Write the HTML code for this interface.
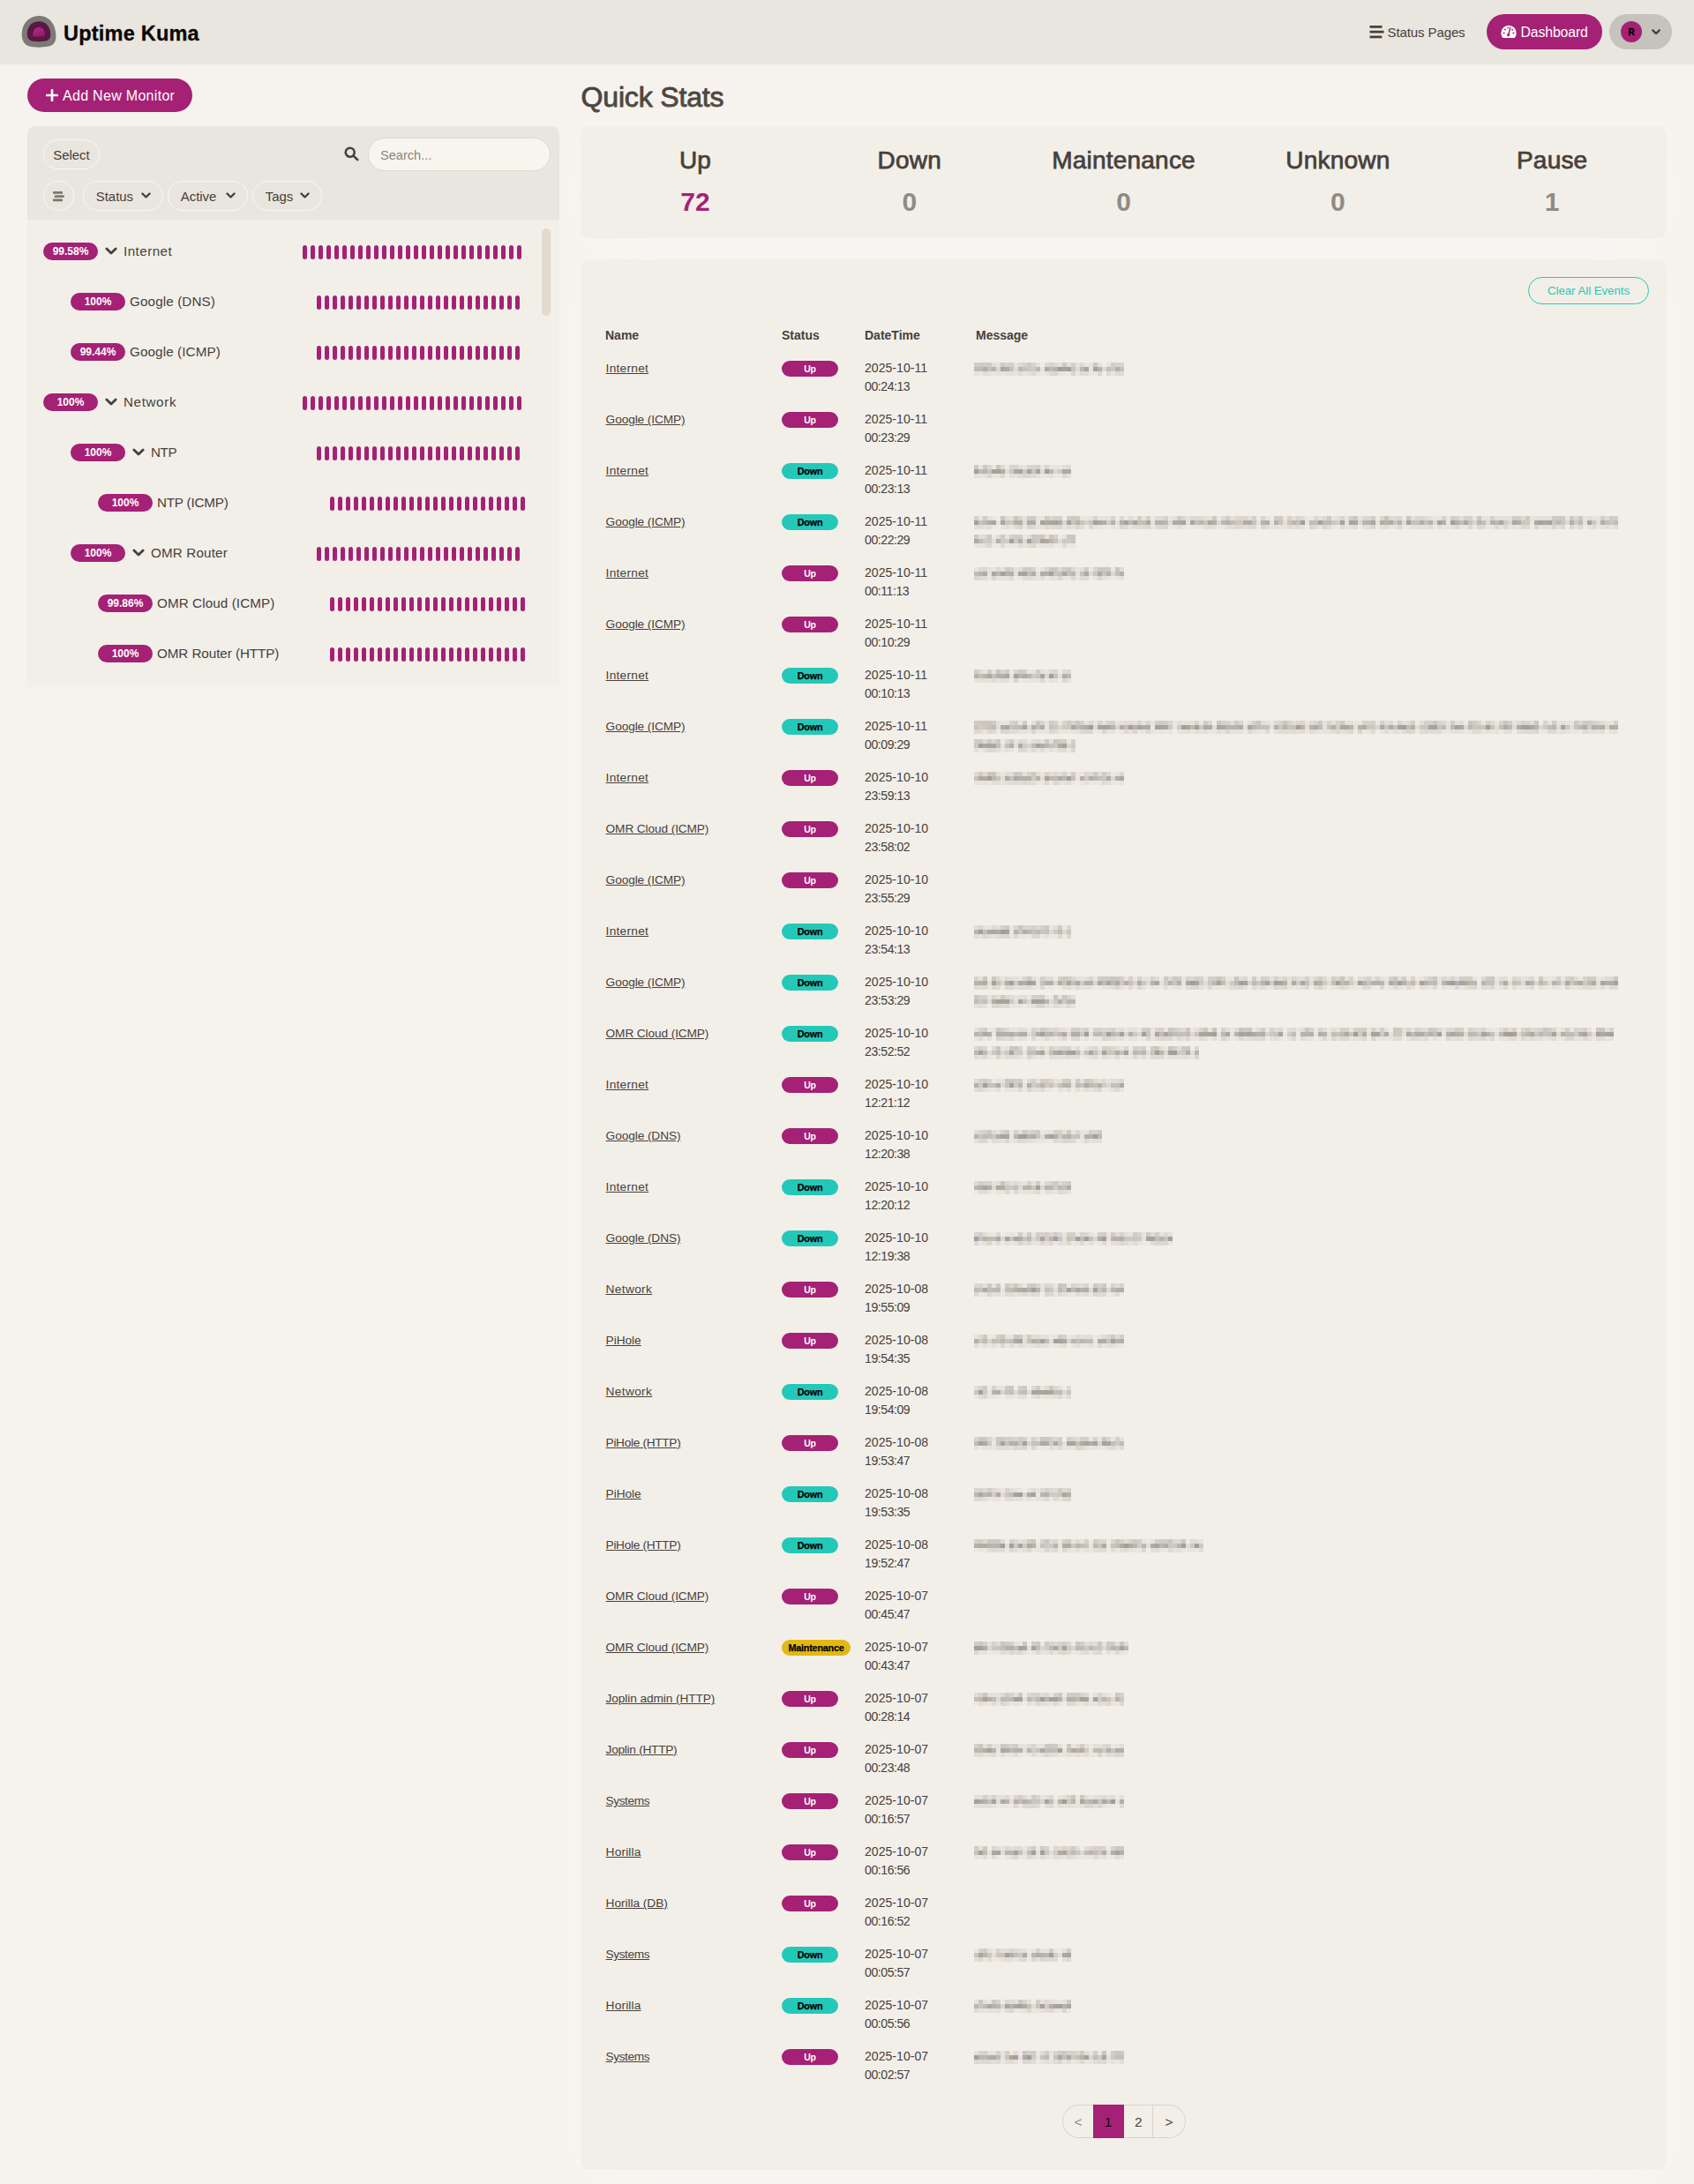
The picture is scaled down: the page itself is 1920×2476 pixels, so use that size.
<!DOCTYPE html><html><head><meta charset="utf-8"><title>Uptime Kuma</title><style>
*{box-sizing:border-box}
html,body{margin:0;padding:0}
body{width:1920px;height:2476px;background:#f6f3ee;font-family:"Liberation Sans",sans-serif;color:#47413a;position:relative;overflow:hidden;font-size:16px}
.abs{position:absolute}
#hdr{left:0;top:0;width:1920px;height:73px;background:#e9e5df}
#title{left:72px;top:21px;font-size:23.5px;font-weight:700;color:#0a0604;line-height:34px;white-space:nowrap;letter-spacing:0.22px;-webkit-text-stroke:0.3px #0a0604}
.pill{border-radius:50rem}
#addbtn{left:31px;top:89px;width:187px;height:38px;background:#a52175;color:#fff;}
#addbtn span{position:absolute;left:40px;top:1.3px;line-height:38px;font-size:16px;white-space:nowrap;letter-spacing:0.3px}
#lpanel{left:31px;top:143px;width:603px;height:636px;background:#f2efe9;border-radius:10px 10px 0 0;overflow:hidden}
#lhead{left:0;top:0;width:603px;height:106px;background:#e9e5df}
.obtn{position:absolute;border:1px solid #faf8f4;border-radius:50rem;height:34px;line-height:35px;font-size:14.9px;color:#47413a;white-space:nowrap}
.item{position:absolute;left:0;width:603px;height:57px}
.ubadge{position:absolute;top:19px;width:62px;height:20px;border-radius:50rem;background:#a52175;color:#fff;font-size:12px;font-weight:700;text-align:center;line-height:21px;letter-spacing:0}
.iname{position:absolute;top:16.8px;line-height:24px;font-size:15.2px;white-space:nowrap}
.beats{position:absolute;top:22px;height:16px;display:flex}
.beats i{display:block;width:5px;height:16px;border-radius:3px;background:#a52175;margin-right:4px}
#qs{left:658.5px;top:89.8px;font-size:32px;line-height:40px;font-weight:400;-webkit-text-stroke:0.85px #47413a;white-space:nowrap;letter-spacing:-0.15px}
.box{background:#f2efe9;border-radius:10px;box-shadow:0 15px 70px rgba(255,252,250,.45)}
#lcover{left:0;top:73px;width:634px;height:2403px;background:#f6f3ee}
#stats{left:658px;top:143px;width:1231px;height:127px}
.stat{position:absolute;top:0;width:243px;text-align:center}
.stat h3{margin:0;position:absolute;left:0;width:243px;top:21.7px;font-size:28px;line-height:34px;font-weight:400;-webkit-text-stroke:0.75px #47413a;letter-spacing:0.2px}
.stat .num{position:absolute;left:0;width:243px;top:68px;font-size:30px;line-height:36px;font-weight:700;color:#8f8a85}
#events{left:658px;top:294px;width:1231px;height:2166px}
#clear{left:1074px;top:20px;width:137px;height:31px;border:1px solid #24c8b8;color:#24c8b8;font-size:13.2px;line-height:29.6px;text-align:center}
table{position:absolute;left:20px;top:68px;width:1190px;border-collapse:collapse;table-layout:fixed;font-size:13.8px;line-height:21px}
th{text-align:left;font-weight:700;padding:8px;height:37px;font-size:14px;letter-spacing:0}
td{padding:8px;vertical-align:top;height:58px}
td.n{width:200px}
td.n{padding-left:8.6px;font-size:13.7px}
td.n span{text-decoration:underline;text-underline-offset:0.6px}
td.s{width:94px}
td.d{width:126px}
td.d div{width:80px;font-size:14.1px}
.b{display:inline-block;min-width:64px;height:18px;border-radius:50rem;font-size:10.5px;font-weight:700;line-height:18px;text-align:center;padding:0 8.5px;vertical-align:top;margin-top:2px;letter-spacing:-0.2px}
.b.up{background:#a52175;color:#fff}
.b.down{background:#24c8b8;color:#000;font-size:10.8px;-webkit-text-stroke:0.25px #000}
.b.mt{background:#e3b813;color:#000;font-size:10.8px;-webkit-text-stroke:0.25px #000;padding:0 7.4px;white-space:nowrap}
.blur{display:block;height:15px;margin:4px 0 0 -2px}
.blur+.blur{margin-top:6px}
#pag{left:546px;top:2092px;height:38.3px;width:142px;display:flex;font-size:15.5px;line-height:37.6px;text-align:center}
#pag div{width:35px;border:1px solid #ddd3c5;border-left:0;height:38.3px}
#pag div:first-child{border-left:1px solid #ddd3c5;border-right:0;border-radius:19.2px 0 0 19.2px;width:35px}
#pag div:last-child{border-radius:0 19.2px 19.2px 0;width:36.6px}
</style></head><body>
<div id="hdr" class="abs">
<svg class="abs" style="left:24px;top:17px" width="41" height="38" viewBox="0 0 41 38"><defs><linearGradient id="lg" x1="0.3" y1="0" x2="0.7" y2="1"><stop offset="0" stop-color="#b5278a"/><stop offset="1" stop-color="#8f1c68"/></linearGradient></defs><path d="M19.5 1 C30 0.5 37.5 8 39 19 C40.5 29 38 34.5 30 35.8 C24 36.8 15 37.2 9.5 35.5 C2 33.2 -0.5 26 1.2 17 C3 8 9.5 1.5 19.5 1 Z" fill="#7d7a75"/><path d="M19.8 7.2 C27.5 7 32.5 12.5 33.2 20 C33.8 26 32 28.8 27 29.6 C22.5 30.3 16.5 30.4 12.5 29.5 C7.5 28.4 6.2 24.5 7 18.8 C8 12 12.5 7.4 19.8 7.2 Z" fill="#581843"/><path d="M20 14 C24 14 26.8 17.2 27 21.2 C27.1 23.3 26.5 23.8 25 24.1 C22.3 24.6 17.8 24.7 15.2 24.3 C13.6 24 13 23.3 13.2 21.2 C13.6 17.2 16 14 20 14 Z" fill="url(#lg)"/></svg>
<div id="title" class="abs">Uptime Kuma</div>
<svg class="abs" style="left:1551.5px;top:29px" width="17" height="15" viewBox="0 0 17 15"><rect x="0.5" y="0.1" width="14" height="2.7" rx="0.3" fill="#47413a"/><rect x="0.5" y="5.8" width="16" height="2.7" rx="0.3" fill="#47413a"/><rect x="0.5" y="11.5" width="13.8" height="2.7" rx="0.3" fill="#47413a"/></svg>
<div class="abs" style="left:1572.5px;top:25px;line-height:24px;font-size:15px;white-space:nowrap;letter-spacing:-0.1px">Status Pages</div>
<div class="abs pill" style="left:1685px;top:16px;width:131px;height:40px;background:#a52175"></div>
<svg class="abs" style="left:1701px;top:28px" width="18" height="16" viewBox="0 0 18 16"><path d="M9 0.8 A8.6 8.6 0 0 0 0.4 9.4 C0.4 11.2 0.9 12.9 1.8 14.3 C2 14.7 2.4 14.9 2.8 14.9 H15.2 C15.6 14.9 16 14.7 16.2 14.3 C17.1 12.9 17.6 11.2 17.6 9.4 A8.6 8.6 0 0 0 9 0.8 Z" fill="#fff"/><circle cx="3.6" cy="9.6" r="1" fill="#a52175"/><circle cx="5" cy="5.6" r="1" fill="#a52175"/><circle cx="14.4" cy="9.6" r="1" fill="#a52175"/><circle cx="13.2" cy="5.8" r="1" fill="#a52175"/><circle cx="8.2" cy="3.6" r="0.9" fill="#a52175"/><path d="M10.9 3.4 L8.6 11.4" stroke="#a52175" stroke-width="1.5" stroke-linecap="round"/><circle cx="8.6" cy="11.6" r="1.7" fill="#a52175"/></svg>
<div class="abs" style="left:1723.5px;top:25px;line-height:24px;font-size:15.8px;letter-spacing:-0.12px;color:#fff;white-space:nowrap">Dashboard</div>
<div class="abs pill" style="left:1824px;top:16px;width:71px;height:40px;background:#c6c2bc"></div>
<div class="abs" style="left:1837px;top:24px;width:24px;height:24px;border-radius:50%;background:#a52175;color:#000;font-size:10px;font-weight:700;-webkit-text-stroke:0.3px #000;text-align:center;line-height:25px">R</div>
<div class="abs" style="left:1872px;top:32.8px;line-height:0"><svg width="10" height="6.4" viewBox="0 0 12 7.6" style=""><path d="M1.6 1.6 L6 6 L10.4 1.6" fill="none" stroke="#4a463f" stroke-width="2.9" stroke-linecap="round" stroke-linejoin="round"/></svg></div>
</div>
<div id="qs" class="abs">Quick Stats</div>
<div id="stats" class="abs box">
<div class="stat" style="left:8.5px"><h3>Up</h3><div class="num" style="color:#a52175">72</div></div>
<div class="stat" style="left:251.3px"><h3>Down</h3><div class="num">0</div></div>
<div class="stat" style="left:494.1px"><h3>Maintenance</h3><div class="num">0</div></div>
<div class="stat" style="left:736.9px"><h3>Unknown</h3><div class="num">0</div></div>
<div class="stat" style="left:979.7px"><h3>Pause</h3><div class="num">1</div></div>
</div>
<div id="events" class="abs box">
<div id="clear" class="abs pill">Clear All Events</div>
<table><thead><tr><th style="width:200px">Name</th><th style="width:94px">Status</th><th style="width:126px">DateTime</th><th>Message</th></tr></thead><tbody>
<tr><td class="n"><span style="letter-spacing:0.26px">Internet</span></td><td class="s"><span class="b up">Up</span></td><td class="d"><div>2025-10-11 <span style="letter-spacing:-0.45px">00:24:13</span></div></td><td class="m"><span class="blur" style="width:170px;background:linear-gradient(90deg,#d1ccc1 0px,#d1ccc1 5px,#ccc9c7 5px,#ccc9c7 10px,#d1cbc3 10px,#d1cbc3 15px,#cdcac7 15px,#cdcac7 20px,#e1e1d6 20px,#e1e1d6 25px,#e6e3d7 25px,#e6e3d7 30px,#cfc9c7 30px,#cfc9c7 35px,#d4d4ca 35px,#d4d4ca 40px,#d2cec6 40px,#d2cec6 45px,#e5e4d9 45px,#e5e4d9 50px,#dbd9d6 50px,#dbd9d6 55px,#d7d2cf 55px,#d7d2cf 60px,#cacabf 60px,#cacabf 65px,#dad3c7 65px,#dad3c7 70px,#e6e1d8 70px,#e6e1d8 75px,#f2ebe4 75px,#f2ebe4 80px,#dcd9d5 80px,#dcd9d5 85px,#d6d5ca 85px,#d6d5ca 90px,#e0d9d2 90px,#e0d9d2 95px,#e6e2d7 95px,#e6e2d7 100px,#cbcac0 100px,#cbcac0 105px,#e2e0d9 105px,#e2e0d9 110px,#d6cfc7 110px,#d6cfc7 115px,#e3e2d8 115px,#e3e2d8 120px,#dfdad3 120px,#dfdad3 125px,#ece5e2 125px,#ece5e2 130px,#e7e3da 130px,#e7e3da 135px,#cacac4 135px,#cacac4 140px,#e6e2da 140px,#e6e2da 145px,#f1ecea 145px,#f1ecea 150px,#e8e3df 150px,#e8e3df 155px,#d4cdcb 155px,#d4cdcb 160px,#d7d3cf 160px,#d7d3cf 165px,#dbd5cd 165px,#dbd5cd 170px) 0 0/100% 5px no-repeat,linear-gradient(90deg,#bebdb9 0px,#bebdb9 5px,#c0bab0 5px,#c0bab0 10px,#b1afa7 10px,#b1afa7 15px,#c5c1b9 15px,#c5c1b9 20px,#bab4af 20px,#bab4af 25px,#d9d8d4 25px,#d9d8d4 30px,#aaa79b 30px,#aaa79b 35px,#acaca3 35px,#acaca3 40px,#c5c3bd 40px,#c5c3bd 45px,#ddddd9 45px,#ddddd9 50px,#bdb8ad 50px,#bdb8ad 55px,#c7c2be 55px,#c7c2be 60px,#cacac1 60px,#cacac1 65px,#cfc9c1 65px,#cfc9c1 70px,#bdb7b4 70px,#bdb7b4 75px,#e9e3e1 75px,#e9e3e1 80px,#abaaa5 80px,#abaaa5 85px,#bcbab7 85px,#bcbab7 90px,#b3b3b0 90px,#b3b3b0 95px,#a09e94 95px,#a09e94 100px,#a9a499 100px,#a9a499 105px,#a09f9a 105px,#a09f9a 110px,#cbc5c1 110px,#cbc5c1 115px,#e1dcd1 115px,#e1dcd1 120px,#bcb5b2 120px,#bcb5b2 125px,#aca59c 125px,#aca59c 130px,#eae3dd 130px,#eae3dd 135px,#a5a3a0 135px,#a5a3a0 140px,#b7b3aa 140px,#b7b3aa 145px,#d9d9d4 145px,#d9d9d4 150px,#c4bfbb 150px,#c4bfbb 155px,#cacac0 155px,#cacac0 160px,#b2b1ab 160px,#b2b1ab 165px,#c4bfbb 165px,#c4bfbb 170px) 0 5px/100% 5px no-repeat,linear-gradient(90deg,#e4e1d7 0px,#e4e1d7 5px,#ece7db 5px,#ece7db 10px,#e0ddd8 10px,#e0ddd8 15px,#e5e2dd 15px,#e5e2dd 20px,#ede6df 20px,#ede6df 25px,#e4e4de 25px,#e4e4de 30px,#e9e5e0 30px,#e9e5e0 35px,#e8e1da 35px,#e8e1da 40px,#e2e1dc 40px,#e2e1dc 45px,#e8e5dc 45px,#e8e5dc 50px,#e1dcd7 50px,#e1dcd7 55px,#e5e5dc 55px,#e5e5dc 60px,#e2e1d5 60px,#e2e1d5 65px,#dfd9d4 65px,#dfd9d4 70px,#e7e5dd 70px,#e7e5dd 75px,#eae9e1 75px,#eae9e1 80px,#eae4e1 80px,#eae4e1 85px,#dddbd7 85px,#dddbd7 90px,#d8d6cb 90px,#d8d6cb 95px,#e6e4d9 95px,#e6e4d9 100px,#eae5e1 100px,#eae5e1 105px,#e9e7e5 105px,#e9e7e5 110px,#d7d6cc 110px,#d7d6cc 115px,#ece6e1 115px,#ece6e1 120px,#dcdcd6 120px,#dcdcd6 125px,#e0dcd2 125px,#e0dcd2 130px,#ece7e1 130px,#ece7e1 135px,#ede7e3 135px,#ede7e3 140px,#dcd7ce 140px,#dcd7ce 145px,#f2ece2 145px,#f2ece2 150px,#dcdad0 150px,#dcdad0 155px,#e6e6dd 155px,#e6e6dd 160px,#dbdbd7 160px,#dbdbd7 165px,#dddbd2 165px,#dddbd2 170px) 0 10px/100% 5px no-repeat"></span></td></tr>
<tr><td class="n"><span style="letter-spacing:-0.11px">Google (ICMP)</span></td><td class="s"><span class="b up">Up</span></td><td class="d"><div>2025-10-11 <span style="letter-spacing:-0.45px">00:23:29</span></div></td><td class="m"></td></tr>
<tr><td class="n"><span style="letter-spacing:0.26px">Internet</span></td><td class="s"><span class="b down">Down</span></td><td class="d"><div>2025-10-11 <span style="letter-spacing:-0.45px">00:23:13</span></div></td><td class="m"><span class="blur" style="width:110px;background:linear-gradient(90deg,#cec9bd 0px,#cec9bd 5px,#e5e4da 5px,#e5e4da 10px,#ccc9c4 10px,#ccc9c4 15px,#d7d7d4 15px,#d7d7d4 20px,#ede6dc 20px,#ede6dc 25px,#c8c7be 25px,#c8c7be 30px,#dddad4 30px,#dddad4 35px,#f0e9df 35px,#f0e9df 40px,#d9d5cb 40px,#d9d5cb 45px,#d9d2ce 45px,#d9d2ce 50px,#e1e0d8 50px,#e1e0d8 55px,#e7e2df 55px,#e7e2df 60px,#dbd5d2 60px,#dbd5d2 65px,#d7d3d0 65px,#d7d3d0 70px,#d4cfcb 70px,#d4cfcb 75px,#e8e6dd 75px,#e8e6dd 80px,#d5d4cc 80px,#d5d4cc 85px,#e7e5d9 85px,#e7e5d9 90px,#e7e5dd 90px,#e7e5dd 95px,#ece6df 95px,#ece6df 100px,#e3e0d9 100px,#e3e0d9 105px,#dbdad3 105px,#dbdad3 110px) 0 0/100% 5px no-repeat,linear-gradient(90deg,#a49f95 0px,#a49f95 5px,#c2bbb9 5px,#c2bbb9 10px,#bbb6ac 10px,#bbb6ac 15px,#c9c5bb 15px,#c9c5bb 20px,#a3a29d 20px,#a3a29d 25px,#a5a49e 25px,#a5a49e 30px,#afafab 30px,#afafab 35px,#dedcd4 35px,#dedcd4 40px,#cdc9c1 40px,#cdc9c1 45px,#aea7a0 45px,#aea7a0 50px,#a7a3a1 50px,#a7a3a1 55px,#cccac2 55px,#cccac2 60px,#a6a2a0 60px,#a6a2a0 65px,#c7c6c0 65px,#c7c6c0 70px,#a6a3a0 70px,#a6a3a0 75px,#dddcd3 75px,#dddcd3 80px,#a39e94 80px,#a39e94 85px,#bcb8ad 85px,#bcb8ad 90px,#d8d8ce 90px,#d8d8ce 95px,#cecbc8 95px,#cecbc8 100px,#aca8a6 100px,#aca8a6 105px,#aca9a3 105px,#aca9a3 110px) 0 5px/100% 5px no-repeat,linear-gradient(90deg,#e2dfd9 0px,#e2dfd9 5px,#e6e4de 5px,#e6e4de 10px,#e1e1db 10px,#e1e1db 15px,#d7d7d5 15px,#d7d7d5 20px,#e9e6dc 20px,#e9e6dc 25px,#e8e5dc 25px,#e8e5dc 30px,#dfd9cd 30px,#dfd9cd 35px,#f1ebe1 35px,#f1ebe1 40px,#e2dfda 40px,#e2dfda 45px,#e3e0d4 45px,#e3e0d4 50px,#e0dad3 50px,#e0dad3 55px,#d9d7d5 55px,#d9d7d5 60px,#dcd8d0 60px,#dcd8d0 65px,#dbdbd8 65px,#dbdbd8 70px,#e6e2d7 70px,#e6e2d7 75px,#ebe7e5 75px,#ebe7e5 80px,#e6e4e0 80px,#e6e4e0 85px,#e5dedc 85px,#e5dedc 90px,#ede8e1 90px,#ede8e1 95px,#ece7e2 95px,#ece7e2 100px,#dbd7d2 100px,#dbd7d2 105px,#e3e1df 105px,#e3e1df 110px) 0 10px/100% 5px no-repeat"></span></td></tr>
<tr><td class="n"><span style="letter-spacing:-0.11px">Google (ICMP)</span></td><td class="s"><span class="b down">Down</span></td><td class="d"><div>2025-10-11 <span style="letter-spacing:-0.45px">00:22:29</span></div></td><td class="m"><span class="blur" style="width:730px;background:linear-gradient(90deg,#d5cfc8 0px,#d5cfc8 5px,#e7e5df 5px,#e7e5df 10px,#cfcfc5 10px,#cfcfc5 15px,#e3e1d7 15px,#e3e1d7 20px,#e6e6da 20px,#e6e6da 25px,#eeebe8 25px,#eeebe8 30px,#c7c7c3 30px,#c7c7c3 35px,#deddd5 35px,#deddd5 40px,#e2e2d6 40px,#e2e2d6 45px,#cac7be 45px,#cac7be 50px,#d6d6cd 50px,#d6d6cd 55px,#e4e3d7 55px,#e4e3d7 60px,#d1cac4 60px,#d1cac4 65px,#cecac5 65px,#cecac5 70px,#e8e5d9 70px,#e8e5d9 75px,#eae3db 75px,#eae3db 80px,#d1cabe 80px,#d1cabe 85px,#d8d8cd 85px,#d8d8cd 90px,#d3d2c7 90px,#d3d2c7 95px,#d4cfc9 95px,#d4cfc9 100px,#f0ece1 100px,#f0ece1 105px,#cecec5 105px,#cecec5 110px,#d0c9c3 110px,#d0c9c3 115px,#cfccc0 115px,#cfccc0 120px,#e9e5db 120px,#e9e5db 125px,#ede6dd 125px,#ede6dd 130px,#e4e3d9 130px,#e4e3d9 135px,#d6d2cf 135px,#d6d2cf 140px,#e4e4de 140px,#e4e4de 145px,#e4e3d9 145px,#e4e3d9 150px,#e6e2da 150px,#e6e2da 155px,#d6d3d0 155px,#d6d3d0 160px,#ecebe7 160px,#ecebe7 165px,#dbd6d2 165px,#dbd6d2 170px,#eae6e3 170px,#eae6e3 175px,#e0ddd4 175px,#e0ddd4 180px,#ebe5e3 180px,#ebe5e3 185px,#d0d0c7 185px,#d0d0c7 190px,#e8e2dc 190px,#e8e2dc 195px,#d5cfc8 195px,#d5cfc8 200px,#ede8e5 200px,#ede8e5 205px,#dbdbd4 205px,#dbdbd4 210px,#e1dbd8 210px,#e1dbd8 215px,#d2d2cc 215px,#d2d2cc 220px,#ebe6e3 220px,#ebe6e3 225px,#e5dfd4 225px,#e5dfd4 230px,#cfcac2 230px,#cfcac2 235px,#d7d7d1 235px,#d7d7d1 240px,#e3e3d7 240px,#e3e3d7 245px,#dad8d3 245px,#dad8d3 250px,#ddd7cd 250px,#ddd7cd 255px,#dddad3 255px,#dddad3 260px,#e1e1d5 260px,#e1e1d5 265px,#e2dfdc 265px,#e2dfdc 270px,#cfc9c0 270px,#cfc9c0 275px,#edebdf 275px,#edebdf 280px,#dfd8d6 280px,#dfd8d6 285px,#d0cec5 285px,#d0cec5 290px,#e5e0da 290px,#e5e0da 295px,#ddd9cd 295px,#ddd9cd 300px,#dcd6ca 300px,#dcd6ca 305px,#d9d5cc 305px,#d9d5cc 310px,#e0dfdb 310px,#e0dfdb 315px,#d1d0cb 315px,#d1d0cb 320px,#f1eae0 320px,#f1eae0 325px,#dbd4cd 325px,#dbd4cd 330px,#e8e2de 330px,#e8e2de 335px,#edeae5 335px,#edeae5 340px,#cdcbc4 340px,#cdcbc4 345px,#d0cbc6 345px,#d0cbc6 350px,#ebe7dc 350px,#ebe7dc 355px,#d2d2ca 355px,#d2d2ca 360px,#e4ded4 360px,#e4ded4 365px,#d9d3cd 365px,#d9d3cd 370px,#dbdbd2 370px,#dbdbd2 375px,#ebe6e2 375px,#ebe6e2 380px,#e9e6e3 380px,#e9e6e3 385px,#dad7cf 385px,#dad7cf 390px,#e6dfd7 390px,#e6dfd7 395px,#d9d9d5 395px,#d9d9d5 400px,#cec8bf 400px,#cec8bf 405px,#e5e5e2 405px,#e5e5e2 410px,#e6dfd6 410px,#e6dfd6 415px,#d6d5d0 415px,#d6d5d0 420px,#e6e4da 420px,#e6e4da 425px,#d3ccc9 425px,#d3ccc9 430px,#c8c8c4 430px,#c8c8c4 435px,#e5e5d9 435px,#e5e5d9 440px,#dbd9cd 440px,#dbd9cd 445px,#dcd6d3 445px,#dcd6d3 450px,#cdccc6 450px,#cdccc6 455px,#edeae2 455px,#edeae2 460px,#d9d6cb 460px,#d9d6cb 465px,#c6c6bc 465px,#c6c6bc 470px,#e0d9d3 470px,#e0d9d3 475px,#dddad1 475px,#dddad1 480px,#d8d5d3 480px,#d8d5d3 485px,#ece8e6 485px,#ece8e6 490px,#cac7be 490px,#cac7be 495px,#e1e0da 495px,#e1e0da 500px,#dad4cd 500px,#dad4cd 505px,#dbd4d2 505px,#dbd4d2 510px,#e1dbd4 510px,#e1dbd4 515px,#e2dfdd 515px,#e2dfdd 520px,#e7e6e1 520px,#e7e6e1 525px,#e8e5df 525px,#e8e5df 530px,#d5d2c9 530px,#d5d2c9 535px,#e9e5df 535px,#e9e5df 540px,#d3ccc1 540px,#d3ccc1 545px,#d4d1c8 545px,#d4d1c8 550px,#e0e0d5 550px,#e0e0d5 555px,#d5cfcd 555px,#d5cfcd 560px,#d3d3c8 560px,#d3d3c8 565px,#eae4e2 565px,#eae4e2 570px,#cbc9c1 570px,#cbc9c1 575px,#e7e2df 575px,#e7e2df 580px,#e5e3dc 580px,#e5e3dc 585px,#d4d2c6 585px,#d4d2c6 590px,#e3e3dd 590px,#e3e3dd 595px,#e3ded7 595px,#e3ded7 600px,#e4e2df 600px,#e4e2df 605px,#e3e2dc 605px,#e3e2dc 610px,#d0cbc3 610px,#d0cbc3 615px,#d0cdc5 615px,#d0cdc5 620px,#e0dcd4 620px,#e0dcd4 625px,#cbcbc2 625px,#cbcbc2 630px,#eae5db 630px,#eae5db 635px,#e5e2db 635px,#e5e2db 640px,#e4dddb 640px,#e4dddb 645px,#e3e0d4 645px,#e3e0d4 650px,#dfdfd7 650px,#dfdfd7 655px,#cfc8c5 655px,#cfc8c5 660px,#cdc9c4 660px,#cdc9c4 665px,#cfcac3 665px,#cfcac3 670px,#ebe6db 670px,#ebe6db 675px,#ccc8c1 675px,#ccc8c1 680px,#dbd7d5 680px,#dbd7d5 685px,#cacac5 685px,#cacac5 690px,#eae3da 690px,#eae3da 695px,#e2ded6 695px,#e2ded6 700px,#e7e5dc 700px,#e7e5dc 705px,#e4e4de 705px,#e4e4de 710px,#d2cfc8 710px,#d2cfc8 715px,#e1dad3 715px,#e1dad3 720px,#cecbc3 720px,#cecbc3 725px,#d3d0c8 725px,#d3d0c8 730px) 0 0/100% 5px no-repeat,linear-gradient(90deg,#a2a299 0px,#a2a299 5px,#c6c1bd 5px,#c6c1bd 10px,#bab9b6 10px,#bab9b6 15px,#afaea9 15px,#afaea9 20px,#aaa49b 20px,#aaa49b 25px,#e4e2dd 25px,#e4e2dd 30px,#aca69d 30px,#aca69d 35px,#c8c5bb 35px,#c8c5bb 40px,#c9c8c2 40px,#c9c8c2 45px,#b4b0a5 45px,#b4b0a5 50px,#b4afa9 50px,#b4afa9 55px,#dfdcd3 55px,#dfdcd3 60px,#afada8 60px,#afada8 65px,#afada7 65px,#afada7 70px,#e9e6df 70px,#e9e6df 75px,#a8a29c 75px,#a8a29c 80px,#b0ada1 80px,#b0ada1 85px,#aba4a2 85px,#aba4a2 90px,#a4a49b 90px,#a4a49b 95px,#b3aca5 95px,#b3aca5 100px,#d9d5d0 100px,#d9d5d0 105px,#a5a5a0 105px,#a5a5a0 110px,#c7c4c1 110px,#c7c4c1 115px,#b7b5ac 115px,#b7b5ac 120px,#c8c4b8 120px,#c8c4b8 125px,#d5d4c8 125px,#d5d4c8 130px,#c9c4bf 130px,#c9c4bf 135px,#a5a099 135px,#a5a099 140px,#a7a7a2 140px,#a7a7a2 145px,#aeaea3 145px,#aeaea3 150px,#cfccca 150px,#cfccca 155px,#b8b2a6 155px,#b8b2a6 160px,#e1dfd4 160px,#e1dfd4 165px,#b2b1ac 165px,#b2b1ac 170px,#a7a096 170px,#a7a096 175px,#bdbcb4 175px,#bdbcb4 180px,#aaa498 180px,#aaa498 185px,#c3c1b5 185px,#c3c1b5 190px,#c1c0b4 190px,#c1c0b4 195px,#aea8a2 195px,#aea8a2 200px,#e5e1d5 200px,#e5e1d5 205px,#b7b1af 205px,#b7b1af 210px,#b6b1a9 210px,#b6b1a9 215px,#b8b8b1 215px,#b8b8b1 220px,#e0dad2 220px,#e0dad2 225px,#ababa3 225px,#ababa3 230px,#aea8a5 230px,#aea8a5 235px,#a9a398 235px,#a9a398 240px,#e6dfdb 240px,#e6dfdb 245px,#a6a6a4 245px,#a6a6a4 250px,#c3c1b5 250px,#c3c1b5 255px,#b8b7ac 255px,#b8b7ac 260px,#cac5bb 260px,#cac5bb 265px,#aaa8a1 265px,#aaa8a1 270px,#b2b0a6 270px,#b2b0a6 275px,#dad9d6 275px,#dad9d6 280px,#bdb6b1 280px,#bdb6b1 285px,#b3b1af 285px,#b3b1af 290px,#c1bcba 290px,#c1bcba 295px,#cac4c1 295px,#cac4c1 300px,#cdcbbf 300px,#cdcbbf 305px,#b2aca1 305px,#b2aca1 310px,#b1aaa6 310px,#b1aaa6 315px,#c5c2c0 315px,#c5c2c0 320px,#e2e0d8 320px,#e2e0d8 325px,#b5b4b0 325px,#b5b4b0 330px,#b0adab 330px,#b0adab 335px,#e5e5d9 335px,#e5e5d9 340px,#b3b2aa 340px,#b3b2aa 345px,#cbc4ba 345px,#cbc4ba 350px,#e3ddd7 350px,#e3ddd7 355px,#c6c3bb 355px,#c6c3bb 360px,#bbb6ad 360px,#bbb6ad 365px,#c5beba 365px,#c5beba 370px,#9f9f94 370px,#9f9f94 375px,#eae3de 375px,#eae3de 380px,#c1bab6 380px,#c1bab6 385px,#c2bcb9 385px,#c2bcb9 390px,#a4a29b 390px,#a4a29b 395px,#beb9b6 395px,#beb9b6 400px,#babab8 400px,#babab8 405px,#c8c6c3 405px,#c8c6c3 410px,#d1ccc2 410px,#d1ccc2 415px,#a3a399 415px,#a3a399 420px,#e2e0de 420px,#e2e0de 425px,#a3a29d 425px,#a3a29d 430px,#ada6a0 430px,#ada6a0 435px,#dcd9d6 435px,#dcd9d6 440px,#b8b4b0 440px,#b8b4b0 445px,#b6b2a9 445px,#b6b2a9 450px,#aba79d 450px,#aba79d 455px,#e6e3d8 455px,#e6e3d8 460px,#b1aea7 460px,#b1aea7 465px,#b5b5b0 465px,#b5b5b0 470px,#afa9a5 470px,#afa9a5 475px,#cac6ba 475px,#cac6ba 480px,#b8b2ae 480px,#b8b2ae 485px,#dddcd2 485px,#dddcd2 490px,#a6a198 490px,#a6a198 495px,#c2c1bb 495px,#c2c1bb 500px,#c6c0b9 500px,#c6c0b9 505px,#b4aea7 505px,#b4aea7 510px,#c4c2bb 510px,#c4c2bb 515px,#b4b3aa 515px,#b4b3aa 520px,#dddbd0 520px,#dddbd0 525px,#a5a197 525px,#a5a197 530px,#b2aea2 530px,#b2aea2 535px,#ebe6e4 535px,#ebe6e4 540px,#a3a09c 540px,#a3a09c 545px,#b6b0a8 545px,#b6b0a8 550px,#c3bebc 550px,#c3bebc 555px,#ada6a1 555px,#ada6a1 560px,#c5c5c3 560px,#c5c5c3 565px,#d5d5ca 565px,#d5d5ca 570px,#b8b4b1 570px,#b8b4b1 575px,#c4bfb5 575px,#c4bfb5 580px,#e1dbd0 580px,#e1dbd0 585px,#b3b1ac 585px,#b3b1ac 590px,#bcb5b1 590px,#bcb5b1 595px,#a6a6a1 595px,#a6a6a1 600px,#cdcbc2 600px,#cdcbc2 605px,#d8d7cb 605px,#d8d7cb 610px,#aba79f 610px,#aba79f 615px,#aeaeac 615px,#aeaeac 620px,#ccc7bc 620px,#ccc7bc 625px,#cec7bc 625px,#cec7bc 630px,#ebe4df 630px,#ebe4df 635px,#a8a8a6 635px,#a8a8a6 640px,#a1a199 640px,#a1a199 645px,#aca9a5 645px,#aca9a5 650px,#a2a19f 650px,#a2a19f 655px,#c8c5c1 655px,#c8c5c1 660px,#bbb8ae 660px,#bbb8ae 665px,#cac4b9 665px,#cac4b9 670px,#ddd9d6 670px,#ddd9d6 675px,#b1b1a8 675px,#b1b1a8 680px,#cbcbc3 680px,#cbcbc3 685px,#c0b9b6 685px,#c0b9b6 690px,#e4e2dd 690px,#e4e2dd 695px,#a8a49f 695px,#a8a49f 700px,#c7c7c4 700px,#c7c7c4 705px,#e2dedc 705px,#e2dedc 710px,#b5afa3 710px,#b5afa3 715px,#c3bfb9 715px,#c3bfb9 720px,#cac7c4 720px,#cac7c4 725px,#bebeba 725px,#bebeba 730px) 0 5px/100% 5px no-repeat,linear-gradient(90deg,#e1ded9 0px,#e1ded9 5px,#e0dbd6 5px,#e0dbd6 10px,#e7e2d7 10px,#e7e2d7 15px,#e3ddd1 15px,#e3ddd1 20px,#eee7de 20px,#eee7de 25px,#ececea 25px,#ececea 30px,#e6e3d8 30px,#e6e3d8 35px,#e2dfd7 35px,#e2dfd7 40px,#e9e8dd 40px,#e9e8dd 45px,#dddbd9 45px,#dddbd9 50px,#d7d6d3 50px,#d7d6d3 55px,#ebe6e2 55px,#ebe6e2 60px,#d6d6d4 60px,#d6d6d4 65px,#dadad7 65px,#dadad7 70px,#e5e4d9 70px,#e5e4d9 75px,#e4e1d7 75px,#e4e1d7 80px,#ded8d5 80px,#ded8d5 85px,#e0ddd8 85px,#e0ddd8 90px,#d9d9d7 90px,#d9d9d7 95px,#dcd8cf 95px,#dcd8cf 100px,#e7e5e2 100px,#e7e5e2 105px,#e0dcd5 105px,#e0dcd5 110px,#e6e0da 110px,#e6e0da 115px,#dbd6d0 115px,#dbd6d0 120px,#dfdfd8 120px,#dfdfd8 125px,#f0e9e3 125px,#f0e9e3 130px,#dcd6d4 130px,#dcd6d4 135px,#e4e3dc 135px,#e4e3dc 140px,#e5e5db 140px,#e5e5db 145px,#ebe8e5 145px,#ebe8e5 150px,#ece8e4 150px,#ece8e4 155px,#e3e3d9 155px,#e3e3d9 160px,#ebe7e5 160px,#ebe7e5 165px,#dbd6cd 165px,#dbd6cd 170px,#e0d9d5 170px,#e0d9d5 175px,#eae5db 175px,#eae5db 180px,#e0ded8 180px,#e0ded8 185px,#dfdcd3 185px,#dfdcd3 190px,#dcdbcf 190px,#dcdbcf 195px,#dfd8ce 195px,#dfd8ce 200px,#eae5de 200px,#eae5de 205px,#dfd9d1 205px,#dfd9d1 210px,#ded8cc 210px,#ded8cc 215px,#dbd6d1 215px,#dbd6d1 220px,#ece8e0 220px,#ece8e0 225px,#e9e7df 225px,#e9e7df 230px,#e4ddd9 230px,#e4ddd9 235px,#e7e7e0 235px,#e7e7e0 240px,#ebe9e0 240px,#ebe9e0 245px,#ece7e3 245px,#ece7e3 250px,#ebe4de 250px,#ebe4de 255px,#ebe8e4 255px,#ebe8e4 260px,#e7e0d4 260px,#e7e0d4 265px,#e0ddd7 265px,#e0ddd7 270px,#e1dfdb 270px,#e1dfdb 275px,#ece7dc 275px,#ece7dc 280px,#ebe6e2 280px,#ebe6e2 285px,#e2ddd8 285px,#e2ddd8 290px,#dfdeda 290px,#dfdeda 295px,#dcd9d1 295px,#dcd9d1 300px,#dcdad4 300px,#dcdad4 305px,#e5dfd9 305px,#e5dfd9 310px,#dddcd0 310px,#dddcd0 315px,#ddd9d4 315px,#ddd9d4 320px,#f1eae8 320px,#f1eae8 325px,#dcd6ce 325px,#dcd6ce 330px,#e1ddd4 330px,#e1ddd4 335px,#e6e4de 335px,#e6e4de 340px,#e2e2dd 340px,#e2e2dd 345px,#e9e3de 345px,#e9e3de 350px,#e9e7db 350px,#e9e7db 355px,#e0d9d1 355px,#e0d9d1 360px,#e4e0d4 360px,#e4e0d4 365px,#dfd9d4 365px,#dfd9d4 370px,#e4e2dc 370px,#e4e2dc 375px,#f1eae1 375px,#f1eae1 380px,#dcd6cc 380px,#dcd6cc 385px,#e0dbd9 385px,#e0dbd9 390px,#e9e2df 390px,#e9e2df 395px,#dbd7cd 395px,#dbd7cd 400px,#dedcd7 400px,#dedcd7 405px,#ebe6e3 405px,#ebe6e3 410px,#efe8de 410px,#efe8de 415px,#e3dcd2 415px,#e3dcd2 420px,#e9e4da 420px,#e9e4da 425px,#e6e0d7 425px,#e6e0d7 430px,#dedcd4 430px,#dedcd4 435px,#edece1 435px,#edece1 440px,#e1e1db 440px,#e1e1db 445px,#e4ded6 445px,#e4ded6 450px,#d7d7d4 450px,#d7d7d4 455px,#f0eade 455px,#f0eade 460px,#e5e1de 460px,#e5e1de 465px,#e1ddd5 465px,#e1ddd5 470px,#e9e6de 470px,#e9e6de 475px,#e7e4e0 475px,#e7e4e0 480px,#dbdace 480px,#dbdace 485px,#eee7db 485px,#eee7db 490px,#eae7e3 490px,#eae7e3 495px,#e7e1d8 495px,#e7e1d8 500px,#e1dfd6 500px,#e1dfd6 505px,#e4e1db 505px,#e4e1db 510px,#e6e2da 510px,#e6e2da 515px,#e2dbd9 515px,#e2dbd9 520px,#ede8e3 520px,#ede8e3 525px,#e4dfd6 525px,#e4dfd6 530px,#ebe5da 530px,#ebe5da 535px,#eae5e1 535px,#eae5e1 540px,#e5dfdd 540px,#e5dfdd 545px,#ddd8d4 545px,#ddd8d4 550px,#ebe6da 550px,#ebe6da 555px,#e8e8dc 555px,#e8e8dc 560px,#d9d6d3 560px,#d9d6d3 565px,#ece8dd 565px,#ece8dd 570px,#dbd9d4 570px,#dbd9d4 575px,#e2dbd4 575px,#e2dbd4 580px,#e9e6de 580px,#e9e6de 585px,#e9e7dc 585px,#e9e7dc 590px,#dcd8d3 590px,#dcd8d3 595px,#e8e5db 595px,#e8e5db 600px,#dfd8cc 600px,#dfd8cc 605px,#e6e5df 605px,#e6e5df 610px,#e6e3df 610px,#e6e3df 615px,#ece5db 615px,#ece5db 620px,#ded7ce 620px,#ded7ce 625px,#e1dad5 625px,#e1dad5 630px,#edebe1 630px,#edebe1 635px,#d8d6cf 635px,#d8d6cf 640px,#ebe4d8 640px,#ebe4d8 645px,#e6dfd8 645px,#e6dfd8 650px,#e9e3d7 650px,#e9e3d7 655px,#dad8cc 655px,#dad8cc 660px,#e1e1df 660px,#e1e1df 665px,#dcd7d4 665px,#dcd7d4 670px,#f3ece3 670px,#f3ece3 675px,#dadad5 675px,#dadad5 680px,#e5e3dc 680px,#e5e3dc 685px,#ded9d2 685px,#ded9d2 690px,#eeebe5 690px,#eeebe5 695px,#e8e3db 695px,#e8e3db 700px,#deded8 700px,#deded8 705px,#ede8df 705px,#ede8df 710px,#e7e2d8 710px,#e7e2d8 715px,#e3ded9 715px,#e3ded9 720px,#e6e5de 720px,#e6e5de 725px,#e1dcd6 725px,#e1dcd6 730px) 0 10px/100% 5px no-repeat"></span><span class="blur" style="width:115px;background:linear-gradient(90deg,#cec8be 0px,#cec8be 5px,#dfdfd7 5px,#dfdfd7 10px,#dad9d7 10px,#dad9d7 15px,#cbc8bf 15px,#cbc8bf 20px,#ebebe1 20px,#ebebe1 25px,#e0ded2 25px,#e0ded2 30px,#cecbc9 30px,#cecbc9 35px,#e5e3e0 35px,#e5e3e0 40px,#d1d1c9 40px,#d1d1c9 45px,#ccccc5 45px,#ccccc5 50px,#d2cec4 50px,#d2cec4 55px,#eae6e2 55px,#eae6e2 60px,#e0e0d9 60px,#e0e0d9 65px,#cdc7bc 65px,#cdc7bc 70px,#d0c9be 70px,#d0c9be 75px,#c9c8c0 75px,#c9c8c0 80px,#e6dfdc 80px,#e6dfdc 85px,#ccc6bb 85px,#ccc6bb 90px,#d6cfc7 90px,#d6cfc7 95px,#ebeae7 95px,#ebeae7 100px,#e7e4e0 100px,#e7e4e0 105px,#ccc6c4 105px,#ccc6c4 110px,#c7c6c3 110px,#c7c6c3 115px) 0 0/100% 5px no-repeat,linear-gradient(90deg,#acaba7 0px,#acaba7 5px,#bcbcb6 5px,#bcbcb6 10px,#cfccc3 10px,#cfccc3 15px,#ceccca 15px,#ceccca 20px,#e1dfdc 20px,#e1dfdc 25px,#b7b0a7 25px,#b7b0a7 30px,#ccc8c6 30px,#ccc8c6 35px,#cbcbc9 35px,#cbcbc9 40px,#a1a195 40px,#a1a195 45px,#cac9c1 45px,#cac9c1 50px,#b5b1a6 50px,#b5b1a6 55px,#e0d9ce 55px,#e0d9ce 60px,#a6a19a 60px,#a6a19a 65px,#c9c2b9 65px,#c9c2b9 70px,#cbc9c5 70px,#cbc9c5 75px,#aaa599 75px,#aaa599 80px,#aea89f 80px,#aea89f 85px,#bdb6b0 85px,#bdb6b0 90px,#c7c2bc 90px,#c7c2bc 95px,#dcdcd1 95px,#dcdcd1 100px,#ccc7bc 100px,#ccc7bc 105px,#ccccc8 105px,#ccccc8 110px,#c8c4b9 110px,#c8c4b9 115px) 0 5px/100% 5px no-repeat,linear-gradient(90deg,#e6e3db 0px,#e6e3db 5px,#e8e2d7 5px,#e8e2d7 10px,#e4ddd7 10px,#e4ddd7 15px,#dbd6d0 15px,#dbd6d0 20px,#eee8e4 20px,#eee8e4 25px,#e8e8e2 25px,#e8e8e2 30px,#dcdad4 30px,#dcdad4 35px,#eee7e0 35px,#eee7e0 40px,#e8e7dd 40px,#e8e7dd 45px,#eee7df 45px,#eee7df 50px,#dfdcd6 50px,#dfdcd6 55px,#eae4db 55px,#eae4db 60px,#e0dcd1 60px,#e0dcd1 65px,#dcd6cd 65px,#dcd6cd 70px,#e8e7dd 70px,#e8e7dd 75px,#e2e1dc 75px,#e2e1dc 80px,#e6e2d8 80px,#e6e2d8 85px,#e7e0d6 85px,#e7e0d6 90px,#ebe8e3 90px,#ebe8e3 95px,#eae7e4 95px,#eae7e4 100px,#dfdbd4 100px,#dfdbd4 105px,#ede8e0 105px,#ede8e0 110px,#e8e6e1 110px,#e8e6e1 115px) 0 10px/100% 5px no-repeat"></span></td></tr>
<tr><td class="n"><span style="letter-spacing:0.26px">Internet</span></td><td class="s"><span class="b up">Up</span></td><td class="d"><div>2025-10-11 <span style="letter-spacing:-0.45px">00:11:13</span></div></td><td class="m"><span class="blur" style="width:170px;background:linear-gradient(90deg,#e4e3df 0px,#e4e3df 5px,#dadad3 5px,#dadad3 10px,#d7d7d4 10px,#d7d7d4 15px,#e5e2d7 15px,#e5e2d7 20px,#e8e5df 20px,#e8e5df 25px,#ddd7d4 25px,#ddd7d4 30px,#e4e2dc 30px,#e4e2dc 35px,#cdc8c3 35px,#cdc8c3 40px,#d7d1ce 40px,#d7d1ce 45px,#e2e2e0 45px,#e2e2e0 50px,#e4ddd4 50px,#e4ddd4 55px,#d0cac7 55px,#d0cac7 60px,#cfcbc4 60px,#cfcbc4 65px,#d5d4c8 65px,#d5d4c8 70px,#f0eae6 70px,#f0eae6 75px,#e4e2db 75px,#e4e2db 80px,#d8d5d1 80px,#d8d5d1 85px,#ccc8c1 85px,#ccc8c1 90px,#c9c9c7 90px,#c9c9c7 95px,#ddd6d4 95px,#ddd6d4 100px,#ceccc5 100px,#ceccc5 105px,#c9c6ba 105px,#c9c6ba 110px,#e0d9cd 110px,#e0d9cd 115px,#eae3dc 115px,#eae3dc 120px,#e1ddd5 120px,#e1ddd5 125px,#d2cdc4 125px,#d2cdc4 130px,#eae8df 130px,#eae8df 135px,#d7d5c9 135px,#d7d5c9 140px,#cdc6c1 140px,#cdc6c1 145px,#cac8c3 145px,#cac8c3 150px,#cfcac6 150px,#cfcac6 155px,#eae9e1 155px,#eae9e1 160px,#c8c7be 160px,#c8c7be 165px,#e0dbd6 165px,#e0dbd6 170px) 0 0/100% 5px no-repeat,linear-gradient(90deg,#bdbcb0 0px,#bdbcb0 5px,#b7b5ae 5px,#b7b5ae 10px,#acaca8 10px,#acaca8 15px,#e4e2d9 15px,#e4e2d9 20px,#aba79f 20px,#aba79f 25px,#bbb8b4 25px,#bbb8b4 30px,#a39f94 30px,#a39f94 35px,#b5b0ac 35px,#b5b0ac 40px,#b5aeab 40px,#b5aeab 45px,#e5ded5 45px,#e5ded5 50px,#a7a59b 50px,#a7a59b 55px,#a4a197 55px,#a4a197 60px,#c0bcb9 60px,#c0bcb9 65px,#b1aea7 65px,#b1aea7 70px,#e5e1dc 70px,#e5e1dc 75px,#aeada5 75px,#aeada5 80px,#b6b0ac 80px,#b6b0ac 85px,#a5a19d 85px,#a5a19d 90px,#c6c6bd 90px,#c6c6bd 95px,#c3beb4 95px,#c3beb4 100px,#ada6a4 100px,#ada6a4 105px,#c3bfbb 105px,#c3bfbb 110px,#bbb5b3 110px,#bbb5b3 115px,#e4e1db 115px,#e4e1db 120px,#c4c2be 120px,#c4c2be 125px,#aca9a5 125px,#aca9a5 130px,#dbdad7 130px,#dbdad7 135px,#cbc4be 135px,#cbc4be 140px,#aca9a5 140px,#aca9a5 145px,#c8c5ba 145px,#c8c5ba 150px,#b4b1af 150px,#b4b1af 155px,#dcd6d4 155px,#dcd6d4 160px,#c4bfb8 160px,#c4bfb8 165px,#b7b0ad 165px,#b7b0ad 170px) 0 5px/100% 5px no-repeat,linear-gradient(90deg,#dcd6cd 0px,#dcd6cd 5px,#dedad5 5px,#dedad5 10px,#e0dbd9 10px,#e0dbd9 15px,#ebe6db 15px,#ebe6db 20px,#dbd6cc 20px,#dbd6cc 25px,#e5e4e1 25px,#e5e4e1 30px,#e4e1da 30px,#e4e1da 35px,#e2e2dc 35px,#e2e2dc 40px,#e0d9d0 40px,#e0d9d0 45px,#ecece2 45px,#ecece2 50px,#e9e7e5 50px,#e9e7e5 55px,#deddd8 55px,#deddd8 60px,#dddbd8 60px,#dddbd8 65px,#e3dfd5 65px,#e3dfd5 70px,#e4e4e1 70px,#e4e4e1 75px,#e0dcda 75px,#e0dcda 80px,#efe8de 80px,#efe8de 85px,#e4ddda 85px,#e4ddda 90px,#e2e1dd 90px,#e2e1dd 95px,#dbd7d4 95px,#dbd7d4 100px,#ebe4d9 100px,#ebe4d9 105px,#eae6e3 105px,#eae6e3 110px,#dad9d1 110px,#dad9d1 115px,#e9e6e1 115px,#e9e6e1 120px,#e1dad2 120px,#e1dad2 125px,#dbdbcf 125px,#dbdbcf 130px,#f0eadf 130px,#f0eadf 135px,#e6e6de 135px,#e6e6de 140px,#dcd7d0 140px,#dcd7d0 145px,#e5e2db 145px,#e5e2db 150px,#e8e3db 150px,#e8e3db 155px,#ecece5 155px,#ecece5 160px,#e8e6da 160px,#e8e6da 165px,#e4e1d9 165px,#e4e1d9 170px) 0 10px/100% 5px no-repeat"></span></td></tr>
<tr><td class="n"><span style="letter-spacing:-0.11px">Google (ICMP)</span></td><td class="s"><span class="b up">Up</span></td><td class="d"><div>2025-10-11 <span style="letter-spacing:-0.45px">00:10:29</span></div></td><td class="m"></td></tr>
<tr><td class="n"><span style="letter-spacing:0.26px">Internet</span></td><td class="s"><span class="b down">Down</span></td><td class="d"><div>2025-10-11 <span style="letter-spacing:-0.45px">00:10:13</span></div></td><td class="m"><span class="blur" style="width:110px;background:linear-gradient(90deg,#ceccc9 0px,#ceccc9 5px,#e0dad5 5px,#e0dad5 10px,#e6e6e1 10px,#e6e6e1 15px,#d4cec6 15px,#d4cec6 20px,#e3e3e1 20px,#e3e3e1 25px,#ccc8bc 25px,#ccc8bc 30px,#d7d7cc 30px,#d7d7cc 35px,#d0ccc9 35px,#d0ccc9 40px,#eaeae2 40px,#eaeae2 45px,#d5d5cf 45px,#d5d5cf 50px,#d1cdc6 50px,#d1cdc6 55px,#d1d0ce 55px,#d1d0ce 60px,#eae6e3 60px,#eae6e3 65px,#e5e3da 65px,#e5e3da 70px,#cfcdc7 70px,#cfcdc7 75px,#e4e0da 75px,#e4e0da 80px,#e6e5db 80px,#e6e5db 85px,#dfd8cd 85px,#dfd8cd 90px,#dad4cf 90px,#dad4cf 95px,#efeae1 95px,#efeae1 100px,#e0d9d0 100px,#e0d9d0 105px,#d9d9d4 105px,#d9d9d4 110px) 0 0/100% 5px no-repeat,linear-gradient(90deg,#b6b3ae 0px,#b6b3ae 5px,#c4beb3 5px,#c4beb3 10px,#b7b7b0 10px,#b7b7b0 15px,#aba8a1 15px,#aba8a1 20px,#c6c1b8 20px,#c6c1b8 25px,#b3afaa 25px,#b3afaa 30px,#b0b0ae 30px,#b0b0ae 35px,#a9a89d 35px,#a9a89d 40px,#e6dfd3 40px,#e6dfd3 45px,#a7a198 45px,#a7a198 50px,#b5b4aa 50px,#b5b4aa 55px,#aeaca4 55px,#aeaca4 60px,#b8b3af 60px,#b8b3af 65px,#ccc9be 65px,#ccc9be 70px,#c9c5bb 70px,#c9c5bb 75px,#aba49e 75px,#aba49e 80px,#ded8d5 80px,#ded8d5 85px,#a49e94 85px,#a49e94 90px,#c4c3ba 90px,#c4c3ba 95px,#e2e0d8 95px,#e2e0d8 100px,#b0afa7 100px,#b0afa7 105px,#c1bab4 105px,#c1bab4 110px) 0 5px/100% 5px no-repeat,linear-gradient(90deg,#e5e1da 0px,#e5e1da 5px,#e8e2d6 5px,#e8e2d6 10px,#e0e0d7 10px,#e0e0d7 15px,#e9e2dc 15px,#e9e2dc 20px,#dfdbd7 20px,#dfdbd7 25px,#e9e3d8 25px,#e9e3d8 30px,#deddd6 30px,#deddd6 35px,#e3e0d9 35px,#e3e0d9 40px,#ede7e5 40px,#ede7e5 45px,#d6d6d0 45px,#d6d6d0 50px,#efe8e2 50px,#efe8e2 55px,#ebe7dd 55px,#ebe7dd 60px,#e9e3db 60px,#e9e3db 65px,#e9e4e2 65px,#e9e4e2 70px,#e8e1df 70px,#e8e1df 75px,#dbd8d5 75px,#dbd8d5 80px,#efeae0 80px,#efeae0 85px,#e4e2dd 85px,#e4e2dd 90px,#eae3db 90px,#eae3db 95px,#f0ebe1 95px,#f0ebe1 100px,#dad8d1 100px,#dad8d1 105px,#e5e0dd 105px,#e5e0dd 110px) 0 10px/100% 5px no-repeat"></span></td></tr>
<tr><td class="n"><span style="letter-spacing:-0.11px">Google (ICMP)</span></td><td class="s"><span class="b down">Down</span></td><td class="d"><div>2025-10-11 <span style="letter-spacing:-0.45px">00:09:29</span></div></td><td class="m"><span class="blur" style="width:730px;background:linear-gradient(90deg,#d1ccc1 0px,#d1ccc1 5px,#cec8c6 5px,#cec8c6 10px,#cac6bc 10px,#cac6bc 15px,#cac6be 15px,#cac6be 20px,#ccccc0 20px,#ccccc0 25px,#e5e2de 25px,#e5e2de 30px,#e9e5d9 30px,#e9e5d9 35px,#e8e6db 35px,#e8e6db 40px,#d8d2c7 40px,#d8d2c7 45px,#cfcdc9 45px,#cfcdc9 50px,#e7e6e4 50px,#e7e6e4 55px,#cdccc8 55px,#cdccc8 60px,#f1eae1 60px,#f1eae1 65px,#e1e1d5 65px,#e1e1d5 70px,#cbc6c2 70px,#cbc6c2 75px,#dad5cf 75px,#dad5cf 80px,#e4e4de 80px,#e4e4de 85px,#cdccc5 85px,#cdccc5 90px,#d9d2c7 90px,#d9d2c7 95px,#e8e8e6 95px,#e8e8e6 100px,#dad4c9 100px,#dad4c9 105px,#cfc8c6 105px,#cfc8c6 110px,#d8d5d0 110px,#d8d5d0 115px,#cac8bd 115px,#cac8bd 120px,#d6d1cf 120px,#d6d1cf 125px,#e7e3db 125px,#e7e3db 130px,#ddd6d3 130px,#ddd6d3 135px,#ebe5d9 135px,#ebe5d9 140px,#dad4ce 140px,#dad4ce 145px,#e6dfdd 145px,#e6dfdd 150px,#d6d5d1 150px,#d6d5d1 155px,#d5d0c8 155px,#d5d0c8 160px,#e4e4de 160px,#e4e4de 165px,#e4dfdc 165px,#e4dfdc 170px,#e1dbd4 170px,#e1dbd4 175px,#e0dfdc 175px,#e0dfdc 180px,#e6e1d7 180px,#e6e1d7 185px,#dbd5d0 185px,#dbd5d0 190px,#e7e3dc 190px,#e7e3dc 195px,#dbd5d3 195px,#dbd5d3 200px,#e6e6df 200px,#e6e6df 205px,#d2cfcb 205px,#d2cfcb 210px,#cecbc5 210px,#cecbc5 215px,#d5cec5 215px,#d5cec5 220px,#d7d5ce 220px,#d7d5ce 225px,#eae7df 225px,#eae7df 230px,#e1ded8 230px,#e1ded8 235px,#e7e4df 235px,#e7e4df 240px,#e4e2dc 240px,#e4e2dc 245px,#e7e2d8 245px,#e7e2d8 250px,#dbd5ca 250px,#dbd5ca 255px,#e9e6e2 255px,#e9e6e2 260px,#cecdc3 260px,#cecdc3 265px,#ddd7d5 265px,#ddd7d5 270px,#eeece6 270px,#eeece6 275px,#ccc6c3 275px,#ccc6c3 280px,#d4d1ca 280px,#d4d1ca 285px,#d3d2cf 285px,#d3d2cf 290px,#e1ddd8 290px,#e1ddd8 295px,#cecac7 295px,#cecac7 300px,#d8d4d0 300px,#d8d4d0 305px,#ece8e1 305px,#ece8e1 310px,#e6dfd3 310px,#e6dfd3 315px,#d2ceca 315px,#d2ceca 320px,#ccc7bb 320px,#ccc7bb 325px,#e2dcda 325px,#e2dcda 330px,#e6e3db 330px,#e6e3db 335px,#e8e7e3 335px,#e8e7e3 340px,#d9d8d2 340px,#d9d8d2 345px,#d4d4cc 345px,#d4d4cc 350px,#cac8c0 350px,#cac8c0 355px,#d6d2ce 355px,#d6d2ce 360px,#deded4 360px,#deded4 365px,#dbd9ce 365px,#dbd9ce 370px,#dbd4ca 370px,#dbd4ca 375px,#ece6da 375px,#ece6da 380px,#dcdcd9 380px,#dcdcd9 385px,#d8d8cd 385px,#d8d8cd 390px,#ccc9bd 390px,#ccc9bd 395px,#e3e3dc 395px,#e3e3dc 400px,#d8d3d0 400px,#d8d3d0 405px,#e6e0d5 405px,#e6e0d5 410px,#d8d4ca 410px,#d8d4ca 415px,#d0cbc3 415px,#d0cbc3 420px,#e7e2d8 420px,#e7e2d8 425px,#e2e2d6 425px,#e2e2d6 430px,#ebe5d9 430px,#ebe5d9 435px,#e8e6dd 435px,#e8e6dd 440px,#d2d2c8 440px,#d2d2c8 445px,#d8d6cc 445px,#d8d6cc 450px,#d3d0c6 450px,#d3d0c6 455px,#e9e6e4 455px,#e9e6e4 460px,#d5d0c9 460px,#d5d0c9 465px,#e1e0db 465px,#e1e0db 470px,#dbd9d5 470px,#dbd9d5 475px,#ece5e0 475px,#ece5e0 480px,#d5d5cb 480px,#d5d5cb 485px,#e4e2d6 485px,#e4e2d6 490px,#e0dcd8 490px,#e0dcd8 495px,#d2cfc8 495px,#d2cfc8 500px,#edece2 500px,#edece2 505px,#e3e1d5 505px,#e3e1d5 510px,#d6cfc7 510px,#d6cfc7 515px,#d4d3cd 515px,#d4d3cd 520px,#cbc6bd 520px,#cbc6bd 525px,#d3d3d1 525px,#d3d3d1 530px,#dbd7d2 530px,#dbd7d2 535px,#e7e3da 535px,#e7e3da 540px,#cfcdc6 540px,#cfcdc6 545px,#e9e2d7 545px,#e9e2d7 550px,#e1ddd9 550px,#e1ddd9 555px,#ebeae8 555px,#ebeae8 560px,#cdc6bd 560px,#cdc6bd 565px,#d0cbc0 565px,#d0cbc0 570px,#d7d6ca 570px,#d7d6ca 575px,#ebe5dc 575px,#ebe5dc 580px,#d7d2d0 580px,#d7d2d0 585px,#dddcd0 585px,#dddcd0 590px,#eae6da 590px,#eae6da 595px,#d6d5d1 595px,#d6d5d1 600px,#c7c7bf 600px,#c7c7bf 605px,#d3cfc8 605px,#d3cfc8 610px,#e6e4e1 610px,#e6e4e1 615px,#ded9d1 615px,#ded9d1 620px,#d6d1ca 620px,#d6d1ca 625px,#d9d4d0 625px,#d9d4d0 630px,#e1ddd8 630px,#e1ddd8 635px,#c9c9c6 635px,#c9c9c6 640px,#f1ebe9 640px,#f1ebe9 645px,#dad3cb 645px,#dad3cb 650px,#e7e5df 650px,#e7e5df 655px,#cdcbc6 655px,#cdcbc6 660px,#e6e4db 660px,#e6e4db 665px,#e0dfdd 665px,#e0dfdd 670px,#e9e2dd 670px,#e9e2dd 675px,#eae5e3 675px,#eae5e3 680px,#cec8c4 680px,#cec8c4 685px,#d9d8cc 685px,#d9d8cc 690px,#cfc9c2 690px,#cfc9c2 695px,#d1cac8 695px,#d1cac8 700px,#d3d1c9 700px,#d3d1c9 705px,#d8d8cf 705px,#d8d8cf 710px,#dfdcd3 710px,#dfdcd3 715px,#e8e3d9 715px,#e8e3d9 720px,#e9e3d9 720px,#e9e3d9 725px,#d5cfc4 725px,#d5cfc4 730px) 0 0/100% 5px no-repeat,linear-gradient(90deg,#c6c5c3 0px,#c6c5c3 5px,#d1ccc1 5px,#d1ccc1 10px,#ccc8bd 10px,#ccc8bd 15px,#c8c2bb 15px,#c8c2bb 20px,#bebcb6 20px,#bebcb6 25px,#deded9 25px,#deded9 30px,#b3aca9 30px,#b3aca9 35px,#aca79d 35px,#aca79d 40px,#c9c3bc 40px,#c9c3bc 45px,#c2bfb4 45px,#c2bfb4 50px,#c0bab4 50px,#c0bab4 55px,#a8a5a1 55px,#a8a5a1 60px,#dbdad5 60px,#dbdad5 65px,#afaea9 65px,#afaea9 70px,#c3bfb6 70px,#c3bfb6 75px,#b3aca7 75px,#b3aca7 80px,#e6e5db 80px,#e6e5db 85px,#c4c3bb 85px,#c4c3bb 90px,#cac9c0 90px,#cac9c0 95px,#d9d8cc 95px,#d9d8cc 100px,#cdccc3 100px,#cdccc3 105px,#cfc9bf 105px,#cfc9bf 110px,#aba89d 110px,#aba89d 115px,#bdbcb8 115px,#bdbcb8 120px,#b5b5ad 120px,#b5b5ad 125px,#adada6 125px,#adada6 130px,#a0a095 130px,#a0a095 135px,#e1dad4 135px,#e1dad4 140px,#a7a59d 140px,#a7a59d 145px,#a6a398 145px,#a6a398 150px,#aaa5a1 150px,#aaa5a1 155px,#bab5a9 155px,#bab5a9 160px,#d8d4d1 160px,#d8d4d1 165px,#b2ada3 165px,#b2ada3 170px,#c4bfb6 170px,#c4bfb6 175px,#a5a09d 175px,#a5a09d 180px,#b9b4a9 180px,#b9b4a9 185px,#a5a599 185px,#a5a599 190px,#b1ada6 190px,#b1ada6 195px,#b1aaa8 195px,#b1aaa8 200px,#ede6e3 200px,#ede6e3 205px,#a69f9c 205px,#a69f9c 210px,#a6a29e 210px,#a6a29e 215px,#aba79b 215px,#aba79b 220px,#cec8c4 220px,#cec8c4 225px,#eae6dc 225px,#eae6dc 230px,#cecac1 230px,#cecac1 235px,#9e9e97 235px,#9e9e97 240px,#aea79d 240px,#aea79d 245px,#bcbcba 245px,#bcbcba 250px,#a4a297 250px,#a4a297 255px,#cdc7be 255px,#cdc7be 260px,#afa8a0 260px,#afa8a0 265px,#adaca5 265px,#adaca5 270px,#e1ded8 270px,#e1ded8 275px,#a6a6a1 275px,#a6a6a1 280px,#ada89f 280px,#ada89f 285px,#bab3ab 285px,#bab3ab 290px,#b9b4b2 290px,#b9b4b2 295px,#bab3ac 295px,#bab3ac 300px,#acaca7 300px,#acaca7 305px,#e2e2d6 305px,#e2e2d6 310px,#a9a7a1 310px,#a9a7a1 315px,#bab6b3 315px,#bab6b3 320px,#c2beb7 320px,#c2beb7 325px,#c4c2c0 325px,#c4c2c0 330px,#c2c1bc 330px,#c2c1bc 335px,#e2e1da 335px,#e2e1da 340px,#b3b0ac 340px,#b3b0ac 345px,#cac9c3 345px,#cac9c3 350px,#b8b3a9 350px,#b8b3a9 355px,#c9c6bf 355px,#c9c6bf 360px,#c7c1ba 360px,#c7c1ba 365px,#a6a195 365px,#a6a195 370px,#b9b2a8 370px,#b9b2a8 375px,#e2dfda 375px,#e2dfda 380px,#b6b4b0 380px,#b6b4b0 385px,#abab9f 385px,#abab9f 390px,#c1bbb2 390px,#c1bbb2 395px,#e4e0dc 395px,#e4e0dc 400px,#c4c3bf 400px,#c4c3bf 405px,#b5b1ab 405px,#b5b1ab 410px,#d1ccc9 410px,#d1ccc9 415px,#abaa9f 415px,#abaa9f 420px,#ada99e 420px,#ada99e 425px,#bbb4ad 425px,#bbb4ad 430px,#e2e1d8 430px,#e2e1d8 435px,#b4b2ac 435px,#b4b2ac 440px,#aeaeaa 440px,#aeaeaa 445px,#cac6c1 445px,#cac6c1 450px,#cbcbc6 450px,#cbcbc6 455px,#dbd5cc 455px,#dbd5cc 460px,#aeaaa0 460px,#aeaaa0 465px,#c8c7c2 465px,#c8c7c2 470px,#adada9 470px,#adada9 475px,#c4c4c1 475px,#c4c4c1 480px,#a7a29e 480px,#a7a29e 485px,#a19e98 485px,#a19e98 490px,#c0c0b4 490px,#c0c0b4 495px,#b2b2ad 495px,#b2b2ad 500px,#e3dedc 500px,#e3dedc 505px,#cec7bf 505px,#cec7bf 510px,#cac5c1 510px,#cac5c1 515px,#a7a19f 515px,#a7a19f 520px,#a8a39a 520px,#a8a39a 525px,#cac4be 525px,#cac4be 530px,#bbbbb9 530px,#bbbbb9 535px,#e3dedc 535px,#e3dedc 540px,#bdb8b4 540px,#bdb8b4 545px,#a3a39f 545px,#a3a39f 550px,#adaba1 550px,#adaba1 555px,#dbd6cf 555px,#dbd6cf 560px,#beb9af 560px,#beb9af 565px,#cbc9bd 565px,#cbc9bd 570px,#c9c4bf 570px,#c9c4bf 575px,#c9c5bc 575px,#c9c5bc 580px,#a4a094 580px,#a4a094 585px,#c8c1b7 585px,#c8c1b7 590px,#e1dcd2 590px,#e1dcd2 595px,#c3bfbb 595px,#c3bfbb 600px,#aeaea4 600px,#aeaea4 605px,#bdbcb0 605px,#bdbcb0 610px,#e1dfd3 610px,#e1dfd3 615px,#b2aca9 615px,#b2aca9 620px,#a19f9c 620px,#a19f9c 625px,#a4a197 625px,#a4a197 630px,#ada99e 630px,#ada99e 635px,#b7b5b1 635px,#b7b5b1 640px,#d9d9d2 640px,#d9d9d2 645px,#cecbc2 645px,#cecbc2 650px,#c0bdb1 650px,#c0bdb1 655px,#bab4ab 655px,#bab4ab 660px,#dfdad8 660px,#dfdad8 665px,#a4a4a1 665px,#a4a4a1 670px,#cdc7bb 670px,#cdc7bb 675px,#dfdfda 675px,#dfdfda 680px,#c8c2ba 680px,#c8c2ba 685px,#b9b6b4 685px,#b9b6b4 690px,#aeaea8 690px,#aeaea8 695px,#d1cbc6 695px,#d1cbc6 700px,#b1aca7 700px,#b1aca7 705px,#b8b2a6 705px,#b8b2a6 710px,#b3afa6 710px,#b3afa6 715px,#dcdad1 715px,#dcdad1 720px,#b1afa9 720px,#b1afa9 725px,#b1b0a9 725px,#b1b0a9 730px) 0 5px/100% 5px no-repeat,linear-gradient(90deg,#ddd6d1 0px,#ddd6d1 5px,#e0dbcf 5px,#e0dbcf 10px,#e7e4d9 10px,#e7e4d9 15px,#dad7d0 15px,#dad7d0 20px,#ded7d3 20px,#ded7d3 25px,#eceae4 25px,#eceae4 30px,#d7d6d2 30px,#d7d6d2 35px,#d8d6d0 35px,#d8d6d0 40px,#dfdad7 40px,#dfdad7 45px,#e2dbcf 45px,#e2dbcf 50px,#e3e2da 50px,#e3e2da 55px,#e6e0d9 55px,#e6e0d9 60px,#e7e4df 60px,#e7e4df 65px,#d6d6d2 65px,#d6d6d2 70px,#e9e6db 70px,#e9e6db 75px,#e4e3e1 75px,#e4e3e1 80px,#e9e4e1 80px,#e9e4e1 85px,#dad9d0 85px,#dad9d0 90px,#e0dad8 90px,#e0dad8 95px,#e9e6da 95px,#e9e6da 100px,#e9e7db 100px,#e9e7db 105px,#e8e7dd 105px,#e8e7dd 110px,#e8e1de 110px,#e8e1de 115px,#e4e1dc 115px,#e4e1dc 120px,#dcd8d4 120px,#dcd8d4 125px,#dad6d0 125px,#dad6d0 130px,#d8d8d3 130px,#d8d8d3 135px,#ecece4 135px,#ecece4 140px,#ece7e1 140px,#ece7e1 145px,#dbd6d4 145px,#dbd6d4 150px,#e8e4da 150px,#e8e4da 155px,#e6e0da 155px,#e6e0da 160px,#f0eae3 160px,#f0eae3 165px,#ede7df 165px,#ede7df 170px,#e0dad2 170px,#e0dad2 175px,#e5e3d7 175px,#e5e3d7 180px,#d9d6cb 180px,#d9d6cb 185px,#eae6db 185px,#eae6db 190px,#e5e2dd 190px,#e5e2dd 195px,#dad9ce 195px,#dad9ce 200px,#e4e4dc 200px,#e4e4dc 205px,#ece7db 205px,#ece7db 210px,#e9e4db 210px,#e9e4db 215px,#e8e8df 215px,#e8e8df 220px,#eae5da 220px,#eae5da 225px,#f2ece7 225px,#f2ece7 230px,#e7e2df 230px,#e7e2df 235px,#e6e2d7 235px,#e6e2d7 240px,#e1e0d4 240px,#e1e0d4 245px,#eae7dc 245px,#eae7dc 250px,#e2ded5 250px,#e2ded5 255px,#e8e1d6 255px,#e8e1d6 260px,#dfddda 260px,#dfddda 265px,#ebe6dc 265px,#ebe6dc 270px,#e9e7e0 270px,#e9e7e0 275px,#dfddd9 275px,#dfddd9 280px,#e6e4d8 280px,#e6e4d8 285px,#dcd7cf 285px,#dcd7cf 290px,#e7e1de 290px,#e7e1de 295px,#e5e3dd 295px,#e5e3dd 300px,#e3e2db 300px,#e3e2db 305px,#ede9e0 305px,#ede9e0 310px,#dcd8d0 310px,#dcd8d0 315px,#e6dfdc 315px,#e6dfdc 320px,#ebe4e0 320px,#ebe4e0 325px,#e8e6e4 325px,#e8e6e4 330px,#dfdad1 330px,#dfdad1 335px,#efece1 335px,#efece1 340px,#e6e1d9 340px,#e6e1d9 345px,#deded4 345px,#deded4 350px,#dcdcd1 350px,#dcdcd1 355px,#deded3 355px,#deded3 360px,#dfdbd1 360px,#dfdbd1 365px,#e3ded8 365px,#e3ded8 370px,#e1ddd4 370px,#e1ddd4 375px,#ece5e2 375px,#ece5e2 380px,#dedcd4 380px,#dedcd4 385px,#e4dfdd 385px,#e4dfdd 390px,#eae4dd 390px,#eae4dd 395px,#e8e4dc 395px,#e8e4dc 400px,#e7e3dc 400px,#e7e3dc 405px,#e3ddd2 405px,#e3ddd2 410px,#dddacf 410px,#dddacf 415px,#e2e1d5 415px,#e2e1d5 420px,#e1dcd9 420px,#e1dcd9 425px,#dfd8d0 425px,#dfd8d0 430px,#f0eae1 430px,#f0eae1 435px,#d7d6cb 435px,#d7d6cb 440px,#efe8df 440px,#efe8df 445px,#e9e3da 445px,#e9e3da 450px,#dcdbd2 450px,#dcdbd2 455px,#f1eae6 455px,#f1eae6 460px,#e6e6da 460px,#e6e6da 465px,#e0ddd5 465px,#e0ddd5 470px,#e7e7db 470px,#e7e7db 475px,#e4dfd7 475px,#e4dfd7 480px,#e5e4e1 480px,#e5e4e1 485px,#deddd2 485px,#deddd2 490px,#d7d6cd 490px,#d7d6cd 495px,#dbd8cd 495px,#dbd8cd 500px,#ebebdf 500px,#ebebdf 505px,#e1dcd3 505px,#e1dcd3 510px,#ddd7cc 510px,#ddd7cc 515px,#e0dad8 515px,#e0dad8 520px,#dfdad3 520px,#dfdad3 525px,#dcdcd8 525px,#dcdcd8 530px,#ebe7dd 530px,#ebe7dd 535px,#e9e8e1 535px,#e9e8e1 540px,#e6e2d6 540px,#e6e2d6 545px,#e5dfd5 545px,#e5dfd5 550px,#e3e3dd 550px,#e3e3dd 555px,#ebe8e0 555px,#ebe8e0 560px,#e7e3dd 560px,#e7e3dd 565px,#dedcda 565px,#dedcda 570px,#e1dcd3 570px,#e1dcd3 575px,#e7e5de 575px,#e7e5de 580px,#e3e0d7 580px,#e3e0d7 585px,#e7e7e0 585px,#e7e7e0 590px,#e5e4dc 590px,#e5e4dc 595px,#ede8e6 595px,#ede8e6 600px,#e1ded5 600px,#e1ded5 605px,#e2dfda 605px,#e2dfda 610px,#f1ebe2 610px,#f1ebe2 615px,#dfdcda 615px,#dfdcda 620px,#e1dbcf 620px,#e1dbcf 625px,#d9d9d5 625px,#d9d9d5 630px,#dfd8d4 630px,#dfd8d4 635px,#d8d6cd 635px,#d8d6cd 640px,#ebe7e2 640px,#ebe7e2 645px,#e9e7e3 645px,#e9e7e3 650px,#dddcd3 650px,#dddcd3 655px,#dcd9d6 655px,#dcd9d6 660px,#eae4df 660px,#eae4df 665px,#e5ded2 665px,#e5ded2 670px,#e5e3e1 670px,#e5e3e1 675px,#e6e6e2 675px,#e6e6e2 680px,#e8e4df 680px,#e8e4df 685px,#ede8de 685px,#ede8de 690px,#dedad4 690px,#dedad4 695px,#e3e0dc 695px,#e3e0dc 700px,#e3dddb 700px,#e3dddb 705px,#e6e0dc 705px,#e6e0dc 710px,#e2dfd3 710px,#e2dfd3 715px,#edece7 715px,#edece7 720px,#e6e4e0 720px,#e6e4e0 725px,#e8e3d7 725px,#e8e3d7 730px) 0 10px/100% 5px no-repeat"></span><span class="blur" style="width:115px;background:linear-gradient(90deg,#d0cdc1 0px,#d0cdc1 5px,#cecac1 5px,#cecac1 10px,#dcdcd3 10px,#dcdcd3 15px,#cecbc2 15px,#cecbc2 20px,#dbd7cc 20px,#dbd7cc 25px,#cecbc7 25px,#cecbc7 30px,#ede9e4 30px,#ede9e4 35px,#d9d9ce 35px,#d9d9ce 40px,#ccccc5 40px,#ccccc5 45px,#e7e5d9 45px,#e7e5d9 50px,#d9d9d5 50px,#d9d9d5 55px,#e0dbd2 55px,#e0dbd2 60px,#ece9e2 60px,#ece9e2 65px,#dfddda 65px,#dfddda 70px,#dad9cf 70px,#dad9cf 75px,#e4e3d9 75px,#e4e3d9 80px,#cfcdc2 80px,#cfcdc2 85px,#e6dfdd 85px,#e6dfdd 90px,#c8c8be 90px,#c8c8be 95px,#d2ccc0 95px,#d2ccc0 100px,#d4cec3 100px,#d4cec3 105px,#e8e7e0 105px,#e8e7e0 110px,#d5d0cc 110px,#d5d0cc 115px) 0 0/100% 5px no-repeat,linear-gradient(90deg,#c9c8c1 0px,#c9c8c1 5px,#a59e98 5px,#a59e98 10px,#aba7a4 10px,#aba7a4 15px,#a7a4a1 15px,#a7a4a1 20px,#aea7a1 20px,#aea7a1 25px,#c1c0b9 25px,#c1c0b9 30px,#e5e2de 30px,#e5e2de 35px,#c2c2b8 35px,#c2c2b8 40px,#b3aea9 40px,#b3aea9 45px,#e3ddd3 45px,#e3ddd3 50px,#adaba6 50px,#adaba6 55px,#cfccc9 55px,#cfccc9 60px,#d5d4d2 60px,#d5d4d2 65px,#c0bdb8 65px,#c0bdb8 70px,#a5a39f 70px,#a5a39f 75px,#aeaea6 75px,#aeaea6 80px,#b8b7b1 80px,#b8b7b1 85px,#c3c2bf 85px,#c3c2bf 90px,#cbc8c3 90px,#cbc8c3 95px,#adada8 95px,#adada8 100px,#a7a29f 100px,#a7a29f 105px,#d8d5ca 105px,#d8d5ca 110px,#cccac4 110px,#cccac4 115px) 0 5px/100% 5px no-repeat,linear-gradient(90deg,#e1e0d7 0px,#e1e0d7 5px,#eae8e6 5px,#eae8e6 10px,#e6e0d8 10px,#e6e0d8 15px,#d8d7d2 15px,#d8d7d2 20px,#dcdad6 20px,#dcdad6 25px,#e3e1dc 25px,#e3e1dc 30px,#eae7db 30px,#eae7db 35px,#e1e0de 35px,#e1e0de 40px,#e5e5dc 40px,#e5e5dc 45px,#f1ece9 45px,#f1ece9 50px,#dbd8cc 50px,#dbd8cc 55px,#dcd7cf 55px,#dcd7cf 60px,#eae5da 60px,#eae5da 65px,#e2dbcf 65px,#e2dbcf 70px,#e7e5df 70px,#e7e5df 75px,#dfdfd6 75px,#dfdfd6 80px,#eae8e0 80px,#eae8e0 85px,#e6e2d7 85px,#e6e2d7 90px,#e8e7e4 90px,#e8e7e4 95px,#e1ded9 95px,#e1ded9 100px,#e3dcd2 100px,#e3dcd2 105px,#eee7dc 105px,#eee7dc 110px,#ddd7cb 110px,#ddd7cb 115px) 0 10px/100% 5px no-repeat"></span></td></tr>
<tr><td class="n"><span style="letter-spacing:0.26px">Internet</span></td><td class="s"><span class="b up">Up</span></td><td class="d"><div>2025-10-10 <span style="letter-spacing:-0.45px">23:59:13</span></div></td><td class="m"><span class="blur" style="width:170px;background:linear-gradient(90deg,#e1dbd3 0px,#e1dbd3 5px,#cecbbf 5px,#cecbbf 10px,#e1dbd5 10px,#e1dbd5 15px,#cac6bd 15px,#cac6bd 20px,#c8c7be 20px,#c8c7be 25px,#e6e0d5 25px,#e6e0d5 30px,#ede6e2 30px,#ede6e2 35px,#dedbd8 35px,#dedbd8 40px,#e2dcd3 40px,#e2dcd3 45px,#ccc8c1 45px,#ccc8c1 50px,#cfcbc7 50px,#cfcbc7 55px,#e8e2d6 55px,#e8e2d6 60px,#d6d5d0 60px,#d6d5d0 65px,#cec8c4 65px,#cec8c4 70px,#e2ded7 70px,#e2ded7 75px,#e9e4e0 75px,#e9e4e0 80px,#d9d4c9 80px,#d9d4c9 85px,#e3dfd6 85px,#e3dfd6 90px,#dddad6 90px,#dddad6 95px,#dfdfdd 95px,#dfdfdd 100px,#d2d1cc 100px,#d2d1cc 105px,#e7e3dc 105px,#e7e3dc 110px,#d2ccc8 110px,#d2ccc8 115px,#ece6e3 115px,#ece6e3 120px,#ebe6dd 120px,#ebe6dd 125px,#dbd7d0 125px,#dbd7d0 130px,#dfd9cf 130px,#dfd9cf 135px,#d0c9c0 135px,#d0c9c0 140px,#dddddb 140px,#dddddb 145px,#d3cdc4 145px,#d3cdc4 150px,#dbd9ce 150px,#dbd9ce 155px,#e9e9e2 155px,#e9e9e2 160px,#e6e4e2 160px,#e6e4e2 165px,#d9d7d2 165px,#d9d7d2 170px) 0 0/100% 5px no-repeat,linear-gradient(90deg,#c3c3bb 0px,#c3c3bb 5px,#ada99d 5px,#ada99d 10px,#b1ada3 10px,#b1ada3 15px,#a59f95 15px,#a59f95 20px,#b9b8ac 20px,#b9b8ac 25px,#ccc6bd 25px,#ccc6bd 30px,#e3dfd8 30px,#e3dfd8 35px,#afa8a6 35px,#afa8a6 40px,#c5c0bc 40px,#c5c0bc 45px,#aaaaa6 45px,#aaaaa6 50px,#b3b1a5 50px,#b3b1a5 55px,#b1b1a6 55px,#b1b1a6 60px,#b7b1aa 60px,#b7b1aa 65px,#cccac4 65px,#cccac4 70px,#b8b1ac 70px,#b8b1ac 75px,#e5ded6 75px,#e5ded6 80px,#a8a49d 80px,#a8a49d 85px,#bcb7af 85px,#bcb7af 90px,#c0bcb9 90px,#c0bcb9 95px,#b2aba1 95px,#b2aba1 100px,#bab8b1 100px,#bab8b1 105px,#a2a09a 105px,#a2a09a 110px,#c7c0b4 110px,#c7c0b4 115px,#ebe5e2 115px,#ebe5e2 120px,#b5afa8 120px,#b5afa8 125px,#d1cbc1 125px,#d1cbc1 130px,#b1b0aa 130px,#b1b0aa 135px,#babab8 135px,#babab8 140px,#c4c0b9 140px,#c4c0b9 145px,#c9c4be 145px,#c9c4be 150px,#aeada3 150px,#aeada3 155px,#ddd7d4 155px,#ddd7d4 160px,#b3b1a5 160px,#b3b1a5 165px,#aaa9a1 165px,#aaa9a1 170px) 0 5px/100% 5px no-repeat,linear-gradient(90deg,#e7e2da 0px,#e7e2da 5px,#e9e2db 5px,#e9e2db 10px,#e3e1dd 10px,#e3e1dd 15px,#ede7db 15px,#ede7db 20px,#e1dfda 20px,#e1dfda 25px,#e1e0d8 25px,#e1e0d8 30px,#e5e5da 30px,#e5e5da 35px,#e3ddd5 35px,#e3ddd5 40px,#e0dcd0 40px,#e0dcd0 45px,#dcdad5 45px,#dcdad5 50px,#deddd7 50px,#deddd7 55px,#ddd7d1 55px,#ddd7d1 60px,#e0dacf 60px,#e0dacf 65px,#dfded3 65px,#dfded3 70px,#eae6db 70px,#eae6db 75px,#eae7e1 75px,#eae7e1 80px,#ded9cd 80px,#ded9cd 85px,#e9e8e1 85px,#e9e8e1 90px,#d7d6d3 90px,#d7d6d3 95px,#e3e0de 95px,#e3e0de 100px,#e6e4db 100px,#e6e4db 105px,#deded5 105px,#deded5 110px,#e8e8e6 110px,#e8e8e6 115px,#f3ece9 115px,#f3ece9 120px,#e8e5df 120px,#e8e5df 125px,#e5e0d6 125px,#e5e0d6 130px,#ebe8e3 130px,#ebe8e3 135px,#eae7e1 135px,#eae7e1 140px,#e8e8e3 140px,#e8e8e3 145px,#dbdbd1 145px,#dbdbd1 150px,#e4ded7 150px,#e4ded7 155px,#e9e5e2 155px,#e9e5e2 160px,#e9e8e0 160px,#e9e8e0 165px,#e8e2dd 165px,#e8e2dd 170px) 0 10px/100% 5px no-repeat"></span></td></tr>
<tr><td class="n"><span style="letter-spacing:-0.12px">OMR Cloud (ICMP)</span></td><td class="s"><span class="b up">Up</span></td><td class="d"><div>2025-10-10 <span style="letter-spacing:-0.45px">23:58:02</span></div></td><td class="m"></td></tr>
<tr><td class="n"><span style="letter-spacing:-0.11px">Google (ICMP)</span></td><td class="s"><span class="b up">Up</span></td><td class="d"><div>2025-10-10 <span style="letter-spacing:-0.45px">23:55:29</span></div></td><td class="m"></td></tr>
<tr><td class="n"><span style="letter-spacing:0.26px">Internet</span></td><td class="s"><span class="b down">Down</span></td><td class="d"><div>2025-10-10 <span style="letter-spacing:-0.45px">23:54:13</span></div></td><td class="m"><span class="blur" style="width:110px;background:linear-gradient(90deg,#e2ddd1 0px,#e2ddd1 5px,#d7d6ca 5px,#d7d6ca 10px,#e6e4dc 10px,#e6e4dc 15px,#eae3de 15px,#eae3de 20px,#dedbd8 20px,#dedbd8 25px,#e1dfd9 25px,#e1dfd9 30px,#d3d2c8 30px,#d3d2c8 35px,#cec7c2 35px,#cec7c2 40px,#e9e5e0 40px,#e9e5e0 45px,#d8d8cd 45px,#d8d8cd 50px,#c8c7c0 50px,#c8c7c0 55px,#d9d3d1 55px,#d9d3d1 60px,#dbd6ca 60px,#dbd6ca 65px,#d5d0c9 65px,#d5d0c9 70px,#dad9d7 70px,#dad9d7 75px,#d6d1c9 75px,#d6d1c9 80px,#cec7c4 80px,#cec7c4 85px,#e8e7e3 85px,#e8e7e3 90px,#e4ddd4 90px,#e4ddd4 95px,#d0cbc4 95px,#d0cbc4 100px,#ebe9e6 100px,#ebe9e6 105px,#dcd6d1 105px,#dcd6d1 110px) 0 0/100% 5px no-repeat,linear-gradient(90deg,#b8b4a8 0px,#b8b4a8 5px,#a29f99 5px,#a29f99 10px,#c5bfb7 10px,#c5bfb7 15px,#aea8a4 15px,#aea8a4 20px,#a6a6a3 20px,#a6a6a3 25px,#b1aba9 25px,#b1aba9 30px,#9f9e95 30px,#9f9e95 35px,#a3a095 35px,#a3a095 40px,#e6e5de 40px,#e6e5de 45px,#bab3aa 45px,#bab3aa 50px,#c9c6c4 50px,#c9c6c4 55px,#b0ada6 55px,#b0ada6 60px,#b7b6b3 60px,#b7b6b3 65px,#c5c3be 65px,#c5c3be 70px,#c1baaf 70px,#c1baaf 75px,#cac3c0 75px,#cac3c0 80px,#c2c2b9 80px,#c2c2b9 85px,#dfd9cd 85px,#dfd9cd 90px,#ccc9bd 90px,#ccc9bd 95px,#c3bcb1 95px,#c3bcb1 100px,#d9d8cf 100px,#d9d8cf 105px,#cac4c1 105px,#cac4c1 110px) 0 5px/100% 5px no-repeat,linear-gradient(90deg,#e0dddb 0px,#e0dddb 5px,#e5e2d6 5px,#e5e2d6 10px,#dad7d4 10px,#dad7d4 15px,#dcdcda 15px,#dcdcda 20px,#e4e4dc 20px,#e4e4dc 25px,#e0ddd1 25px,#e0ddd1 30px,#ddd7d1 30px,#ddd7d1 35px,#d9d7ce 35px,#d9d7ce 40px,#ebe4e1 40px,#ebe4e1 45px,#dbd9d5 45px,#dbd9d5 50px,#e8e6db 50px,#e8e6db 55px,#ebe6e3 55px,#ebe6e3 60px,#ece6e4 60px,#ece6e4 65px,#d8d8ce 65px,#d8d8ce 70px,#d9d8d6 70px,#d9d8d6 75px,#ebe7de 75px,#ebe7de 80px,#e2e2d8 80px,#e2e2d8 85px,#e7e7e3 85px,#e7e7e3 90px,#ede6e1 90px,#ede6e1 95px,#dcd9cd 95px,#dcd9cd 100px,#ebeadf 100px,#ebeadf 105px,#ddd8cc 105px,#ddd8cc 110px) 0 10px/100% 5px no-repeat"></span></td></tr>
<tr><td class="n"><span style="letter-spacing:-0.11px">Google (ICMP)</span></td><td class="s"><span class="b down">Down</span></td><td class="d"><div>2025-10-10 <span style="letter-spacing:-0.45px">23:53:29</span></div></td><td class="m"><span class="blur" style="width:730px;background:linear-gradient(90deg,#d9d3ca 0px,#d9d3ca 5px,#e3e0dd 5px,#e3e0dd 10px,#c7c7c5 10px,#c7c7c5 15px,#eeece4 15px,#eeece4 20px,#cbc9be 20px,#cbc9be 25px,#dfd8d2 25px,#dfd8d2 30px,#e8e4de 30px,#e8e4de 35px,#dcdcd5 35px,#dcdcd5 40px,#dfdeda 40px,#dfdeda 45px,#e4e2d6 45px,#e4e2d6 50px,#e9e4de 50px,#e9e4de 55px,#d5d5cd 55px,#d5d5cd 60px,#ccc7c2 60px,#ccc7c2 65px,#e1dcda 65px,#e1dcda 70px,#eae5e2 70px,#eae5e2 75px,#d1d0ce 75px,#d1d0ce 80px,#e0dace 80px,#e0dace 85px,#e0dbd8 85px,#e0dbd8 90px,#ebeae1 90px,#ebeae1 95px,#d3d0c6 95px,#d3d0c6 100px,#ccc9c1 100px,#ccc9c1 105px,#cecbc6 105px,#cecbc6 110px,#d8d8d2 110px,#d8d8d2 115px,#e2e1dd 115px,#e2e1dd 120px,#e4e2dc 120px,#e4e2dc 125px,#e2dfd8 125px,#e2dfd8 130px,#d6d6d3 130px,#d6d6d3 135px,#e9e5da 135px,#e9e5da 140px,#d0cfc4 140px,#d0cfc4 145px,#d0cac4 145px,#d0cac4 150px,#cbcac7 150px,#cbcac7 155px,#c7c6bf 155px,#c7c6bf 160px,#cccac0 160px,#cccac0 165px,#d4cdc1 165px,#d4cdc1 170px,#eae6dd 170px,#eae6dd 175px,#d2d1cb 175px,#d2d1cb 180px,#ece6de 180px,#ece6de 185px,#d8d1ce 185px,#d8d1ce 190px,#e8e3dc 190px,#e8e3dc 195px,#e5e5dd 195px,#e5e5dd 200px,#d5d4cf 200px,#d5d4cf 205px,#e1dcd6 205px,#e1dcd6 210px,#ebebe6 210px,#ebebe6 215px,#cbcac6 215px,#cbcac6 220px,#ddd9d5 220px,#ddd9d5 225px,#cac8bf 225px,#cac8bf 230px,#ccccc4 230px,#ccccc4 235px,#e7e6db 235px,#e7e6db 240px,#d4d4d1 240px,#d4d4d1 245px,#d8d8d2 245px,#d8d8d2 250px,#d3cec7 250px,#d3cec7 255px,#d3d1ca 255px,#d3d1ca 260px,#ebe6df 260px,#ebe6df 265px,#d1d0cb 265px,#d1d0cb 270px,#d4d0c8 270px,#d4d0c8 275px,#cac7bb 275px,#cac7bb 280px,#d5d2ca 280px,#d5d2ca 285px,#eae7db 285px,#eae7db 290px,#e8e4e2 290px,#e8e4e2 295px,#cac9bd 295px,#cac9bd 300px,#e3ded9 300px,#e3ded9 305px,#d8d8cf 305px,#d8d8cf 310px,#f0e9e6 310px,#f0e9e6 315px,#d4cdc3 315px,#d4cdc3 320px,#e6e5dd 320px,#e6e5dd 325px,#d4cdc4 325px,#d4cdc4 330px,#d4d1c9 330px,#d4d1c9 335px,#e2e2df 335px,#e2e2df 340px,#d3d2cc 340px,#d3d2cc 345px,#e4ddd4 345px,#e4ddd4 350px,#dad5cb 350px,#dad5cb 355px,#e3e2d8 355px,#e3e2d8 360px,#dbd4cf 360px,#dbd4cf 365px,#dfdedc 365px,#dfdedc 370px,#e1e1dc 370px,#e1e1dc 375px,#d5d0cb 375px,#d5d0cb 380px,#e4e3da 380px,#e4e3da 385px,#ddd6cd 385px,#ddd6cd 390px,#cfcec5 390px,#cfcec5 395px,#dbdad5 395px,#dbdad5 400px,#ebe6e3 400px,#ebe6e3 405px,#d4cdc4 405px,#d4cdc4 410px,#d8d6cc 410px,#d8d6cc 415px,#c6c6ba 415px,#c6c6ba 420px,#e4e4da 420px,#e4e4da 425px,#dbd4c8 425px,#dbd4c8 430px,#edebdf 430px,#edebdf 435px,#dfddd5 435px,#dfddd5 440px,#dadad3 440px,#dadad3 445px,#d4d1cf 445px,#d4d1cf 450px,#e4e3da 450px,#e4e3da 455px,#d3d3cd 455px,#d3d3cd 460px,#e4e2dd 460px,#e4e2dd 465px,#ebe6db 465px,#ebe6db 470px,#d3d2ca 470px,#d3d2ca 475px,#c9c7c5 475px,#c9c7c5 480px,#e4ddd8 480px,#e4ddd8 485px,#d1cac3 485px,#d1cac3 490px,#ede6da 490px,#ede6da 495px,#d6d3ce 495px,#d6d3ce 500px,#ece9e3 500px,#ece9e3 505px,#e7e3de 505px,#e7e3de 510px,#dadad2 510px,#dadad2 515px,#d6d1c9 515px,#d6d1c9 520px,#ccc7c3 520px,#ccc7c3 525px,#e5e5e1 525px,#e5e5e1 530px,#ddd6cd 530px,#ddd6cd 535px,#e0ded8 535px,#e0ded8 540px,#d6d5cf 540px,#d6d5cf 545px,#e2e0dc 545px,#e2e0dc 550px,#d3cecc 550px,#d3cecc 555px,#d3d0c8 555px,#d3d0c8 560px,#d1d0c5 560px,#d1d0c5 565px,#e8e2dc 565px,#e8e2dc 570px,#eeebe7 570px,#eeebe7 575px,#ddd7d4 575px,#ddd7d4 580px,#cfc9c6 580px,#cfc9c6 585px,#cbc7c4 585px,#cbc7c4 590px,#e8e6e2 590px,#e8e6e2 595px,#e1e0d6 595px,#e1e0d6 600px,#e2ded2 600px,#e2ded2 605px,#edece3 605px,#edece3 610px,#dcd5c9 610px,#dcd5c9 615px,#e0ddd5 615px,#e0ddd5 620px,#e7e3d8 620px,#e7e3d8 625px,#e0ded8 625px,#e0ded8 630px,#dbd5ce 630px,#dbd5ce 635px,#eeeade 635px,#eeeade 640px,#cacabf 640px,#cacabf 645px,#e7e4d8 645px,#e7e4d8 650px,#e7e7de 650px,#e7e7de 655px,#e9e4d8 655px,#e9e4d8 660px,#d8d1ca 660px,#d8d1ca 665px,#ebe5e2 665px,#ebe5e2 670px,#d9d3cb 670px,#d9d3cb 675px,#d1cec7 675px,#d1cec7 680px,#e3ddd1 680px,#e3ddd1 685px,#eae5e1 685px,#eae5e1 690px,#d7d4ce 690px,#d7d4ce 695px,#cdcdc3 695px,#cdcdc3 700px,#d4cec3 700px,#d4cec3 705px,#e9e8df 705px,#e9e8df 710px,#e8e3d8 710px,#e8e3d8 715px,#e1dcd4 715px,#e1dcd4 720px,#dcdad1 720px,#dcdad1 725px,#c9c7bf 725px,#c9c7bf 730px) 0 0/100% 5px no-repeat,linear-gradient(90deg,#b6b5a9 0px,#b6b5a9 5px,#b3b0a4 5px,#b3b0a4 10px,#b0ada6 10px,#b0ada6 15px,#e1ddd9 15px,#e1ddd9 20px,#a9a296 20px,#a9a296 25px,#c3c3be 25px,#c3c3be 30px,#dad4ca 30px,#dad4ca 35px,#afafac 35px,#afafac 40px,#a09e9b 40px,#a09e9b 45px,#cdcac8 45px,#cdcac8 50px,#aca9a5 50px,#aca9a5 55px,#b1aeac 55px,#b1aeac 60px,#a09f9c 60px,#a09f9c 65px,#a6a39f 65px,#a6a39f 70px,#e8e3e0 70px,#e8e3e0 75px,#c4bfb8 75px,#c4bfb8 80px,#b6b0a7 80px,#b6b0a7 85px,#b3aeac 85px,#b3aeac 90px,#dad6d2 90px,#dad6d2 95px,#afaeab 95px,#afaeab 100px,#c5c5bf 100px,#c5c5bf 105px,#aba69f 105px,#aba69f 110px,#c5beba 110px,#c5beba 115px,#aaaaa6 115px,#aaaaa6 120px,#d0cac2 120px,#d0cac2 125px,#b0b0ab 125px,#b0b0ab 130px,#b2b1a8 130px,#b2b1a8 135px,#d8d7cc 135px,#d8d7cc 140px,#aaa79e 140px,#aaa79e 145px,#bebbb0 145px,#bebbb0 150px,#aaa398 150px,#aaa398 155px,#bbb9b7 155px,#bbb9b7 160px,#adaaa7 160px,#adaaa7 165px,#cdc6c1 165px,#cdc6c1 170px,#b4aea4 170px,#b4aea4 175px,#c5c0be 175px,#c5c0be 180px,#d7d4d2 180px,#d7d4d2 185px,#b0aca7 185px,#b0aca7 190px,#cdc6bb 190px,#cdc6bb 195px,#dcdad5 195px,#dcdad5 200px,#b5b1ad 200px,#b5b1ad 205px,#a8a8a3 205px,#a8a8a3 210px,#e7e2d6 210px,#e7e2d6 215px,#cecac2 215px,#cecac2 220px,#b6b2b0 220px,#b6b2b0 225px,#c9c4c1 225px,#c9c4c1 230px,#b0b0a9 230px,#b0b0a9 235px,#e7e4e0 235px,#e7e4e0 240px,#aca9a0 240px,#aca9a0 245px,#a29f98 245px,#a29f98 250px,#aaa599 250px,#aaa599 255px,#d2cbc1 255px,#d2cbc1 260px,#deddda 260px,#deddda 265px,#c9c8bd 265px,#c9c8bd 270px,#bcb6ad 270px,#bcb6ad 275px,#a6a296 275px,#a6a296 280px,#c1beb5 280px,#c1beb5 285px,#e5ded6 285px,#e5ded6 290px,#d0cbc1 290px,#d0cbc1 295px,#bfbaaf 295px,#bfbaaf 300px,#a2a198 300px,#a2a198 305px,#a7a39f 305px,#a7a39f 310px,#d7d5d2 310px,#d7d5d2 315px,#bbbbb5 315px,#bbbbb5 320px,#c9c8bc 320px,#c9c8bc 325px,#b9b3a9 325px,#b9b3a9 330px,#a5a39b 330px,#a5a39b 335px,#cbcac8 335px,#cbcac8 340px,#a4a094 340px,#a4a094 345px,#a7a6a3 345px,#a7a6a3 350px,#b4b2a8 350px,#b4b2a8 355px,#e3e1dc 355px,#e3e1dc 360px,#afa9a1 360px,#afa9a1 365px,#d0cbc4 365px,#d0cbc4 370px,#a8a59c 370px,#a8a59c 375px,#c2c1be 375px,#c2c1be 380px,#e2dcd3 380px,#e2dcd3 385px,#aeaca1 385px,#aeaca1 390px,#b7b0a8 390px,#b7b0a8 395px,#cecbc7 395px,#cecbc7 400px,#e1dad7 400px,#e1dad7 405px,#c3beb9 405px,#c3beb9 410px,#a39f95 410px,#a39f95 415px,#bebcb1 415px,#bebcb1 420px,#b7b2ae 420px,#b7b2ae 425px,#d1ccc0 425px,#d1ccc0 430px,#e0dad8 430px,#e0dad8 435px,#a19e93 435px,#a19e93 440px,#b4b4ae 440px,#b4b4ae 445px,#c4c4c2 445px,#c4c4c2 450px,#b5b2ab 450px,#b5b2ab 455px,#b4afa9 455px,#b4afa9 460px,#bab5ad 460px,#bab5ad 465px,#e4e0dd 465px,#e4e0dd 470px,#acaca0 470px,#acaca0 475px,#bbb8ac 475px,#bbb8ac 480px,#a3a19d 480px,#a3a19d 485px,#b5b1a7 485px,#b5b1a7 490px,#ccc7bf 490px,#ccc7bf 495px,#bdb9b5 495px,#bdb9b5 500px,#e0dbcf 500px,#e0dbcf 505px,#a6a19d 505px,#a6a19d 510px,#b4b2a6 510px,#b4b2a6 515px,#c0c0b6 515px,#c0c0b6 520px,#c0bbb2 520px,#c0bbb2 525px,#e5e2db 525px,#e5e2db 530px,#b8b5b2 530px,#b8b5b2 535px,#a5a49d 535px,#a5a49d 540px,#9f9f9a 540px,#9f9f9a 545px,#b6b5aa 545px,#b6b5aa 550px,#a9a2a0 550px,#a9a2a0 555px,#b1aa9e 555px,#b1aa9e 560px,#bbb7ae 560px,#bbb7ae 565px,#bab6aa 565px,#bab6aa 570px,#ede6df 570px,#ede6df 575px,#b8b4ad 575px,#b8b4ad 580px,#c3c2b7 580px,#c3c2b7 585px,#c4c3ba 585px,#c4c3ba 590px,#e8e2e0 590px,#e8e2e0 595px,#cbc8c3 595px,#cbc8c3 600px,#b0aba1 600px,#b0aba1 605px,#e0dfd3 605px,#e0dfd3 610px,#c2c2b9 610px,#c2c2b9 615px,#c9c3c1 615px,#c9c3c1 620px,#ded8d5 620px,#ded8d5 625px,#ada99f 625px,#ada99f 630px,#b5b4af 630px,#b5b4af 635px,#d8d5ce 635px,#d8d5ce 640px,#bbb9b1 640px,#bbb9b1 645px,#c7c6be 645px,#c7c6be 650px,#dfdad4 650px,#dfdad4 655px,#b5b3aa 655px,#b5b3aa 660px,#c0c0b4 660px,#c0c0b4 665px,#ded8ce 665px,#ded8ce 670px,#aaa8a6 670px,#aaa8a6 675px,#c8c7bc 675px,#c8c7bc 680px,#b5b5b3 680px,#b5b5b3 685px,#ababa1 685px,#ababa1 690px,#cecbc1 690px,#cecbc1 695px,#bdbbb1 695px,#bdbbb1 700px,#adaba7 700px,#adaba7 705px,#e2e2da 705px,#e2e2da 710px,#aaa69b 710px,#aaa69b 715px,#b2afa7 715px,#b2afa7 720px,#b2aba9 720px,#b2aba9 725px,#a3a39c 725px,#a3a39c 730px) 0 5px/100% 5px no-repeat,linear-gradient(90deg,#dedbd1 0px,#dedbd1 5px,#e1ded4 5px,#e1ded4 10px,#dedbd0 10px,#dedbd0 15px,#e9e6db 15px,#e9e6db 20px,#e0d9ce 20px,#e0d9ce 25px,#e0dcd4 25px,#e0dcd4 30px,#ecece3 30px,#ecece3 35px,#ddd6d3 35px,#ddd6d3 40px,#ded8d4 40px,#ded8d4 45px,#e7e0dc 45px,#e7e0dc 50px,#e1dcd4 50px,#e1dcd4 55px,#e0ddd8 55px,#e0ddd8 60px,#e1dbd4 60px,#e1dbd4 65px,#e7e3dd 65px,#e7e3dd 70px,#e9e6dd 70px,#e9e6dd 75px,#dad8d3 75px,#dad8d3 80px,#ede8e5 80px,#ede8e5 85px,#eae6e2 85px,#eae6e2 90px,#f1eae1 90px,#f1eae1 95px,#efe8df 95px,#efe8df 100px,#e5ded4 100px,#e5ded4 105px,#e3dcd1 105px,#e3dcd1 110px,#e8e6dc 110px,#e8e6dc 115px,#dedbd8 115px,#dedbd8 120px,#e7e1de 120px,#e7e1de 125px,#e3e2db 125px,#e3e2db 130px,#e8e3dc 130px,#e8e3dc 135px,#eceae1 135px,#eceae1 140px,#e8e8e6 140px,#e8e8e6 145px,#eae5db 145px,#eae5db 150px,#e8e2d7 150px,#e8e2d7 155px,#e1dfd5 155px,#e1dfd5 160px,#d8d6ca 160px,#d8d6ca 165px,#e7e1da 165px,#e7e1da 170px,#ebe8e1 170px,#ebe8e1 175px,#e1dbcf 175px,#e1dbcf 180px,#eae6e3 180px,#eae6e3 185px,#dadacf 185px,#dadacf 190px,#e7e0d7 190px,#e7e0d7 195px,#efebe4 195px,#efebe4 200px,#e6e6df 200px,#e6e6df 205px,#ece7db 205px,#ece7db 210px,#ecebe4 210px,#ecebe4 215px,#e4ded3 215px,#e4ded3 220px,#ece8e6 220px,#ece8e6 225px,#e7e1de 225px,#e7e1de 230px,#e1e1db 230px,#e1e1db 235px,#ede9e0 235px,#ede9e0 240px,#e1dbd9 240px,#e1dbd9 245px,#dbd8d3 245px,#dbd8d3 250px,#d9d7d3 250px,#d9d7d3 255px,#e2dfda 255px,#e2dfda 260px,#eae4de 260px,#eae4de 265px,#dad9d5 265px,#dad9d5 270px,#e8e7e3 270px,#e8e7e3 275px,#e6e3e1 275px,#e6e3e1 280px,#ebe5dd 280px,#ebe5dd 285px,#e7e5da 285px,#e7e5da 290px,#dedad8 290px,#dedad8 295px,#d8d8d4 295px,#d8d8d4 300px,#d9d9d7 300px,#d9d9d7 305px,#e2e0dd 305px,#e2e0dd 310px,#edebe8 310px,#edebe8 315px,#dedbd0 315px,#dedbd0 320px,#e4e1da 320px,#e4e1da 325px,#dfd9d2 325px,#dfd9d2 330px,#e8e2dc 330px,#e8e2dc 335px,#e7e4db 335px,#e7e4db 340px,#d8d6d2 340px,#d8d6d2 345px,#dddbd4 345px,#dddbd4 350px,#ded7cd 350px,#ded7cd 355px,#ebe4da 355px,#ebe4da 360px,#e8e8df 360px,#e8e8df 365px,#e4e4d9 365px,#e4e4d9 370px,#e6e0d6 370px,#e6e0d6 375px,#dadad0 375px,#dadad0 380px,#eeece3 380px,#eeece3 385px,#e1dbd7 385px,#e1dbd7 390px,#d6d6cf 390px,#d6d6cf 395px,#e6e3d8 395px,#e6e3d8 400px,#f0eae3 400px,#f0eae3 405px,#e7e5de 405px,#e7e5de 410px,#e5e2dc 410px,#e5e2dc 415px,#dcdcd1 415px,#dcdcd1 420px,#e5e0d4 420px,#e5e0d4 425px,#ebe7dc 425px,#ebe7dc 430px,#ebe9de 430px,#ebe9de 435px,#eee7e1 435px,#eee7e1 440px,#dfd8d6 440px,#dfd8d6 445px,#e0dad7 445px,#e0dad7 450px,#eee8e2 450px,#eee8e2 455px,#eee8e6 455px,#eee8e6 460px,#dad8d5 460px,#dad8d5 465px,#eeeae7 465px,#eeeae7 470px,#eae3dd 470px,#eae3dd 475px,#dfd8cc 475px,#dfd8cc 480px,#e2e1df 480px,#e2e1df 485px,#e9e5e0 485px,#e9e5e0 490px,#dcd8d2 490px,#dcd8d2 495px,#e4e1d7 495px,#e4e1d7 500px,#f2ece1 500px,#f2ece1 505px,#e5ded2 505px,#e5ded2 510px,#e6e0d4 510px,#e6e0d4 515px,#e6e5e3 515px,#e6e5e3 520px,#dedad8 520px,#dedad8 525px,#eeece5 525px,#eeece5 530px,#e5e2dc 530px,#e5e2dc 535px,#e6e6dd 535px,#e6e6dd 540px,#e5e5e2 540px,#e5e5e2 545px,#d8d8d3 545px,#d8d8d3 550px,#ebe4e1 550px,#ebe4e1 555px,#e4dfd4 555px,#e4dfd4 560px,#dddbcf 560px,#dddbcf 565px,#dbd9cf 565px,#dbd9cf 570px,#ede8e4 570px,#ede8e4 575px,#dedbd2 575px,#dedbd2 580px,#e1ddd7 580px,#e1ddd7 585px,#dad7d3 585px,#dad7d3 590px,#e9e8dc 590px,#e9e8dc 595px,#e9e2dd 595px,#e9e2dd 600px,#dfd9d0 600px,#dfd9d0 605px,#e9e9e1 605px,#e9e9e1 610px,#e4ddd4 610px,#e4ddd4 615px,#e9e6e0 615px,#e9e6e0 620px,#e7e6dc 620px,#e7e6dc 625px,#e6e0dc 625px,#e6e0dc 630px,#e1dad1 630px,#e1dad1 635px,#efebe0 635px,#efebe0 640px,#e2e1d7 640px,#e2e1d7 645px,#eae5e1 645px,#eae5e1 650px,#eae9e2 650px,#eae9e2 655px,#e3e2de 655px,#e3e2de 660px,#e9e5de 660px,#e9e5de 665px,#eceae3 665px,#eceae3 670px,#dbd6d1 670px,#dbd6d1 675px,#e5e4de 675px,#e5e4de 680px,#e9e4d9 680px,#e9e4d9 685px,#e8e1d5 685px,#e8e1d5 690px,#dedcd5 690px,#dedcd5 695px,#dfdcd6 695px,#dfdcd6 700px,#e2dfd4 700px,#e2dfd4 705px,#ebe5e3 705px,#ebe5e3 710px,#dddcd7 710px,#dddcd7 715px,#e7e6e1 715px,#e7e6e1 720px,#ddd9d6 720px,#ddd9d6 725px,#dcdcd6 725px,#dcdcd6 730px) 0 10px/100% 5px no-repeat"></span><span class="blur" style="width:115px;background:linear-gradient(90deg,#ccc6bf 0px,#ccc6bf 5px,#d1d1c6 5px,#d1d1c6 10px,#d4d2cd 10px,#d4d2cd 15px,#e6e3e0 15px,#e6e3e0 20px,#dcd7cb 20px,#dcd7cb 25px,#e4dedc 25px,#e4dedc 30px,#d0cac7 30px,#d0cac7 35px,#d9d7cf 35px,#d9d7cf 40px,#dddddb 40px,#dddddb 45px,#e8e2d7 45px,#e8e2d7 50px,#e0ded7 50px,#e0ded7 55px,#dfddd6 55px,#dfddd6 60px,#ebe7dd 60px,#ebe7dd 65px,#d1cfcb 65px,#d1cfcb 70px,#d1cfcc 70px,#d1cfcc 75px,#cfcdc7 75px,#cfcdc7 80px,#e7e6dc 80px,#e7e6dc 85px,#efe9e0 85px,#efe9e0 90px,#c6c6c1 90px,#c6c6c1 95px,#e3e1dc 95px,#e3e1dc 100px,#c9c6bf 100px,#c9c6bf 105px,#d6d5cc 105px,#d6d5cc 110px,#e4ded7 110px,#e4ded7 115px) 0 0/100% 5px no-repeat,linear-gradient(90deg,#bcbcb7 0px,#bcbcb7 5px,#c8c8bf 5px,#c8c8bf 10px,#c1bebc 10px,#c1bebc 15px,#dcd9d6 15px,#dcd9d6 20px,#afaea7 20px,#afaea7 25px,#a8a397 25px,#a8a397 30px,#a9a39d 30px,#a9a39d 35px,#a9a29d 35px,#a9a29d 40px,#cbc9c5 40px,#cbc9c5 45px,#e3ddd6 45px,#e3ddd6 50px,#aaa4a0 50px,#aaa4a0 55px,#c3c3ba 55px,#c3c3ba 60px,#d9d7cb 60px,#d9d7cb 65px,#a5a197 65px,#a5a197 70px,#a5a09e 70px,#a5a09e 75px,#a7a49a 75px,#a7a49a 80px,#b9b7b2 80px,#b9b7b2 85px,#e0dad4 85px,#e0dad4 90px,#cfc8c5 90px,#cfc8c5 95px,#b4adab 95px,#b4adab 100px,#cdcabe 100px,#cdcabe 105px,#b8b7b2 105px,#b8b7b2 110px,#b9b8ae 110px,#b9b8ae 115px) 0 5px/100% 5px no-repeat,linear-gradient(90deg,#e4dfd8 0px,#e4dfd8 5px,#e1ddd1 5px,#e1ddd1 10px,#e3e0de 10px,#e3e0de 15px,#f0eae2 15px,#f0eae2 20px,#dad8d5 20px,#dad8d5 25px,#d8d8ce 25px,#d8d8ce 30px,#e0dcd0 30px,#e0dcd0 35px,#dfd9cf 35px,#dfd9cf 40px,#e9e5e0 40px,#e9e5e0 45px,#ece5da 45px,#ece5da 50px,#e8e4e1 50px,#e8e4e1 55px,#efe8e4 55px,#efe8e4 60px,#e7e6dd 60px,#e7e6dd 65px,#e5e3d7 65px,#e5e3d7 70px,#d8d6cb 70px,#d8d6cb 75px,#d8d7d4 75px,#d8d7d4 80px,#e3e0de 80px,#e3e0de 85px,#ebe7e0 85px,#ebe7e0 90px,#e0dbd3 90px,#e0dbd3 95px,#e0ded5 95px,#e0ded5 100px,#e6e4e2 100px,#e6e4e2 105px,#dbdad0 105px,#dbdad0 110px,#e6e3d7 110px,#e6e3d7 115px) 0 10px/100% 5px no-repeat"></span></td></tr>
<tr><td class="n"><span style="letter-spacing:-0.12px">OMR Cloud (ICMP)</span></td><td class="s"><span class="b down">Down</span></td><td class="d"><div>2025-10-10 <span style="letter-spacing:-0.45px">23:52:52</span></div></td><td class="m"><span class="blur" style="width:725px;background:linear-gradient(90deg,#e5e2dc 0px,#e5e2dc 5px,#dad3cc 5px,#dad3cc 10px,#d3cec7 10px,#d3cec7 15px,#e9e6db 15px,#e9e6db 20px,#e8e6dc 20px,#e8e6dc 25px,#cdc7bf 25px,#cdc7bf 30px,#d1d1c7 30px,#d1d1c7 35px,#dcd8d5 35px,#dcd8d5 40px,#e7e2d8 40px,#e7e2d8 45px,#e7e4da 45px,#e7e4da 50px,#e2ded8 50px,#e2ded8 55px,#dfdfd9 55px,#dfdfd9 60px,#eee9dd 60px,#eee9dd 65px,#dad3cc 65px,#dad3cc 70px,#e0d9d2 70px,#e0d9d2 75px,#d0cbbf 75px,#d0cbbf 80px,#d6d3cb 80px,#d6d3cb 85px,#dbd6d4 85px,#dbd6d4 90px,#d7d7d0 90px,#d7d7d0 95px,#e3dddb 95px,#e3dddb 100px,#e5e1dc 100px,#e5e1dc 105px,#ece7de 105px,#ece7de 110px,#ceccc3 110px,#ceccc3 115px,#d1ccc7 115px,#d1ccc7 120px,#ded7d5 120px,#ded7d5 125px,#d3cec6 125px,#d3cec6 130px,#ede9e1 130px,#ede9e1 135px,#d4cfcb 135px,#d4cfcb 140px,#d3d1ca 140px,#d3d1ca 145px,#d7d7cb 145px,#d7d7cb 150px,#dad5d3 150px,#dad5d3 155px,#d1d1c9 155px,#d1d1c9 160px,#e4e1dd 160px,#e4e1dd 165px,#deddda 165px,#deddda 170px,#ede6dc 170px,#ede6dc 175px,#e3dfdd 175px,#e3dfdd 180px,#e5dfdb 180px,#e5dfdb 185px,#e8e8e1 185px,#e8e8e1 190px,#d2cdc6 190px,#d2cdc6 195px,#cecec3 195px,#cecec3 200px,#e8e5e3 200px,#e8e5e3 205px,#d8d4d1 205px,#d8d4d1 210px,#d5d2cd 210px,#d5d2cd 215px,#e9e4e1 215px,#e9e4e1 220px,#cdc8be 220px,#cdc8be 225px,#d2cbc8 225px,#d2cbc8 230px,#d8d5cc 230px,#d8d5cc 235px,#dfd9d2 235px,#dfd9d2 240px,#c9c6c3 240px,#c9c6c3 245px,#ede7e2 245px,#ede7e2 250px,#e4e1da 250px,#e4e1da 255px,#dbd5c9 255px,#dbd5c9 260px,#ccc8c2 260px,#ccc8c2 265px,#ebe4db 265px,#ebe4db 270px,#c6c6ba 270px,#c6c6ba 275px,#efe8e3 275px,#efe8e3 280px,#d8d1c7 280px,#d8d1c7 285px,#e0dedb 285px,#e0dedb 290px,#ede6e3 290px,#ede6e3 295px,#e0d9d4 295px,#e0d9d4 300px,#c7c6c3 300px,#c7c6c3 305px,#cdcbc4 305px,#cdcbc4 310px,#ccc6be 310px,#ccc6be 315px,#ede6e0 315px,#ede6e0 320px,#e1dcd8 320px,#e1dcd8 325px,#d3ccc9 325px,#d3ccc9 330px,#ebe7dd 330px,#ebe7dd 335px,#d6d3cb 335px,#d6d3cb 340px,#e1dcd1 340px,#e1dcd1 345px,#dbd7d4 345px,#dbd7d4 350px,#f0ebe8 350px,#f0ebe8 355px,#e2ddd9 355px,#e2ddd9 360px,#dcdbd4 360px,#dcdbd4 365px,#eae4e2 365px,#eae4e2 370px,#e0ddd5 370px,#e0ddd5 375px,#c8c6ba 375px,#c8c6ba 380px,#d9d2cb 380px,#d9d2cb 385px,#ece8e3 385px,#ece8e3 390px,#d8d1cd 390px,#d8d1cd 395px,#dddddb 395px,#dddddb 400px,#ebe8e1 400px,#ebe8e1 405px,#dfdfd6 405px,#dfdfd6 410px,#e7e4da 410px,#e7e4da 415px,#d2d1c5 415px,#d2d1c5 420px,#d3d1cb 420px,#d3d1cb 425px,#e8e6db 425px,#e8e6db 430px,#d5d0ca 430px,#d5d0ca 435px,#d5cec3 435px,#d5cec3 440px,#cfcdc7 440px,#cfcdc7 445px,#eae6da 445px,#eae6da 450px,#d5d2c6 450px,#d5d2c6 455px,#e7e2d7 455px,#e7e2d7 460px,#d3cec5 460px,#d3cec5 465px,#e4e2e0 465px,#e4e2e0 470px,#edece9 470px,#edece9 475px,#cac8c2 475px,#cac8c2 480px,#cccac0 480px,#cccac0 485px,#e2e2d7 485px,#e2e2d7 490px,#dbd4d1 490px,#dbd4d1 495px,#e6e3df 495px,#e6e3df 500px,#d7d2c6 500px,#d7d2c6 505px,#dbdbd7 505px,#dbdbd7 510px,#e0dbd8 510px,#e0dbd8 515px,#cacabf 515px,#cacabf 520px,#cdcdc9 520px,#cdcdc9 525px,#dcd8d2 525px,#dcd8d2 530px,#e6e3da 530px,#e6e3da 535px,#d7d7d5 535px,#d7d7d5 540px,#dbd8d2 540px,#dbd8d2 545px,#d2cbc0 545px,#d2cbc0 550px,#d5cfc5 550px,#d5cfc5 555px,#efe9e0 555px,#efe9e0 560px,#d5d2cc 560px,#d5d2cc 565px,#dad7d3 565px,#dad7d3 570px,#dfd9d7 570px,#dfd9d7 575px,#d5d4cf 575px,#d5d4cf 580px,#e7e2d9 580px,#e7e2d9 585px,#ebe6dc 585px,#ebe6dc 590px,#e9e9de 590px,#e9e9de 595px,#e2dcd7 595px,#e2dcd7 600px,#d5d0c7 600px,#d5d0c7 605px,#e1dfd5 605px,#e1dfd5 610px,#d5cfcb 610px,#d5cfcb 615px,#ece9e4 615px,#ece9e4 620px,#dad5ca 620px,#dad5ca 625px,#d0ccc6 625px,#d0ccc6 630px,#dddcd3 630px,#dddcd3 635px,#ded8cd 635px,#ded8cd 640px,#d8d3cb 640px,#d8d3cb 645px,#cac6c0 645px,#cac6c0 650px,#d0ceca 650px,#d0ceca 655px,#d9d8cc 655px,#d9d8cc 660px,#efe8e0 660px,#efe8e0 665px,#e4e1de 665px,#e4e1de 670px,#d5cfcb 670px,#d5cfcb 675px,#e8e6df 675px,#e8e6df 680px,#dad4cc 680px,#dad4cc 685px,#d9d7d4 685px,#d9d7d4 690px,#d4d1cd 690px,#d4d1cd 695px,#e7e4db 695px,#e7e4db 700px,#f3ece9 700px,#f3ece9 705px,#cac7be 705px,#cac7be 710px,#c9c8be 710px,#c9c8be 715px,#e4e1db 715px,#e4e1db 720px,#d6d4c8 720px,#d6d4c8 725px) 0 0/100% 5px no-repeat,linear-gradient(90deg,#b9b4b1 0px,#b9b4b1 5px,#bdbcb0 5px,#bdbcb0 10px,#aca8a4 10px,#aca8a4 15px,#afaeac 15px,#afaeac 20px,#e6e6e1 20px,#e6e6e1 25px,#b0adaa 25px,#b0adaa 30px,#b2aeab 30px,#b2aeab 35px,#b5aeaa 35px,#b5aeaa 40px,#aeaea8 40px,#aeaea8 45px,#bebbb4 45px,#bebbb4 50px,#b3adaa 50px,#b3adaa 55px,#acaca9 55px,#acaca9 60px,#dfded5 60px,#dfded5 65px,#d1cac8 65px,#d1cac8 70px,#afaca5 70px,#afaca5 75px,#a5a098 75px,#a5a098 80px,#beb8b3 80px,#beb8b3 85px,#b7b1ae 85px,#b7b1ae 90px,#ccc5b9 90px,#ccc5b9 95px,#c0b9b3 95px,#c0b9b3 100px,#afa9a1 100px,#afa9a1 105px,#dadad0 105px,#dadad0 110px,#b2aba0 110px,#b2aba0 115px,#aeadaa 115px,#aeadaa 120px,#cec9c1 120px,#cec9c1 125px,#9e9e98 125px,#9e9e98 130px,#e5e3de 130px,#e5e3de 135px,#bebcb6 135px,#bebcb6 140px,#bcb9b5 140px,#bcb9b5 145px,#cdc7bb 145px,#cdc7bb 150px,#a29e9c 150px,#a29e9c 155px,#bdb6af 155px,#bdb6af 160px,#c2bfb8 160px,#c2bfb8 165px,#a4a2a0 165px,#a4a2a0 170px,#dad6d4 170px,#dad6d4 175px,#b4b0a6 175px,#b4b0a6 180px,#cccac7 180px,#cccac7 185px,#d7d6d0 185px,#d7d6d0 190px,#a49f9b 190px,#a49f9b 195px,#cbc5b9 195px,#cbc5b9 200px,#eae4e1 200px,#eae4e1 205px,#aca59f 205px,#aca59f 210px,#c4bdb5 210px,#c4bdb5 215px,#aaa49f 215px,#aaa49f 220px,#b9b6af 220px,#b9b6af 225px,#c2bcb4 225px,#c2bcb4 230px,#c3bfbc 230px,#c3bfbc 235px,#c3c3b7 235px,#c3c3b7 240px,#bebab5 240px,#bebab5 245px,#dfd8d0 245px,#dfd8d0 250px,#c9c5be 250px,#c9c5be 255px,#a9a79f 255px,#a9a79f 260px,#aba7a2 260px,#aba7a2 265px,#a5a59d 265px,#a5a59d 270px,#a3a398 270px,#a3a398 275px,#e6e2d7 275px,#e6e2d7 280px,#bbbab7 280px,#bbbab7 285px,#aaa49e 285px,#aaa49e 290px,#e4e4dc 290px,#e4e4dc 295px,#b7b5ac 295px,#b7b5ac 300px,#a3a3a1 300px,#a3a3a1 305px,#aaa79b 305px,#aaa79b 310px,#a4a399 310px,#a4a399 315px,#abaaa6 315px,#abaaa6 320px,#b6b0a7 320px,#b6b0a7 325px,#b1aea7 325px,#b1aea7 330px,#d6d5cb 330px,#d6d5cb 335px,#cec8c2 335px,#cec8c2 340px,#c4c4c1 340px,#c4c4c1 345px,#aaa4a1 345px,#aaa4a1 350px,#e9e6db 350px,#e9e6db 355px,#d0ccc0 355px,#d0ccc0 360px,#c1bdb9 360px,#c1bdb9 365px,#ece6e4 365px,#ece6e4 370px,#b7b0a5 370px,#b7b0a5 375px,#b6b2a8 375px,#b6b2a8 380px,#b0afac 380px,#b0afac 385px,#ebe4dd 385px,#ebe4dd 390px,#b1aca9 390px,#b1aca9 395px,#b6b2ac 395px,#b6b2ac 400px,#e2dfd7 400px,#e2dfd7 405px,#c2beb3 405px,#c2beb3 410px,#c7c4bc 410px,#c7c4bc 415px,#bfbbb0 415px,#bfbbb0 420px,#adaba1 420px,#adaba1 425px,#c9c7bd 425px,#c9c7bd 430px,#9f9e98 430px,#9f9e98 435px,#cdcbc4 435px,#cdcbc4 440px,#b1aea6 440px,#b1aea6 445px,#e4e2d6 445px,#e4e2d6 450px,#a8a498 450px,#a8a498 455px,#a6a49b 455px,#a6a49b 460px,#cdc7c5 460px,#cdc7c5 465px,#b0aaa2 465px,#b0aaa2 470px,#e4e1da 470px,#e4e1da 475px,#ccc8c0 475px,#ccc8c0 480px,#cec8be 480px,#cec8be 485px,#e3e0d8 485px,#e3e0d8 490px,#aca79d 490px,#aca79d 495px,#bbbbb8 495px,#bbbbb8 500px,#aeada3 500px,#aeada3 505px,#aea9a3 505px,#aea9a3 510px,#c2bbb4 510px,#c2bbb4 515px,#b6b1ad 515px,#b6b1ad 520px,#c2c0bc 520px,#c2c0bc 525px,#a5a398 525px,#a5a398 530px,#e7e4db 530px,#e7e4db 535px,#b4b3a9 535px,#b4b3a9 540px,#a9a79d 540px,#a9a79d 545px,#b1aca6 545px,#b1aca6 550px,#b2b1ab 550px,#b2b1ab 555px,#e0dad8 555px,#e0dad8 560px,#bcb9b1 560px,#bcb9b1 565px,#bbbbb2 565px,#bbbbb2 570px,#ccc6c4 570px,#ccc6c4 575px,#a7a49c 575px,#a7a49c 580px,#b1aeac 580px,#b1aeac 585px,#c4c3ba 585px,#c4c3ba 590px,#e2e1dc 590px,#e2e1dc 595px,#bebab5 595px,#bebab5 600px,#a6a196 600px,#a6a196 605px,#a1a095 605px,#a1a095 610px,#a69f95 610px,#a69f95 615px,#ded8d4 615px,#ded8d4 620px,#c7c0ba 620px,#c7c0ba 625px,#bab4b0 625px,#bab4b0 630px,#abaa9f 630px,#abaa9f 635px,#cdc8bd 635px,#cdc8bd 640px,#bcb9b3 640px,#bcb9b3 645px,#c7c2c0 645px,#c7c2c0 650px,#c3beb4 650px,#c3beb4 655px,#a4a49d 655px,#a4a49d 660px,#e0dcd0 660px,#e0dcd0 665px,#b5afa5 665px,#b5afa5 670px,#c1bab1 670px,#c1bab1 675px,#c0bbb8 675px,#c0bbb8 680px,#cccac7 680px,#cccac7 685px,#afada8 685px,#afada8 690px,#a9a69d 690px,#a9a69d 695px,#cdc8c3 695px,#cdc8c3 700px,#e5ded5 700px,#e5ded5 705px,#a2a09e 705px,#a2a09e 710px,#b0a9a6 710px,#b0a9a6 715px,#a9a2a0 715px,#a9a2a0 720px,#a69f97 720px,#a69f97 725px) 0 5px/100% 5px no-repeat,linear-gradient(90deg,#e7e6de 0px,#e7e6de 5px,#dfdddb 5px,#dfdddb 10px,#eee8e3 10px,#eee8e3 15px,#e4e0d4 15px,#e4e0d4 20px,#f1ebe3 20px,#f1ebe3 25px,#d7d7d0 25px,#d7d7d0 30px,#ddd7d2 30px,#ddd7d2 35px,#e2dddb 35px,#e2dddb 40px,#d7d6d4 40px,#d7d6d4 45px,#eae3da 45px,#eae3da 50px,#e2e1d6 50px,#e2e1d6 55px,#e7e2e0 55px,#e7e2e0 60px,#eeeae2 60px,#eeeae2 65px,#dfd8ce 65px,#dfd8ce 70px,#ece6e3 70px,#ece6e3 75px,#e6e5dd 75px,#e6e5dd 80px,#e0d9d1 80px,#e0d9d1 85px,#e6e6e3 85px,#e6e6e3 90px,#e9e5e3 90px,#e9e5e3 95px,#e7e3d7 95px,#e7e3d7 100px,#ddd6d1 100px,#ddd6d1 105px,#f0e9e1 105px,#f0e9e1 110px,#ddd9cd 110px,#ddd9cd 115px,#dcd7d1 115px,#dcd7d1 120px,#eae7dc 120px,#eae7dc 125px,#e2e2da 125px,#e2e2da 130px,#edebe0 130px,#edebe0 135px,#e9e5d9 135px,#e9e5d9 140px,#e7e7e1 140px,#e7e7e1 145px,#d8d6cf 145px,#d8d6cf 150px,#dad7d5 150px,#dad7d5 155px,#dfdbd6 155px,#dfdbd6 160px,#e5e2d8 160px,#e5e2d8 165px,#e2e0dd 165px,#e2e0dd 170px,#eee7dd 170px,#eee7dd 175px,#e7e2de 175px,#e7e2de 180px,#e6e4da 180px,#e6e4da 185px,#ede8e6 185px,#ede8e6 190px,#eae6dd 190px,#eae6dd 195px,#d8d7d3 195px,#d8d7d3 200px,#eae4da 200px,#eae4da 205px,#ddd8d1 205px,#ddd8d1 210px,#dad8d0 210px,#dad8d0 215px,#dedad0 215px,#dedad0 220px,#d8d7ce 220px,#d8d7ce 225px,#e8e6dd 225px,#e8e6dd 230px,#dcd9d5 230px,#dcd9d5 235px,#e2dfdd 235px,#e2dfdd 240px,#dbd7d4 240px,#dbd7d4 245px,#ede6da 245px,#ede6da 250px,#ebe6e2 250px,#ebe6e2 255px,#e0dbcf 255px,#e0dbcf 260px,#e4e2d6 260px,#e4e2d6 265px,#efe8e2 265px,#efe8e2 270px,#e0deda 270px,#e0deda 275px,#ebe9e4 275px,#ebe9e4 280px,#d7d6d1 280px,#d7d6d1 285px,#dfdfd9 285px,#dfdfd9 290px,#eae9e3 290px,#eae9e3 295px,#e6e4db 295px,#e6e4db 300px,#dad9d2 300px,#dad9d2 305px,#e4e2de 305px,#e4e2de 310px,#dddcda 310px,#dddcda 315px,#ded8d5 315px,#ded8d5 320px,#dddad1 320px,#dddad1 325px,#ddd7cb 325px,#ddd7cb 330px,#ecebe9 330px,#ecebe9 335px,#e7e2dd 335px,#e7e2dd 340px,#e3ddd6 340px,#e3ddd6 345px,#e9e4e0 345px,#e9e4e0 350px,#ebeae4 350px,#ebeae4 355px,#e7e3dd 355px,#e7e3dd 360px,#dcd9d1 360px,#dcd9d1 365px,#f0e9e3 365px,#f0e9e3 370px,#e3dcd6 370px,#e3dcd6 375px,#e3e2df 375px,#e3e2df 380px,#e5e4d9 380px,#e5e4d9 385px,#f1ebe5 385px,#f1ebe5 390px,#e9e5dd 390px,#e9e5dd 395px,#dcd9cf 395px,#dcd9cf 400px,#ece6e1 400px,#ece6e1 405px,#ddd6ce 405px,#ddd6ce 410px,#e6e0d4 410px,#e6e0d4 415px,#dad9d1 415px,#dad9d1 420px,#dedad2 420px,#dedad2 425px,#e8e6e0 425px,#e8e6e0 430px,#e7e0d7 430px,#e7e0d7 435px,#e6dfd4 435px,#e6dfd4 440px,#dcdad4 440px,#dcdad4 445px,#ecece4 445px,#ecece4 450px,#dad6cc 450px,#dad6cc 455px,#eae5e0 455px,#eae5e0 460px,#e3e3da 460px,#e3e3da 465px,#e6e3d7 465px,#e6e3d7 470px,#e6e5d9 470px,#e6e5d9 475px,#e1ddd5 475px,#e1ddd5 480px,#e2dcd5 480px,#e2dcd5 485px,#f1ebe4 485px,#f1ebe4 490px,#e3e2dd 490px,#e3e2dd 495px,#dcd8ce 495px,#dcd8ce 500px,#e0d9d1 500px,#e0d9d1 505px,#e7e1d5 505px,#e7e1d5 510px,#dedbcf 510px,#dedbcf 515px,#eee8e1 515px,#eee8e1 520px,#e4ded7 520px,#e4ded7 525px,#ece5e3 525px,#ece5e3 530px,#eeebdf 530px,#eeebdf 535px,#d9d7d5 535px,#d9d7d5 540px,#e5e1de 540px,#e5e1de 545px,#dfdcd3 545px,#dfdcd3 550px,#e6dfd5 550px,#e6dfd5 555px,#ebeae8 555px,#ebeae8 560px,#dad8cc 560px,#dad8cc 565px,#dddcd4 565px,#dddcd4 570px,#dedad3 570px,#dedad3 575px,#dad8ce 575px,#dad8ce 580px,#e6e0db 580px,#e6e0db 585px,#d9d9d6 585px,#d9d9d6 590px,#f0ebe9 590px,#f0ebe9 595px,#e6e2db 595px,#e6e2db 600px,#e7e4de 600px,#e7e4de 605px,#e2dbd7 605px,#e2dbd7 610px,#e2dbd4 610px,#e2dbd4 615px,#ece6dc 615px,#ece6dc 620px,#dbd8d2 620px,#dbd8d2 625px,#e5e1d7 625px,#e5e1d7 630px,#deddd3 630px,#deddd3 635px,#e6e0db 635px,#e6e0db 640px,#e0e0de 640px,#e0e0de 645px,#eae4d8 645px,#eae4d8 650px,#e5e1d8 650px,#e5e1d8 655px,#e0ddd7 655px,#e0ddd7 660px,#ece7dd 660px,#ece7dd 665px,#eae5dd 665px,#eae5dd 670px,#d8d8cd 670px,#d8d8cd 675px,#dcd6ca 675px,#dcd6ca 680px,#e7e0db 680px,#e7e0db 685px,#e6e3da 685px,#e6e3da 690px,#ded7d2 690px,#ded7d2 695px,#e7e0de 695px,#e7e0de 700px,#ece8dc 700px,#ece8dc 705px,#e1dacf 705px,#e1dacf 710px,#e0dcd2 710px,#e0dcd2 715px,#e7e5e0 715px,#e7e5e0 720px,#e5dfd8 720px,#e5dfd8 725px) 0 10px/100% 5px no-repeat"></span><span class="blur" style="width:255px;background:linear-gradient(90deg,#d9d8d1 0px,#d9d8d1 5px,#d0cfc9 5px,#d0cfc9 10px,#dcd6d0 10px,#dcd6d0 15px,#f3ece6 15px,#f3ece6 20px,#dfdbcf 20px,#dfdbcf 25px,#c9c6bf 25px,#c9c6bf 30px,#eae5e0 30px,#eae5e0 35px,#e5e1da 35px,#e5e1da 40px,#cbc7c1 40px,#cbc7c1 45px,#cac6c2 45px,#cac6c2 50px,#d8d3d0 50px,#d8d3d0 55px,#f1ece5 55px,#f1ece5 60px,#cfcdc5 60px,#cfcdc5 65px,#d7d6cb 65px,#d7d6cb 70px,#e9e2dc 70px,#e9e2dc 75px,#ddddd6 75px,#ddddd6 80px,#ece8de 80px,#ece8de 85px,#d8d1c8 85px,#d8d1c8 90px,#dddbd6 90px,#dddbd6 95px,#d7d6d1 95px,#d7d6d1 100px,#d8d5d3 100px,#d8d5d3 105px,#d5d2ce 105px,#d5d2ce 110px,#eae5dc 110px,#eae5dc 115px,#ddddd8 115px,#ddddd8 120px,#efece4 120px,#efece4 125px,#e7e4e2 125px,#e7e4e2 130px,#dbdbd8 130px,#dbdbd8 135px,#dcd7d4 135px,#dcd7d4 140px,#ebe9df 140px,#ebe9df 145px,#d2d1c7 145px,#d2d1c7 150px,#d5cfcb 150px,#d5cfcb 155px,#dcd9ce 155px,#dcd9ce 160px,#e2dbd8 160px,#e2dbd8 165px,#e9e4dc 165px,#e9e4dc 170px,#d8d3d1 170px,#d8d3d1 175px,#f0e9e4 175px,#f0e9e4 180px,#d3d2c9 180px,#d3d2c9 185px,#d5d4cd 185px,#d5d4cd 190px,#d0cfca 190px,#d0cfca 195px,#efeae3 195px,#efeae3 200px,#d1cbc8 200px,#d1cbc8 205px,#ccc8bc 205px,#ccc8bc 210px,#e5ded5 210px,#e5ded5 215px,#ebe6e0 215px,#ebe6e0 220px,#cac7be 220px,#cac7be 225px,#d2d1cc 225px,#d2d1cc 230px,#e2dcd7 230px,#e2dcd7 235px,#cbcac0 235px,#cbcac0 240px,#cac8c6 240px,#cac8c6 245px,#f1eae1 245px,#f1eae1 250px,#dad6d4 250px,#dad6d4 255px) 0 0/100% 5px no-repeat,linear-gradient(90deg,#bcb8ae 0px,#bcb8ae 5px,#a4a09c 5px,#a4a09c 10px,#bebbb6 10px,#bebbb6 15px,#dddbd9 15px,#dddbd9 20px,#cac6c2 20px,#cac6c2 25px,#c3bdb6 25px,#c3bdb6 30px,#dad4cc 30px,#dad4cc 35px,#cacac0 35px,#cacac0 40px,#aba499 40px,#aba499 45px,#ccccc4 45px,#ccccc4 50px,#cccac1 50px,#cccac1 55px,#e5e3df 55px,#e5e3df 60px,#c4beba 60px,#c4beba 65px,#c4beb8 65px,#c4beb8 70px,#b0afaa 70px,#b0afaa 75px,#aca599 75px,#aca599 80px,#e0dfd5 80px,#e0dfd5 85px,#c2c0b6 85px,#c2c0b6 90px,#adaba9 90px,#adaba9 95px,#a8a39e 95px,#a8a39e 100px,#b5b2af 100px,#b5b2af 105px,#a7a19d 105px,#a7a19d 110px,#a1a097 110px,#a1a097 115px,#bfbcb4 115px,#bfbcb4 120px,#e0ddd9 120px,#e0ddd9 125px,#c8c1b8 125px,#c8c1b8 130px,#a8a8a1 130px,#a8a8a1 135px,#c4c1ba 135px,#c4c1ba 140px,#dad7ce 140px,#dad7ce 145px,#a5a49d 145px,#a5a49d 150px,#c9c7bb 150px,#c9c7bb 155px,#c7c7bb 155px,#c7c7bb 160px,#afafa6 160px,#afafa6 165px,#c8c2b7 165px,#c8c2b7 170px,#a3a19a 170px,#a3a19a 175px,#e7e1de 175px,#e7e1de 180px,#bcb9af 180px,#bcb9af 185px,#c4bfb5 185px,#c4bfb5 190px,#b9b7af 190px,#b9b7af 195px,#e1dcd6 195px,#e1dcd6 200px,#c5c4bb 200px,#c5c4bb 205px,#a49f9c 205px,#a49f9c 210px,#beb7ae 210px,#beb7ae 215px,#dad9d2 215px,#dad9d2 220px,#a3a095 220px,#a3a095 225px,#a09e9c 225px,#a09e9c 230px,#cfcbc2 230px,#cfcbc2 235px,#cec9c7 235px,#cec9c7 240px,#b0ada4 240px,#b0ada4 245px,#e3dcd3 245px,#e3dcd3 250px,#b7b6b1 250px,#b7b6b1 255px) 0 5px/100% 5px no-repeat,linear-gradient(90deg,#e0dbd8 0px,#e0dbd8 5px,#e8e1dd 5px,#e8e1dd 10px,#ddd7d2 10px,#ddd7d2 15px,#ece5d9 15px,#ece5d9 20px,#efe8dd 20px,#efe8dd 25px,#dbdacf 25px,#dbdacf 30px,#eae4dc 30px,#eae4dc 35px,#deddd2 35px,#deddd2 40px,#e4ddd6 40px,#e4ddd6 45px,#e1dcd9 45px,#e1dcd9 50px,#e6e4da 50px,#e6e4da 55px,#eae9e2 55px,#eae9e2 60px,#d7d6d0 60px,#d7d6d0 65px,#e5e3d7 65px,#e5e3d7 70px,#ebe6e4 70px,#ebe6e4 75px,#e5e4dd 75px,#e5e4dd 80px,#efece8 80px,#efece8 85px,#e1dfd5 85px,#e1dfd5 90px,#e2ded3 90px,#e2ded3 95px,#e5deda 95px,#e5deda 100px,#e3dfd6 100px,#e3dfd6 105px,#dedcd1 105px,#dedcd1 110px,#e3dcd8 110px,#e3dcd8 115px,#e1dcd8 115px,#e1dcd8 120px,#eeeae2 120px,#eeeae2 125px,#ebe5e1 125px,#ebe5e1 130px,#e1e1d9 130px,#e1e1d9 135px,#e0ded4 135px,#e0ded4 140px,#ece9e1 140px,#ece9e1 145px,#e0deda 145px,#e0deda 150px,#e8e1d7 150px,#e8e1d7 155px,#e9e6e2 155px,#e9e6e2 160px,#e0dbcf 160px,#e0dbcf 165px,#ebe7e5 165px,#ebe7e5 170px,#e5e3e0 170px,#e5e3e0 175px,#e9e8e3 175px,#e9e8e3 180px,#ddd9cf 180px,#ddd9cf 185px,#eae5da 185px,#eae5da 190px,#e1ddd7 190px,#e1ddd7 195px,#e9e9de 195px,#e9e9de 200px,#d9d9d7 200px,#d9d9d7 205px,#dfdbd1 205px,#dfdbd1 210px,#ded8d3 210px,#ded8d3 215px,#eee7dd 215px,#eee7dd 220px,#e7e0de 220px,#e7e0de 225px,#e3dfdc 225px,#e3dfdc 230px,#e7e2d8 230px,#e7e2d8 235px,#e0dfda 235px,#e0dfda 240px,#e4e0da 240px,#e4e0da 245px,#e9e8e3 245px,#e9e8e3 250px,#d8d7cc 250px,#d8d7cc 255px) 0 10px/100% 5px no-repeat"></span></td></tr>
<tr><td class="n"><span style="letter-spacing:0.26px">Internet</span></td><td class="s"><span class="b up">Up</span></td><td class="d"><div>2025-10-10 <span style="letter-spacing:-0.45px">12:21:12</span></div></td><td class="m"><span class="blur" style="width:170px;background:linear-gradient(90deg,#dfdbd6 0px,#dfdbd6 5px,#d4d0cc 5px,#d4d0cc 10px,#cfcdcb 10px,#cfcdcb 15px,#dad5cb 15px,#dad5cb 20px,#ede6e2 20px,#ede6e2 25px,#e7e0dc 25px,#e7e0dc 30px,#e7e2df 30px,#e7e2df 35px,#ccc7c3 35px,#ccc7c3 40px,#c7c7c3 40px,#c7c7c3 45px,#d2cec8 45px,#d2cec8 50px,#ceccc4 50px,#ceccc4 55px,#eeece2 55px,#eeece2 60px,#ddd8d4 60px,#ddd8d4 65px,#d5ceca 65px,#d5ceca 70px,#e8e2de 70px,#e8e2de 75px,#d2cec6 75px,#d2cec6 80px,#d3cec4 80px,#d3cec4 85px,#dbd5ce 85px,#dbd5ce 90px,#e8e3d8 90px,#e8e3d8 95px,#e4e3d9 95px,#e4e3d9 100px,#d1cdc2 100px,#d1cdc2 105px,#ceccc5 105px,#ceccc5 110px,#ede7e5 110px,#ede7e5 115px,#cdccc8 115px,#cdccc8 120px,#e4e0d9 120px,#e4e0d9 125px,#cbc9c3 125px,#cbc9c3 130px,#d2cdc6 130px,#d2cdc6 135px,#dddbd2 135px,#dddbd2 140px,#e3e3dc 140px,#e3e3dc 145px,#ded9cf 145px,#ded9cf 150px,#e8e3e1 150px,#e8e3e1 155px,#e2dcd0 155px,#e2dcd0 160px,#e1dcd3 160px,#e1dcd3 165px,#d9d7d4 165px,#d9d7d4 170px) 0 0/100% 5px no-repeat,linear-gradient(90deg,#b2b1ac 0px,#b2b1ac 5px,#cec8c6 5px,#cec8c6 10px,#a4a096 10px,#a4a096 15px,#c2c0b8 15px,#c2c0b8 20px,#c2c1bd 20px,#c2c1bd 25px,#aeada1 25px,#aeada1 30px,#dfd8cc 30px,#dfd8cc 35px,#c5c5c0 35px,#c5c5c0 40px,#a4a19f 40px,#a4a19f 45px,#cfccc8 45px,#cfccc8 50px,#b8b6b2 50px,#b8b6b2 55px,#eae4db 55px,#eae4db 60px,#afafaa 60px,#afafaa 65px,#cec9c3 65px,#cec9c3 70px,#c8c1bf 70px,#c8c1bf 75px,#bbb5b1 75px,#bbb5b1 80px,#d0c9c5 80px,#d0c9c5 85px,#c7c2b6 85px,#c7c2b6 90px,#dbd4ca 90px,#dbd4ca 95px,#c3c1bf 95px,#c3c1bf 100px,#bab3ab 100px,#bab3ab 105px,#b5b5a9 105px,#b5b5a9 110px,#e3e3e0 110px,#e3e3e0 115px,#bdbcb9 115px,#bdbcb9 120px,#c8c2bb 120px,#c8c2bb 125px,#b0aca0 125px,#b0aca0 130px,#bbbab1 130px,#bbbab1 135px,#c7c0b5 135px,#c7c0b5 140px,#b6b1a8 140px,#b6b1a8 145px,#cfccc4 145px,#cfccc4 150px,#dcd6d3 150px,#dcd6d3 155px,#c3beba 155px,#c3beba 160px,#c6c0b4 160px,#c6c0b4 165px,#aeaba6 165px,#aeaba6 170px) 0 5px/100% 5px no-repeat,linear-gradient(90deg,#e0ddd6 0px,#e0ddd6 5px,#dcd6d0 5px,#dcd6d0 10px,#dfdfdd 10px,#dfdfdd 15px,#ece6e0 15px,#ece6e0 20px,#ede7dc 20px,#ede7dc 25px,#e1dfd6 25px,#e1dfd6 30px,#f2ebe5 30px,#f2ebe5 35px,#e2e2df 35px,#e2e2df 40px,#e9e4e0 40px,#e9e4e0 45px,#e6e6dd 45px,#e6e6dd 50px,#dedbd5 50px,#dedbd5 55px,#eae9e2 55px,#eae9e2 60px,#dbd6cf 60px,#dbd6cf 65px,#e3e2db 65px,#e3e2db 70px,#e5e0da 70px,#e5e0da 75px,#dcdad8 75px,#dcdad8 80px,#e9e8df 80px,#e9e8df 85px,#ece7e2 85px,#ece7e2 90px,#edecea 90px,#edecea 95px,#e4e1d9 95px,#e4e1d9 100px,#ebe7e0 100px,#ebe7e0 105px,#dededb 105px,#dededb 110px,#f0ece2 110px,#f0ece2 115px,#e2e1d6 115px,#e2e1d6 120px,#ede7dc 120px,#ede7dc 125px,#deded7 125px,#deded7 130px,#e3e3dd 130px,#e3e3dd 135px,#deded7 135px,#deded7 140px,#d7d7d2 140px,#d7d7d2 145px,#eee7e4 145px,#eee7e4 150px,#eae9df 150px,#eae9df 155px,#e3dedb 155px,#e3dedb 160px,#dbdad1 160px,#dbdad1 165px,#e7e4e0 165px,#e7e4e0 170px) 0 10px/100% 5px no-repeat"></span></td></tr>
<tr><td class="n"><span style="letter-spacing:-0.09px">Google (DNS)</span></td><td class="s"><span class="b up">Up</span></td><td class="d"><div>2025-10-10 <span style="letter-spacing:-0.45px">12:20:38</span></div></td><td class="m"><span class="blur" style="width:145px;background:linear-gradient(90deg,#e2dbcf 0px,#e2dbcf 5px,#dcd6cb 5px,#dcd6cb 10px,#d3d2d0 10px,#d3d2d0 15px,#cbc9c0 15px,#cbc9c0 20px,#dddbd3 20px,#dddbd3 25px,#e4e0d8 25px,#e4e0d8 30px,#d2d2c6 30px,#d2d2c6 35px,#cdcbc7 35px,#cdcbc7 40px,#ede6db 40px,#ede6db 45px,#d1d1cf 45px,#d1d1cf 50px,#e2dddb 50px,#e2dddb 55px,#cfc9c3 55px,#cfc9c3 60px,#d8d5ca 60px,#d8d5ca 65px,#d3ccc7 65px,#d3ccc7 70px,#cdcac7 70px,#cdcac7 75px,#e8e5e2 75px,#e8e5e2 80px,#e3e2db 80px,#e3e2db 85px,#e6e1d8 85px,#e6e1d8 90px,#d6d0c7 90px,#d6d0c7 95px,#d5d0c8 95px,#d5d0c8 100px,#e4e2d8 100px,#e4e2d8 105px,#cdccc3 105px,#cdccc3 110px,#e6e5e2 110px,#e6e5e2 115px,#dad5d1 115px,#dad5d1 120px,#e9e3da 120px,#e9e3da 125px,#eae4d8 125px,#eae4d8 130px,#d4cec5 130px,#d4cec5 135px,#d8d1cb 135px,#d8d1cb 140px,#ceccc5 140px,#ceccc5 145px) 0 0/100% 5px no-repeat,linear-gradient(90deg,#b8b5aa 0px,#b8b5aa 5px,#c9c6c1 5px,#c9c6c1 10px,#c0bab0 10px,#c0bab0 15px,#c3bdb3 15px,#c3bdb3 20px,#c9c7c2 20px,#c9c7c2 25px,#b1aca5 25px,#b1aca5 30px,#a3a29c 30px,#a3a29c 35px,#aca5a1 35px,#aca5a1 40px,#e9e2e0 40px,#e9e2e0 45px,#b8b7ac 45px,#b8b7ac 50px,#a6a09b 50px,#a6a09b 55px,#a19f9a 55px,#a19f9a 60px,#bab4ad 60px,#bab4ad 65px,#b0ab9f 65px,#b0ab9f 70px,#c8c5bb 70px,#c8c5bb 75px,#dfdcda 75px,#dfdcda 80px,#b2ada3 80px,#b2ada3 85px,#a1a195 85px,#a1a195 90px,#b1b1a6 90px,#b1b1a6 95px,#cccbc9 95px,#cccbc9 100px,#bcb6ad 100px,#bcb6ad 105px,#b4b4a8 105px,#b4b4a8 110px,#ccc5c1 110px,#ccc5c1 115px,#c3c3bf 115px,#c3c3bf 120px,#e7e2d7 120px,#e7e2d7 125px,#b6afad 125px,#b6afad 130px,#b5b0a9 130px,#b5b0a9 135px,#a09f9c 135px,#a09f9c 140px,#babab0 140px,#babab0 145px) 0 5px/100% 5px no-repeat,linear-gradient(90deg,#e4e3da 0px,#e4e3da 5px,#d9d8d2 5px,#d9d8d2 10px,#dcd6d3 10px,#dcd6d3 15px,#eae7df 15px,#eae7df 20px,#deddd1 20px,#deddd1 25px,#e0e0d6 25px,#e0e0d6 30px,#e5e3d9 30px,#e5e3d9 35px,#d7d6d2 35px,#d7d6d2 40px,#eae7e3 40px,#eae7e3 45px,#e5e0d8 45px,#e5e0d8 50px,#dcd7cf 50px,#dcd7cf 55px,#e1dad5 55px,#e1dad5 60px,#dfdfda 60px,#dfdfda 65px,#e6e0db 65px,#e6e0db 70px,#e7e4de 70px,#e7e4de 75px,#e9e4dc 75px,#e9e4dc 80px,#ebe8e0 80px,#ebe8e0 85px,#eee8e5 85px,#eee8e5 90px,#d9d8d5 90px,#d9d8d5 95px,#e0dfd6 95px,#e0dfd6 100px,#d8d7cc 100px,#d8d7cc 105px,#dad7d5 105px,#dad7d5 110px,#dddacf 110px,#dddacf 115px,#eee8e0 115px,#eee8e0 120px,#ebe7e0 120px,#ebe7e0 125px,#dfdace 125px,#dfdace 130px,#e6e4db 130px,#e6e4db 135px,#e5dedc 135px,#e5dedc 140px,#e2dfd5 140px,#e2dfd5 145px) 0 10px/100% 5px no-repeat"></span></td></tr>
<tr><td class="n"><span style="letter-spacing:0.26px">Internet</span></td><td class="s"><span class="b down">Down</span></td><td class="d"><div>2025-10-10 <span style="letter-spacing:-0.45px">12:20:12</span></div></td><td class="m"><span class="blur" style="width:110px;background:linear-gradient(90deg,#ddddd3 0px,#ddddd3 5px,#cfcecb 5px,#cfcecb 10px,#d6d4d2 10px,#d6d4d2 15px,#d7d0cc 15px,#d7d0cc 20px,#e6e2db 20px,#e6e2db 25px,#e1ded5 25px,#e1ded5 30px,#cac6ba 30px,#cac6ba 35px,#dad5d1 35px,#dad5d1 40px,#e4e0d9 40px,#e4e0d9 45px,#dfdad6 45px,#dfdad6 50px,#e6e2d7 50px,#e6e2d7 55px,#e5e5d9 55px,#e5e5d9 60px,#d5d4cb 60px,#d5d4cb 65px,#e6e3da 65px,#e6e3da 70px,#cfcec4 70px,#cfcec4 75px,#eae9e7 75px,#eae9e7 80px,#dcdacf 80px,#dcdacf 85px,#d8d2c8 85px,#d8d2c8 90px,#cacac5 90px,#cacac5 95px,#dad9d6 95px,#dad9d6 100px,#d7d0c9 100px,#d7d0c9 105px,#d0cdc2 105px,#d0cdc2 110px) 0 0/100% 5px no-repeat,linear-gradient(90deg,#bab6b1 0px,#bab6b1 5px,#b4aea3 5px,#b4aea3 10px,#aba5a0 10px,#aba5a0 15px,#b4aea6 15px,#b4aea6 20px,#ddd7cd 20px,#ddd7cd 25px,#aba9a5 25px,#aba9a5 30px,#b1afa3 30px,#b1afa3 35px,#cac8be 35px,#cac8be 40px,#cdcac1 40px,#cdcac1 45px,#c2c0bb 45px,#c2c0bb 50px,#dddbd7 50px,#dddbd7 55px,#b8b7ae 55px,#b8b7ae 60px,#b9b4a8 60px,#b9b4a8 65px,#c9c8c3 65px,#c9c8c3 70px,#a2a2a0 70px,#a2a2a0 75px,#d8d7d4 75px,#d8d7d4 80px,#b8b5aa 80px,#b8b5aa 85px,#bdb8b1 85px,#bdb8b1 90px,#d2ccc1 90px,#d2ccc1 95px,#bbb9ad 95px,#bbb9ad 100px,#c0c0ba 100px,#c0c0ba 105px,#aeaba7 105px,#aeaba7 110px) 0 5px/100% 5px no-repeat,linear-gradient(90deg,#eee8df 0px,#eee8df 5px,#e3ddd4 5px,#e3ddd4 10px,#deddd4 10px,#deddd4 15px,#e9e3dd 15px,#e9e3dd 20px,#eee8e2 20px,#eee8e2 25px,#e5e5dc 25px,#e5e5dc 30px,#eae5db 30px,#eae5db 35px,#ddd6d2 35px,#ddd6d2 40px,#ebe7e1 40px,#ebe7e1 45px,#e0d9d0 45px,#e0d9d0 50px,#e6e5e1 50px,#e6e5e1 55px,#ebe4dd 55px,#ebe4dd 60px,#e9e5db 60px,#e9e5db 65px,#e6e0d5 65px,#e6e0d5 70px,#e1dad8 70px,#e1dad8 75px,#edece5 75px,#edece5 80px,#e1dfd8 80px,#e1dfd8 85px,#e5e0d8 85px,#e5e0d8 90px,#e5e5e1 90px,#e5e5e1 95px,#dddad3 95px,#dddad3 100px,#e3ddd6 100px,#e3ddd6 105px,#e4e2d7 105px,#e4e2d7 110px) 0 10px/100% 5px no-repeat"></span></td></tr>
<tr><td class="n"><span style="letter-spacing:-0.09px">Google (DNS)</span></td><td class="s"><span class="b down">Down</span></td><td class="d"><div>2025-10-10 <span style="letter-spacing:-0.45px">12:19:38</span></div></td><td class="m"><span class="blur" style="width:225px;background:linear-gradient(90deg,#dad5d3 0px,#dad5d3 5px,#d0cfc9 5px,#d0cfc9 10px,#e3ddd1 10px,#e3ddd1 15px,#e9e5dd 15px,#e9e5dd 20px,#ebe6e1 20px,#ebe6e1 25px,#dad7d2 25px,#dad7d2 30px,#ede9e5 30px,#ede9e5 35px,#e6e5e0 35px,#e6e5e0 40px,#e5e4dc 40px,#e5e4dc 45px,#eae6e3 45px,#eae6e3 50px,#cecdc6 50px,#cecdc6 55px,#e8e5dc 55px,#e8e5dc 60px,#d2cbc4 60px,#d2cbc4 65px,#e8e6dd 65px,#e8e6dd 70px,#cececa 70px,#cececa 75px,#d9d2c7 75px,#d9d2c7 80px,#d2cfc6 80px,#d2cfc6 85px,#ded7d5 85px,#ded7d5 90px,#d2ccc6 90px,#d2ccc6 95px,#d9d5d2 95px,#d9d5d2 100px,#e6e6e0 100px,#e6e6e0 105px,#d3d0c4 105px,#d3d0c4 110px,#d5ceca 110px,#d5ceca 115px,#e4e4e0 115px,#e4e4e0 120px,#d8d3cd 120px,#d8d3cd 125px,#d8d8d1 125px,#d8d8d1 130px,#e4e3de 130px,#e4e3de 135px,#ece8df 135px,#ece8df 140px,#d3cfcc 140px,#d3cfcc 145px,#d1cec4 145px,#d1cec4 150px,#ece5e1 150px,#ece5e1 155px,#d1ccc3 155px,#d1ccc3 160px,#e0dad6 160px,#e0dad6 165px,#d3d1cb 165px,#d3d1cb 170px,#dfdfd4 170px,#dfdfd4 175px,#e5e4e1 175px,#e5e4e1 180px,#d1cbc7 180px,#d1cbc7 185px,#d5d4cf 185px,#d5d4cf 190px,#e5e5de 190px,#e5e5de 195px,#cccbc3 195px,#cccbc3 200px,#dddcda 200px,#dddcda 205px,#cfcec5 205px,#cfcec5 210px,#e7e2df 210px,#e7e2df 215px,#dbdad7 215px,#dbdad7 220px,#e0dfd8 220px,#e0dfd8 225px) 0 0/100% 5px no-repeat,linear-gradient(90deg,#a4a19b 0px,#a4a19b 5px,#c4c4bd 5px,#c4c4bd 10px,#b5b4a8 10px,#b5b4a8 15px,#bfbcb1 15px,#bfbcb1 20px,#bebdb8 20px,#bebdb8 25px,#adaba9 25px,#adaba9 30px,#d8d8d6 30px,#d8d8d6 35px,#a4a29c 35px,#a4a29c 40px,#c6c2bd 40px,#c6c2bd 45px,#a6a59e 45px,#a6a59e 50px,#adada9 50px,#adada9 55px,#c7c4b9 55px,#c7c4b9 60px,#b8b8b5 60px,#b8b8b5 65px,#dad7d3 65px,#dad7d3 70px,#c7c7c4 70px,#c7c7c4 75px,#a8a49e 75px,#a8a49e 80px,#d2ccc2 80px,#d2ccc2 85px,#bcb7ae 85px,#bcb7ae 90px,#a3a09d 90px,#a3a09d 95px,#c9c2c0 95px,#c9c2c0 100px,#e5dfd6 100px,#e5dfd6 105px,#c8c2b7 105px,#c8c2b7 110px,#ccc6c2 110px,#ccc6c2 115px,#a6a196 115px,#a6a196 120px,#bcbcb8 120px,#bcbcb8 125px,#a39f98 125px,#a39f98 130px,#c7c0b7 130px,#c7c0b7 135px,#dad6d3 135px,#dad6d3 140px,#b0aea4 140px,#b0aea4 145px,#a29f97 145px,#a29f97 150px,#e6e3dc 150px,#e6e3dc 155px,#b7b3af 155px,#b7b3af 160px,#b6b1ac 160px,#b6b1ac 165px,#b2b1a6 165px,#b2b1a6 170px,#c6c6c4 170px,#c6c6c4 175px,#cdc9c2 175px,#cdc9c2 180px,#ccc5bf 180px,#ccc5bf 185px,#cdc9c5 185px,#cdc9c5 190px,#e5e0db 190px,#e5e0db 195px,#aaa398 195px,#aaa398 200px,#a5a49f 200px,#a5a49f 205px,#c3bfbd 205px,#c3bfbd 210px,#b8b1a8 210px,#b8b1a8 215px,#c7c1b8 215px,#c7c1b8 220px,#a49f99 220px,#a49f99 225px) 0 5px/100% 5px no-repeat,linear-gradient(90deg,#ded7d5 0px,#ded7d5 5px,#ebe5e3 5px,#ebe5e3 10px,#e5e0db 10px,#e5e0db 15px,#d8d8ce 15px,#d8d8ce 20px,#eee7e0 20px,#eee7e0 25px,#dfddda 25px,#dfddda 30px,#eaeae3 30px,#eaeae3 35px,#e3e2d6 35px,#e3e2d6 40px,#e6e6e4 40px,#e6e6e4 45px,#e9e2d8 45px,#e9e2d8 50px,#d8d6d4 50px,#d8d6d4 55px,#e2e1d5 55px,#e2e1d5 60px,#dad8d3 60px,#dad8d3 65px,#e9e5dc 65px,#e9e5dc 70px,#e8e3d7 70px,#e8e3d7 75px,#dcdacf 75px,#dcdacf 80px,#e1e1de 80px,#e1e1de 85px,#dfd8d5 85px,#dfd8d5 90px,#ede8e4 90px,#ede8e4 95px,#e2e0d7 95px,#e2e0d7 100px,#e7e4e0 100px,#e7e4e0 105px,#dad9ce 105px,#dad9ce 110px,#ede7e0 110px,#ede7e0 115px,#e6e5de 115px,#e6e5de 120px,#dddbd2 120px,#dddbd2 125px,#ece7e1 125px,#ece7e1 130px,#e2dfd6 130px,#e2dfd6 135px,#eee8e2 135px,#eee8e2 140px,#eae7e3 140px,#eae7e3 145px,#dfdbd2 145px,#dfdbd2 150px,#efe9e6 150px,#efe9e6 155px,#e5dedc 155px,#e5dedc 160px,#e2dedb 160px,#e2dedb 165px,#d9d8cf 165px,#d9d8cf 170px,#dfdad8 170px,#dfdad8 175px,#eae3d7 175px,#eae3d7 180px,#dedcd9 180px,#dedcd9 185px,#e7e5d9 185px,#e7e5d9 190px,#ece8e5 190px,#ece8e5 195px,#efe8df 195px,#efe8df 200px,#e0dad0 200px,#e0dad0 205px,#dbd6ce 205px,#dbd6ce 210px,#dbd7cd 210px,#dbd7cd 215px,#ddd8d4 215px,#ddd8d4 220px,#e8e5df 220px,#e8e5df 225px) 0 10px/100% 5px no-repeat"></span></td></tr>
<tr><td class="n"><span style="letter-spacing:0.34px">Network</span></td><td class="s"><span class="b up">Up</span></td><td class="d"><div>2025-10-08 <span style="letter-spacing:-0.45px">19:55:09</span></div></td><td class="m"><span class="blur" style="width:170px;background:linear-gradient(90deg,#dbd7cd 0px,#dbd7cd 5px,#d8d4d2 5px,#d8d4d2 10px,#e5e0d9 10px,#e5e0d9 15px,#cecac1 15px,#cecac1 20px,#e8e1de 20px,#e8e1de 25px,#cec9c6 25px,#cec9c6 30px,#eeece2 30px,#eeece2 35px,#d0c9bd 35px,#d0c9bd 40px,#d9d6ca 40px,#d9d6ca 45px,#cec9c7 45px,#cec9c7 50px,#dfdbd0 50px,#dfdbd0 55px,#e9e6e3 55px,#e9e6e3 60px,#d1ccc6 60px,#d1ccc6 65px,#cbcac1 65px,#cbcac1 70px,#dad5cf 70px,#dad5cf 75px,#e5e2df 75px,#e5e2df 80px,#d9d3cb 80px,#d9d3cb 85px,#ded9cf 85px,#ded9cf 90px,#ece7e2 90px,#ece7e2 95px,#c7c6bd 95px,#c7c6bd 100px,#cdcac3 100px,#cdcac3 105px,#ede6e4 105px,#ede6e4 110px,#d5d2d0 110px,#d5d2d0 115px,#dcdad6 115px,#dcdad6 120px,#dfddd6 120px,#dfddd6 125px,#d9d2c6 125px,#d9d2c6 130px,#eeece5 130px,#eeece5 135px,#cfcac1 135px,#cfcac1 140px,#d6d2c9 140px,#d6d2c9 145px,#c9c9c7 145px,#c9c9c7 150px,#eee9e6 150px,#eee9e6 155px,#d6d1c9 155px,#d6d1c9 160px,#deddd3 160px,#deddd3 165px,#dad3c9 165px,#dad3c9 170px) 0 0/100% 5px no-repeat,linear-gradient(90deg,#bfbbaf 0px,#bfbbaf 5px,#c6bfbb 5px,#c6bfbb 10px,#adaba1 10px,#adaba1 15px,#bfbeb6 15px,#bfbeb6 20px,#b9b9b7 20px,#b9b9b7 25px,#bab8b6 25px,#bab8b6 30px,#e7e5df 30px,#e7e5df 35px,#c4bebb 35px,#c4bebb 40px,#c1bbb3 40px,#c1bbb3 45px,#b8b2a8 45px,#b8b2a8 50px,#afafa5 50px,#afafa5 55px,#acaaa0 55px,#acaaa0 60px,#b7b4ad 60px,#b7b4ad 65px,#a5a094 65px,#a5a094 70px,#b7b5af 70px,#b7b5af 75px,#e4e1da 75px,#e4e1da 80px,#c1c0ba 80px,#c1c0ba 85px,#cfc8c0 85px,#cfc8c0 90px,#e2ded9 90px,#e2ded9 95px,#c0bbb0 95px,#c0bbb0 100px,#cdc7bf 100px,#cdc7bf 105px,#a7a3a0 105px,#a7a3a0 110px,#bebcb5 110px,#bebcb5 115px,#aba99d 115px,#aba99d 120px,#b6b3ae 120px,#b6b3ae 125px,#afada4 125px,#afada4 130px,#dcd8d5 130px,#dcd8d5 135px,#a9a29a 135px,#a9a29a 140px,#cbc4c1 140px,#cbc4c1 145px,#bcb5ae 145px,#bcb5ae 150px,#d8d7d4 150px,#d8d7d4 155px,#b8b7b0 155px,#b8b7b0 160px,#b6b1a7 160px,#b6b1a7 165px,#aeaea9 165px,#aeaea9 170px) 0 5px/100% 5px no-repeat,linear-gradient(90deg,#dbdace 0px,#dbdace 5px,#e9e6df 5px,#e9e6df 10px,#e6e4dc 10px,#e6e4dc 15px,#d8d6d1 15px,#d8d6d1 20px,#e5e1d6 20px,#e5e1d6 25px,#e3ded6 25px,#e3ded6 30px,#ece6db 30px,#ece6db 35px,#e1dad4 35px,#e1dad4 40px,#dddcd6 40px,#dddcd6 45px,#e7e3d8 45px,#e7e3d8 50px,#dededb 50px,#dededb 55px,#dedcd2 55px,#dedcd2 60px,#e0e0dd 60px,#e0e0dd 65px,#e1dad0 65px,#e1dad0 70px,#e2dcd8 70px,#e2dcd8 75px,#f0ece7 75px,#f0ece7 80px,#dad7d2 80px,#dad7d2 85px,#dadad0 85px,#dadad0 90px,#ece5de 90px,#ece5de 95px,#e0d9d2 95px,#e0d9d2 100px,#e2e2da 100px,#e2e2da 105px,#e6e6de 105px,#e6e6de 110px,#ede8e6 110px,#ede8e6 115px,#e1dfd3 115px,#e1dfd3 120px,#e2e2d8 120px,#e2e2d8 125px,#dcdcd8 125px,#dcdcd8 130px,#e6e6de 130px,#e6e6de 135px,#d8d6d1 135px,#d8d6d1 140px,#dfd9cf 140px,#dfd9cf 145px,#dbdbd3 145px,#dbdbd3 150px,#ebebe6 150px,#ebebe6 155px,#e6e5e0 155px,#e6e5e0 160px,#dfd9d6 160px,#dfd9d6 165px,#efe8e3 165px,#efe8e3 170px) 0 10px/100% 5px no-repeat"></span></td></tr>
<tr><td class="n"><span style="letter-spacing:-0.04px">PiHole</span></td><td class="s"><span class="b up">Up</span></td><td class="d"><div>2025-10-08 <span style="letter-spacing:-0.45px">19:54:35</span></div></td><td class="m"><span class="blur" style="width:170px;background:linear-gradient(90deg,#e5e4dc 0px,#e5e4dc 5px,#dfd8cc 5px,#dfd8cc 10px,#cec8c1 10px,#cec8c1 15px,#edeae4 15px,#edeae4 20px,#e5e5e2 20px,#e5e5e2 25px,#d4cfc5 25px,#d4cfc5 30px,#cdc6bb 30px,#cdc6bb 35px,#e9e3dd 35px,#e9e3dd 40px,#e4e1df 40px,#e4e1df 45px,#c9c6bd 45px,#c9c6bd 50px,#ceccc9 50px,#ceccc9 55px,#e5e2df 55px,#e5e2df 60px,#d3cec2 60px,#d3cec2 65px,#e0e0d6 65px,#e0e0d6 70px,#deddd3 70px,#deddd3 75px,#e7e0dc 75px,#e7e0dc 80px,#e2e0dd 80px,#e2e0dd 85px,#eae9df 85px,#eae9df 90px,#e9e4dd 90px,#e9e4dd 95px,#cdccc2 95px,#cdccc2 100px,#d6d1c8 100px,#d6d1c8 105px,#ece5e1 105px,#ece5e1 110px,#e6e4df 110px,#e6e4df 115px,#dedbd2 115px,#dedbd2 120px,#e4e0d7 120px,#e4e0d7 125px,#dfdfd7 125px,#dfdfd7 130px,#e2dfd6 130px,#e2dfd6 135px,#efe8e1 135px,#efe8e1 140px,#e5e5e0 140px,#e5e5e0 145px,#e0dcd2 145px,#e0dcd2 150px,#dad8d3 150px,#dad8d3 155px,#cbcac5 155px,#cbcac5 160px,#dedcd9 160px,#dedcd9 165px,#cfcfc3 165px,#cfcfc3 170px) 0 0/100% 5px no-repeat,linear-gradient(90deg,#b4afab 0px,#b4afab 5px,#ccc8c3 5px,#ccc8c3 10px,#bdbaaf 10px,#bdbaaf 15px,#d8d7cb 15px,#d8d7cb 20px,#bfbfb3 20px,#bfbfb3 25px,#c5c4ba 25px,#c5c4ba 30px,#bebab0 30px,#bebab0 35px,#c7c5ba 35px,#c7c5ba 40px,#c1bfb7 40px,#c1bfb7 45px,#aaa9a5 45px,#aaa9a5 50px,#a8a2a0 50px,#a8a2a0 55px,#e4ddd3 55px,#e4ddd3 60px,#c1c1b7 60px,#c1c1b7 65px,#b0afa4 65px,#b0afa4 70px,#bab6ad 70px,#bab6ad 75px,#a4a29e 75px,#a4a29e 80px,#bebcba 80px,#bebcba 85px,#e3ded4 85px,#e3ded4 90px,#a2a09b 90px,#a2a09b 95px,#a2a2a0 95px,#a2a2a0 100px,#aba8a2 100px,#aba8a2 105px,#d5d4cf 105px,#d5d4cf 110px,#b9b4b1 110px,#b9b4b1 115px,#c5beba 115px,#c5beba 120px,#bbb4b1 120px,#bbb4b1 125px,#bebdb9 125px,#bebdb9 130px,#bebdb8 130px,#bebdb8 135px,#e8e6e2 135px,#e8e6e2 140px,#b0aba8 140px,#b0aba8 145px,#afaca5 145px,#afaca5 150px,#c5c5be 150px,#c5c5be 155px,#a7a297 155px,#a7a297 160px,#b6b5ae 160px,#b6b5ae 165px,#b5b0a4 165px,#b5b0a4 170px) 0 5px/100% 5px no-repeat,linear-gradient(90deg,#e3ddd2 0px,#e3ddd2 5px,#ece8e4 5px,#ece8e4 10px,#e1dddb 10px,#e1dddb 15px,#eae6e3 15px,#eae6e3 20px,#e0e0d7 20px,#e0e0d7 25px,#ede6dc 25px,#ede6dc 30px,#dad8d2 30px,#dad8d2 35px,#ece8df 35px,#ece8df 40px,#dedcd7 40px,#dedcd7 45px,#e9e4e2 45px,#e9e4e2 50px,#e2ded4 50px,#e2ded4 55px,#e5e4da 55px,#e5e4da 60px,#ece5d9 60px,#ece5d9 65px,#e6dfdc 65px,#e6dfdc 70px,#e2dbd7 70px,#e2dbd7 75px,#e3dfdc 75px,#e3dfdc 80px,#e2e2df 80px,#e2e2df 85px,#ebe8e6 85px,#ebe8e6 90px,#eae7de 90px,#eae7de 95px,#e7e2d7 95px,#e7e2d7 100px,#e1dbd0 100px,#e1dbd0 105px,#eeebe5 105px,#eeebe5 110px,#e7e5de 110px,#e7e5de 115px,#dfded4 115px,#dfded4 120px,#eae8dc 120px,#eae8dc 125px,#e6e6dd 125px,#e6e6dd 130px,#e5dfda 130px,#e5dfda 135px,#f0e9e7 135px,#f0e9e7 140px,#dcd8d2 140px,#dcd8d2 145px,#e6e4e2 145px,#e6e4e2 150px,#e5dfdb 150px,#e5dfdb 155px,#e4ded7 155px,#e4ded7 160px,#ede6da 160px,#ede6da 165px,#ece7db 165px,#ece7db 170px) 0 10px/100% 5px no-repeat"></span></td></tr>
<tr><td class="n"><span style="letter-spacing:0.34px">Network</span></td><td class="s"><span class="b down">Down</span></td><td class="d"><div>2025-10-08 <span style="letter-spacing:-0.45px">19:54:09</span></div></td><td class="m"><span class="blur" style="width:110px;background:linear-gradient(90deg,#e1e0dd 0px,#e1e0dd 5px,#d8d5ce 5px,#d8d5ce 10px,#cacac7 10px,#cacac7 15px,#eeebe4 15px,#eeebe4 20px,#d6d4cd 20px,#d6d4cd 25px,#e4e2de 25px,#e4e2de 30px,#e6e3da 30px,#e6e3da 35px,#cbcbc1 35px,#cbcbc1 40px,#c9c8bf 40px,#c9c8bf 45px,#eeece6 45px,#eeece6 50px,#d3cec7 50px,#d3cec7 55px,#cfc9bf 55px,#cfc9bf 60px,#efebe5 60px,#efebe5 65px,#dfd9d2 65px,#dfd9d2 70px,#cfcdc1 70px,#cfcdc1 75px,#e7e6e0 75px,#e7e6e0 80px,#e2ddd1 80px,#e2ddd1 85px,#cbcac1 85px,#cbcac1 90px,#ddd7d0 90px,#ddd7d0 95px,#e5e3d9 95px,#e5e3d9 100px,#f2ebe5 100px,#f2ebe5 105px,#dcd8d4 105px,#dcd8d4 110px) 0 0/100% 5px no-repeat,linear-gradient(90deg,#c7c6bc 0px,#c7c6bc 5px,#a29f9b 5px,#a29f9b 10px,#d0cbc9 10px,#d0cbc9 15px,#eae5df 15px,#eae5df 20px,#b8b1ae 20px,#b8b1ae 25px,#b0ada3 25px,#b0ada3 30px,#d8d4cb 30px,#d8d4cb 35px,#c4c2bf 35px,#c4c2bf 40px,#c3bebb 40px,#c3bebb 45px,#d9d8d5 45px,#d9d8d5 50px,#c4c4b9 50px,#c4c4b9 55px,#c0bdb1 55px,#c0bdb1 60px,#deddd5 60px,#deddd5 65px,#aaa3a1 65px,#aaa3a1 70px,#aaa5a0 70px,#aaa5a0 75px,#a6a69b 75px,#a6a69b 80px,#aaa498 80px,#aaa498 85px,#aba79b 85px,#aba79b 90px,#c0bdb5 90px,#c0bdb5 95px,#bfbcb4 95px,#bfbcb4 100px,#d9d9d2 100px,#d9d9d2 105px,#c8c5ba 105px,#c8c5ba 110px) 0 5px/100% 5px no-repeat,linear-gradient(90deg,#e9e5df 0px,#e9e5df 5px,#dfdcd3 5px,#dfdcd3 10px,#dcd6cc 10px,#dcd6cc 15px,#e9e6dc 15px,#e9e6dc 20px,#e6e6dd 20px,#e6e6dd 25px,#ede6e4 25px,#ede6e4 30px,#ececea 30px,#ececea 35px,#e4e3dd 35px,#e4e3dd 40px,#e8e3dd 40px,#e8e3dd 45px,#ece9e0 45px,#ece9e0 50px,#e6dfda 50px,#e6dfda 55px,#e4dfd5 55px,#e4dfd5 60px,#f1ece8 60px,#f1ece8 65px,#e5dfd5 65px,#e5dfd5 70px,#ded9d5 70px,#ded9d5 75px,#ebe5dc 75px,#ebe5dc 80px,#e6e1d8 80px,#e6e1d8 85px,#e9e3d9 85px,#e9e3d9 90px,#e3e1da 90px,#e3e1da 95px,#dadad8 95px,#dadad8 100px,#ece7e0 100px,#ece7e0 105px,#e2dbd2 105px,#e2dbd2 110px) 0 10px/100% 5px no-repeat"></span></td></tr>
<tr><td class="n"><span style="letter-spacing:-0.32px">PiHole (HTTP)</span></td><td class="s"><span class="b up">Up</span></td><td class="d"><div>2025-10-08 <span style="letter-spacing:-0.45px">19:53:47</span></div></td><td class="m"><span class="blur" style="width:170px;background:linear-gradient(90deg,#d7d4cd 0px,#d7d4cd 5px,#cbc6c0 5px,#cbc6c0 10px,#cac7c1 10px,#cac7c1 15px,#d9d6ce 15px,#d9d6ce 20px,#e4e4d8 20px,#e4e4d8 25px,#cac7c5 25px,#cac7c5 30px,#cfcbc3 30px,#cfcbc3 35px,#d0cfca 35px,#d0cfca 40px,#d2d0cb 40px,#d2d0cb 45px,#d6d5d3 45px,#d6d5d3 50px,#cecbc6 50px,#cecbc6 55px,#d1d1ce 55px,#d1d1ce 60px,#e8e6e3 60px,#e8e6e3 65px,#d2d0cd 65px,#d2d0cd 70px,#e2dedb 70px,#e2dedb 75px,#cac6bf 75px,#cac6bf 80px,#c8c8c5 80px,#c8c8c5 85px,#d1cec6 85px,#d1cec6 90px,#dad7d4 90px,#dad7d4 95px,#d1cfcd 95px,#d1cfcd 100px,#f2ebe5 100px,#f2ebe5 105px,#d0d0cb 105px,#d0d0cb 110px,#d6d6cd 110px,#d6d6cd 115px,#e4dddb 115px,#e4dddb 120px,#d5d0c6 120px,#d5d0c6 125px,#d4cec2 125px,#d4cec2 130px,#eae3e1 130px,#eae3e1 135px,#d9d2ca 135px,#d9d2ca 140px,#eae5dd 140px,#eae5dd 145px,#cac7c1 145px,#cac7c1 150px,#dad3ce 150px,#dad3ce 155px,#e8e6e3 155px,#e8e6e3 160px,#d4d3cb 160px,#d4d3cb 165px,#e4e2d7 165px,#e4e2d7 170px) 0 0/100% 5px no-repeat,linear-gradient(90deg,#bebdb6 0px,#bebdb6 5px,#a5a59a 5px,#a5a59a 10px,#afa9a3 10px,#afa9a3 15px,#cac8be 15px,#cac8be 20px,#e8e6e2 20px,#e8e6e2 25px,#c5c3be 25px,#c5c3be 30px,#a7a397 30px,#a7a397 35px,#c8c4bb 35px,#c8c4bb 40px,#b7b1ae 40px,#b7b1ae 45px,#b1b1af 45px,#b1b1af 50px,#cbc6bc 50px,#cbc6bc 55px,#a6a29a 55px,#a6a29a 60px,#d7d6cc 60px,#d7d6cc 65px,#c4c3b7 65px,#c4c3b7 70px,#c5c0b6 70px,#c5c0b6 75px,#adaba7 75px,#adaba7 80px,#b2aca8 80px,#b2aca8 85px,#d0cbc1 85px,#d0cbc1 90px,#afa9a1 90px,#afa9a1 95px,#c8c8c5 95px,#c8c8c5 100px,#e1e1df 100px,#e1e1df 105px,#a7a5a1 105px,#a7a5a1 110px,#a9a59a 110px,#a9a59a 115px,#c4bfb5 115px,#c4bfb5 120px,#adada3 120px,#adada3 125px,#a8a599 125px,#a8a599 130px,#b0aaa8 130px,#b0aaa8 135px,#aaa39c 135px,#aaa39c 140px,#d7d5d2 140px,#d7d5d2 145px,#a2a29a 145px,#a2a29a 150px,#a8a59b 150px,#a8a59b 155px,#c3beb8 155px,#c3beb8 160px,#cbcbc0 160px,#cbcbc0 165px,#bfbbb3 165px,#bfbbb3 170px) 0 5px/100% 5px no-repeat,linear-gradient(90deg,#e5dfdd 0px,#e5dfdd 5px,#eee8e5 5px,#eee8e5 10px,#e5e3e0 10px,#e5e3e0 15px,#e6e2da 15px,#e6e2da 20px,#eae4e2 20px,#eae4e2 25px,#dfdcd1 25px,#dfdcd1 30px,#ddddd2 30px,#ddddd2 35px,#dedcd6 35px,#dedcd6 40px,#e2e1df 40px,#e2e1df 45px,#d9d8d1 45px,#d9d8d1 50px,#dfd8d6 50px,#dfd8d6 55px,#dad7cb 55px,#dad7cb 60px,#eee9e5 60px,#eee9e5 65px,#d7d6d4 65px,#d7d6d4 70px,#ece6db 70px,#ece6db 75px,#ece6e2 75px,#ece6e2 80px,#ede8e3 80px,#ede8e3 85px,#e0ded7 85px,#e0ded7 90px,#eae4db 90px,#eae4db 95px,#dcd9d6 95px,#dcd9d6 100px,#eae8df 100px,#eae8df 105px,#e8e1d6 105px,#e8e1d6 110px,#ebe4df 110px,#ebe4df 115px,#dad6d1 115px,#dad6d1 120px,#ddd7cb 120px,#ddd7cb 125px,#e4e0d8 125px,#e4e0d8 130px,#e9e7dd 130px,#e9e7dd 135px,#e7e1d7 135px,#e7e1d7 140px,#ebe6e1 140px,#ebe6e1 145px,#eae5dd 145px,#eae5dd 150px,#e0e0d6 150px,#e0e0d6 155px,#dedcd1 155px,#dedcd1 160px,#e4e4e1 160px,#e4e4e1 165px,#e1dbd7 165px,#e1dbd7 170px) 0 10px/100% 5px no-repeat"></span></td></tr>
<tr><td class="n"><span style="letter-spacing:-0.04px">PiHole</span></td><td class="s"><span class="b down">Down</span></td><td class="d"><div>2025-10-08 <span style="letter-spacing:-0.45px">19:53:35</span></div></td><td class="m"><span class="blur" style="width:110px;background:linear-gradient(90deg,#d9d6cb 0px,#d9d6cb 5px,#d6d3c7 5px,#d6d3c7 10px,#dadad0 10px,#dadad0 15px,#d3ccc4 15px,#d3ccc4 20px,#dbdbd4 20px,#dbdbd4 25px,#e7e0d9 25px,#e7e0d9 30px,#eae5e1 30px,#eae5e1 35px,#d9d4cb 35px,#d9d4cb 40px,#e4ddda 40px,#e4ddda 45px,#e3e0de 45px,#e3e0de 50px,#e6e5dc 50px,#e6e5dc 55px,#f2ece2 55px,#f2ece2 60px,#e6e5e2 60px,#e6e5e2 65px,#dedcd1 65px,#dedcd1 70px,#e8e2dd 70px,#e8e2dd 75px,#ded7d0 75px,#ded7d0 80px,#d3d1cb 80px,#d3d1cb 85px,#dfdacf 85px,#dfdacf 90px,#dbdbd6 90px,#dbdbd6 95px,#cfcbbf 95px,#cfcbbf 100px,#dbdad5 100px,#dbdad5 105px,#d5d5cc 105px,#d5d5cc 110px) 0 0/100% 5px no-repeat,linear-gradient(90deg,#bbb8b4 0px,#bbb8b4 5px,#aca5a0 5px,#aca5a0 10px,#bab8b5 10px,#bab8b5 15px,#b2b0ad 15px,#b2b0ad 20px,#d3ccca 20px,#d3ccca 25px,#aea7a2 25px,#aea7a2 30px,#dfdcd6 30px,#dfdcd6 35px,#cdc6bb 35px,#cdc6bb 40px,#c2bfb5 40px,#c2bfb5 45px,#a6a195 45px,#a6a195 50px,#9e9e95 50px,#9e9e95 55px,#d9d7cc 55px,#d9d7cc 60px,#afa9a7 60px,#afa9a7 65px,#a5a19c 65px,#a5a19c 70px,#ede6df 70px,#ede6df 75px,#b5b4ae 75px,#b5b4ae 80px,#b4b3a9 80px,#b4b3a9 85px,#cbcbbf 85px,#cbcbbf 90px,#cecbc9 90px,#cecbc9 95px,#c9c4bf 95px,#c9c4bf 100px,#a8a79c 100px,#a8a79c 105px,#b7b0a7 105px,#b7b0a7 110px) 0 5px/100% 5px no-repeat,linear-gradient(90deg,#d9d9cf 0px,#d9d9cf 5px,#ddd9d0 5px,#ddd9d0 10px,#e3ded7 10px,#e3ded7 15px,#ede7e1 15px,#ede7e1 20px,#eae4df 20px,#eae4df 25px,#e6e1df 25px,#e6e1df 30px,#eeeade 30px,#eeeade 35px,#dfdcda 35px,#dfdcda 40px,#dfdbd7 40px,#dfdbd7 45px,#e7e0dd 45px,#e7e0dd 50px,#e2e0d7 50px,#e2e0d7 55px,#ece6e0 55px,#ece6e0 60px,#e4e2d8 60px,#e4e2d8 65px,#eae6e3 65px,#eae6e3 70px,#e5e4dc 70px,#e5e4dc 75px,#e4e4e0 75px,#e4e4e0 80px,#dadad5 80px,#dadad5 85px,#ebe7dd 85px,#ebe7dd 90px,#dedbd1 90px,#dedbd1 95px,#e5e5dc 95px,#e5e5dc 100px,#ded7cc 100px,#ded7cc 105px,#ded8cc 105px,#ded8cc 110px) 0 10px/100% 5px no-repeat"></span></td></tr>
<tr><td class="n"><span style="letter-spacing:-0.32px">PiHole (HTTP)</span></td><td class="s"><span class="b down">Down</span></td><td class="d"><div>2025-10-08 <span style="letter-spacing:-0.45px">19:52:47</span></div></td><td class="m"><span class="blur" style="width:260px;background:linear-gradient(90deg,#d5cfcc 0px,#d5cfcc 5px,#d0cfc8 5px,#d0cfc8 10px,#ddd7cf 10px,#ddd7cf 15px,#ccc9bd 15px,#ccc9bd 20px,#cec9bf 20px,#cec9bf 25px,#cdc8bd 25px,#cdc8bd 30px,#e0dad4 30px,#e0dad4 35px,#ecece5 35px,#ecece5 40px,#d7d0c8 40px,#d7d0c8 45px,#dbd7cf 45px,#dbd7cf 50px,#e6dfdb 50px,#e6dfdb 55px,#dedbd1 55px,#dedbd1 60px,#ceccc4 60px,#ceccc4 65px,#cbc7bf 65px,#cbc7bf 70px,#edece6 70px,#edece6 75px,#dad3cc 75px,#dad3cc 80px,#c8c7c2 80px,#c8c7c2 85px,#dddbd7 85px,#dddbd7 90px,#dbd4d0 90px,#dbd4d0 95px,#ebe6df 95px,#ebe6df 100px,#d3cfc4 100px,#d3cfc4 105px,#d1cbbf 105px,#d1cbbf 110px,#e8e4dc 110px,#e8e4dc 115px,#dcdcd7 115px,#dcdcd7 120px,#e5e5dc 120px,#e5e5dc 125px,#d7d0c5 125px,#d7d0c5 130px,#f0e9e2 130px,#f0e9e2 135px,#d0cdc4 135px,#d0cdc4 140px,#d8d3d1 140px,#d8d3d1 145px,#dcd8d0 145px,#dcd8d0 150px,#efebe2 150px,#efebe2 155px,#d9d8cd 155px,#d9d8cd 160px,#cdc8bd 160px,#cdc8bd 165px,#d6d0cc 165px,#d6d0cc 170px,#e0ddd5 170px,#e0ddd5 175px,#d7d0ca 175px,#d7d0ca 180px,#cacac8 180px,#cacac8 185px,#d3cdc7 185px,#d3cdc7 190px,#e6e4e0 190px,#e6e4e0 195px,#ebe8e1 195px,#ebe8e1 200px,#e4e3db 200px,#e4e3db 205px,#d5cec3 205px,#d5cec3 210px,#cfcfc9 210px,#cfcfc9 215px,#d0ceca 215px,#d0ceca 220px,#c9c8bd 220px,#c9c8bd 225px,#d8d8d5 225px,#d8d8d5 230px,#ded9d2 230px,#ded9d2 235px,#cac6c3 235px,#cac6c3 240px,#efebe4 240px,#efebe4 245px,#dedbd3 245px,#dedbd3 250px,#e0ddd8 250px,#e0ddd8 255px,#e8e1d8 255px,#e8e1d8 260px) 0 0/100% 5px no-repeat,linear-gradient(90deg,#b3b1a8 0px,#b3b1a8 5px,#adaca4 5px,#adaca4 10px,#b4aea7 10px,#b4aea7 15px,#b7b5ab 15px,#b7b5ab 20px,#b8b6b4 20px,#b8b6b4 25px,#b7b3ac 25px,#b7b3ac 30px,#a09e9c 30px,#a09e9c 35px,#e4ddd7 35px,#e4ddd7 40px,#a49f9d 40px,#a49f9d 45px,#cec9c0 45px,#cec9c0 50px,#a5a398 50px,#a5a398 55px,#d1cac0 55px,#d1cac0 60px,#aea89f 60px,#aea89f 65px,#b9b2a7 65px,#b9b2a7 70px,#eae3dc 70px,#eae3dc 75px,#c6c3bb 75px,#c6c3bb 80px,#cfc9c7 80px,#cfc9c7 85px,#cbcac2 85px,#cbcac2 90px,#bab4a9 90px,#bab4a9 95px,#e6e6dc 95px,#e6e6dc 100px,#b1b0a5 100px,#b1b0a5 105px,#b0aba3 105px,#b0aba3 110px,#ccccc3 110px,#ccccc3 115px,#b9b8b3 115px,#b9b8b3 120px,#c2c0bb 120px,#c2c0bb 125px,#cbc4bb 125px,#cbc4bb 130px,#e9e4db 130px,#e9e4db 135px,#c1bbb2 135px,#c1bbb2 140px,#c9c6c2 140px,#c9c6c2 145px,#adada5 145px,#adada5 150px,#ebe6e0 150px,#ebe6e0 155px,#c7c4bd 155px,#c7c4bd 160px,#bebdb7 160px,#bebdb7 165px,#acaca6 165px,#acaca6 170px,#a09f93 170px,#a09f93 175px,#b2aca3 175px,#b2aca3 180px,#bcb6ad 180px,#bcb6ad 185px,#cfccc5 185px,#cfccc5 190px,#bcb8b1 190px,#bcb8b1 195px,#e0ded6 195px,#e0ded6 200px,#ababa7 200px,#ababa7 205px,#a7a39f 205px,#a7a39f 210px,#bdb6b1 210px,#bdb6b1 215px,#afaea4 215px,#afaea4 220px,#cec7bb 220px,#cec7bb 225px,#cac8c6 225px,#cac8c6 230px,#b8b4b0 230px,#b8b4b0 235px,#a1a19a 235px,#a1a19a 240px,#e1dcd7 240px,#e1dcd7 245px,#cdc7c2 245px,#cdc7c2 250px,#a1a096 250px,#a1a096 255px,#d0cabe 255px,#d0cabe 260px) 0 5px/100% 5px no-repeat,linear-gradient(90deg,#ede7e5 0px,#ede7e5 5px,#ece6db 5px,#ece6db 10px,#eee8e1 10px,#eee8e1 15px,#e3ddd2 15px,#e3ddd2 20px,#dbdbd0 20px,#dbdbd0 25px,#e1dbd0 25px,#e1dbd0 30px,#e1dad5 30px,#e1dad5 35px,#ebe8e2 35px,#ebe8e2 40px,#d9d9d6 40px,#d9d9d6 45px,#e3dfd8 45px,#e3dfd8 50px,#e8e6dd 50px,#e8e6dd 55px,#e0dfd8 55px,#e0dfd8 60px,#ddd8d1 60px,#ddd8d1 65px,#e9e7e1 65px,#e9e7e1 70px,#eae4d9 70px,#eae4d9 75px,#e6e5e1 75px,#e6e5e1 80px,#dcd7cb 80px,#dcd7cb 85px,#e1e0da 85px,#e1e0da 90px,#dbdad6 90px,#dbdad6 95px,#f0eae8 95px,#f0eae8 100px,#ddd8d6 100px,#ddd8d6 105px,#e9e4da 105px,#e9e4da 110px,#ede6de 110px,#ede6de 115px,#e5dfd4 115px,#e5dfd4 120px,#ece7e0 120px,#ece7e0 125px,#e6e0d8 125px,#e6e0d8 130px,#e8e7e0 130px,#e8e7e0 135px,#e3dcd7 135px,#e3dcd7 140px,#e0dfd4 140px,#e0dfd4 145px,#deddd2 145px,#deddd2 150px,#eeebe6 150px,#eeebe6 155px,#e4ddd8 155px,#e4ddd8 160px,#ebe7e0 160px,#ebe7e0 165px,#e4ded5 165px,#e4ded5 170px,#e3dcd0 170px,#e3dcd0 175px,#e6e5dd 175px,#e6e5dd 180px,#e9e6e0 180px,#e9e6e0 185px,#ede6db 185px,#ede6db 190px,#dad7cb 190px,#dad7cb 195px,#f2ece3 195px,#f2ece3 200px,#e5ded8 200px,#e5ded8 205px,#dfdfda 205px,#dfdfda 210px,#eae5e2 210px,#eae5e2 215px,#e8e7e4 215px,#e8e7e4 220px,#e0d9d0 220px,#e0d9d0 225px,#e4e3d8 225px,#e4e3d8 230px,#e3e0d6 230px,#e3e0d6 235px,#e9e8df 235px,#e9e8df 240px,#e9e5dc 240px,#e9e5dc 245px,#e6e6dc 245px,#e6e6dc 250px,#e8e8e3 250px,#e8e8e3 255px,#e3dcd8 255px,#e3dcd8 260px) 0 10px/100% 5px no-repeat"></span></td></tr>
<tr><td class="n"><span style="letter-spacing:-0.12px">OMR Cloud (ICMP)</span></td><td class="s"><span class="b up">Up</span></td><td class="d"><div>2025-10-07 <span style="letter-spacing:-0.45px">00:45:47</span></div></td><td class="m"></td></tr>
<tr><td class="n"><span style="letter-spacing:-0.12px">OMR Cloud (ICMP)</span></td><td class="s"><span class="b mt">Maintenance</span></td><td class="d"><div>2025-10-07 <span style="letter-spacing:-0.45px">00:43:47</span></div></td><td class="m"><span class="blur" style="width:175px;background:linear-gradient(90deg,#d0cdc2 0px,#d0cdc2 5px,#cac9c2 5px,#cac9c2 10px,#d6d0cb 10px,#d6d0cb 15px,#e3e2de 15px,#e3e2de 20px,#d6d1c8 20px,#d6d1c8 25px,#e2dbd1 25px,#e2dbd1 30px,#cac6bf 30px,#cac6bf 35px,#cbcbc9 35px,#cbcbc9 40px,#d5cfcb 40px,#d5cfcb 45px,#e5e3e0 45px,#e5e3e0 50px,#ebe6db 50px,#ebe6db 55px,#cbcac6 55px,#cbcac6 60px,#f3ece8 60px,#f3ece8 65px,#d2cdc5 65px,#d2cdc5 70px,#cfc8c4 70px,#cfc8c4 75px,#e8e8e2 75px,#e8e8e2 80px,#ccccc6 80px,#ccccc6 85px,#d5d3cf 85px,#d5d3cf 90px,#dcd9d2 90px,#dcd9d2 95px,#d5d4cc 95px,#d5d4cc 100px,#d1ccc6 100px,#d1ccc6 105px,#dad8d0 105px,#dad8d0 110px,#eeeadf 110px,#eeeadf 115px,#cdc9c6 115px,#cdc9c6 120px,#cecec8 120px,#cecec8 125px,#e3ddda 125px,#e3ddda 130px,#dedad7 130px,#dedad7 135px,#dfded5 135px,#dfded5 140px,#cdc7c3 140px,#cdc7c3 145px,#e6e5dd 145px,#e6e5dd 150px,#cecac0 150px,#cecac0 155px,#d1ccc4 155px,#d1ccc4 160px,#e3e0d8 160px,#e3e0d8 165px,#c9c7bf 165px,#c9c7bf 170px,#e1dcda 170px,#e1dcda 175px) 0 0/100% 5px no-repeat,linear-gradient(90deg,#a39f93 0px,#a39f93 5px,#a2a094 5px,#a2a094 10px,#b1afa5 10px,#b1afa5 15px,#dcd7d3 15px,#dcd7d3 20px,#c8c7c1 20px,#c8c7c1 25px,#c9c5bd 25px,#c9c5bd 30px,#c4bdbb 30px,#c4bdbb 35px,#b8b1a6 35px,#b8b1a6 40px,#b4b1a7 40px,#b4b1a7 45px,#c0c0bb 45px,#c0c0bb 50px,#a6a09d 50px,#a6a09d 55px,#aca7a3 55px,#aca7a3 60px,#e0e0d8 60px,#e0e0d8 65px,#a9a298 65px,#a9a298 70px,#c1c0b4 70px,#c1c0b4 75px,#d6d6d3 75px,#d6d6d3 80px,#d0cbc6 80px,#d0cbc6 85px,#bcbbb7 85px,#bcbbb7 90px,#aaa69d 90px,#aaa69d 95px,#cfc9bd 95px,#cfc9bd 100px,#a8a39b 100px,#a8a39b 105px,#cdcbc4 105px,#cdcbc4 110px,#d8d6ca 110px,#d8d6ca 115px,#bdbbb1 115px,#bdbbb1 120px,#bdbcb5 120px,#bdbcb5 125px,#ccccc7 125px,#ccccc7 130px,#bab9b5 130px,#bab9b5 135px,#c9c6c1 135px,#c9c6c1 140px,#ccc6bb 140px,#ccc6bb 145px,#e0d9d1 145px,#e0d9d1 150px,#c8c5be 150px,#c8c5be 155px,#b6b6ab 155px,#b6b6ab 160px,#c2bcba 160px,#c2bcba 165px,#aba49e 165px,#aba49e 170px,#beb7ae 170px,#beb7ae 175px) 0 5px/100% 5px no-repeat,linear-gradient(90deg,#ddd7d4 0px,#ddd7d4 5px,#e7e2dd 5px,#e7e2dd 10px,#e2e0dd 10px,#e2e0dd 15px,#ede8e1 15px,#ede8e1 20px,#e9e6df 20px,#e9e6df 25px,#e8e8dd 25px,#e8e8dd 30px,#e1dad6 30px,#e1dad6 35px,#e2e2d7 35px,#e2e2d7 40px,#dbd7cf 40px,#dbd7cf 45px,#dfdbd8 45px,#dfdbd8 50px,#dbd6d3 50px,#dbd6d3 55px,#e7e1da 55px,#e7e1da 60px,#eae9e5 60px,#eae9e5 65px,#e8e4e0 65px,#e8e4e0 70px,#dfdacf 70px,#dfdacf 75px,#e9e4d9 75px,#e9e4d9 80px,#e5e4da 80px,#e5e4da 85px,#dfd9d2 85px,#dfd9d2 90px,#eae3db 90px,#eae3db 95px,#dcdacf 95px,#dcdacf 100px,#dad7d3 100px,#dad7d3 105px,#e3ded2 105px,#e3ded2 110px,#eae5df 110px,#eae5df 115px,#e9e4d9 115px,#e9e4d9 120px,#e4deda 120px,#e4deda 125px,#dedbd3 125px,#dedbd3 130px,#e8e6e2 130px,#e8e6e2 135px,#dfdbd9 135px,#dfdbd9 140px,#ded7cf 140px,#ded7cf 145px,#edece3 145px,#edece3 150px,#e0e0dc 150px,#e0e0dc 155px,#ece7e3 155px,#ece7e3 160px,#dbd9d1 160px,#dbd9d1 165px,#e8e1de 165px,#e8e1de 170px,#ebe8e0 170px,#ebe8e0 175px) 0 10px/100% 5px no-repeat"></span></td></tr>
<tr><td class="n"><span style="letter-spacing:-0.1px">Joplin admin (HTTP)</span></td><td class="s"><span class="b up">Up</span></td><td class="d"><div>2025-10-07 <span style="letter-spacing:-0.45px">00:28:14</span></div></td><td class="m"><span class="blur" style="width:170px;background:linear-gradient(90deg,#dfdbd8 0px,#dfdbd8 5px,#d7d6cb 5px,#d7d6cb 10px,#ccc6ba 10px,#ccc6ba 15px,#e4ded5 15px,#e4ded5 20px,#e3e2d7 20px,#e3e2d7 25px,#e3e3dc 25px,#e3e3dc 30px,#dcd9d5 30px,#dcd9d5 35px,#d0cac7 35px,#d0cac7 40px,#d4d4cf 40px,#d4d4cf 45px,#e4e1d6 45px,#e4e1d6 50px,#cbc9c7 50px,#cbc9c7 55px,#efebe6 55px,#efebe6 60px,#ddd6ce 60px,#ddd6ce 65px,#d7d1c6 65px,#d7d1c6 70px,#d5d1c5 70px,#d5d1c5 75px,#e3dcd2 75px,#e3dcd2 80px,#dbd5cf 80px,#dbd5cf 85px,#e8e6e4 85px,#e8e6e4 90px,#d6d1c6 90px,#d6d1c6 95px,#ccc9c1 95px,#ccc9c1 100px,#e9e9e2 100px,#e9e9e2 105px,#cfcdc9 105px,#cfcdc9 110px,#cecac5 110px,#cecac5 115px,#cfccc4 115px,#cfccc4 120px,#d7d2d0 120px,#d7d2d0 125px,#dddad7 125px,#dddad7 130px,#f0ebe3 130px,#f0ebe3 135px,#e8e3d8 135px,#e8e3d8 140px,#d9d5d1 140px,#d9d5d1 145px,#e4dfd3 145px,#e4dfd3 150px,#eae3e0 150px,#eae3e0 155px,#f1ece3 155px,#f1ece3 160px,#cecac1 160px,#cecac1 165px,#d7d1cb 165px,#d7d1cb 170px) 0 0/100% 5px no-repeat,linear-gradient(90deg,#c5bfb6 0px,#c5bfb6 5px,#bfb9ad 5px,#bfb9ad 10px,#a7a29e 10px,#a7a29e 15px,#b5aea5 15px,#b5aea5 20px,#c1bab8 20px,#c1bab8 25px,#dbdbd3 25px,#dbdbd3 30px,#bfbbb1 30px,#bfbbb1 35px,#bebeb8 35px,#bebeb8 40px,#beb7b5 40px,#beb7b5 45px,#a2a09c 45px,#a2a09c 50px,#a8a49a 50px,#a8a49a 55px,#e7e0da 55px,#e7e0da 60px,#bcbab1 60px,#bcbab1 65px,#c9c8c6 65px,#c9c8c6 70px,#bab9b4 70px,#bab9b4 75px,#a29e9c 75px,#a29e9c 80px,#bcb5ae 80px,#bcb5ae 85px,#a5a499 85px,#a5a499 90px,#a7a399 90px,#a7a399 95px,#b5b4ab 95px,#b5b4ab 100px,#e1e0d7 100px,#e1e0d7 105px,#b0afaa 105px,#b0afaa 110px,#b7b4ae 110px,#b7b4ae 115px,#bfb9ad 115px,#bfb9ad 120px,#a4a498 120px,#a4a498 125px,#a7a6a1 125px,#a7a6a1 130px,#e6e1db 130px,#e6e1db 135px,#a5a099 135px,#a5a099 140px,#cfc9c1 140px,#cfc9c1 145px,#bab5b0 145px,#bab5b0 150px,#ccc5be 150px,#ccc5be 155px,#e0d9cf 155px,#e0d9cf 160px,#bab5a9 160px,#bab5a9 165px,#cbc9c1 165px,#cbc9c1 170px) 0 5px/100% 5px no-repeat,linear-gradient(90deg,#eee7e1 0px,#eee7e1 5px,#e3e1d6 5px,#e3e1d6 10px,#e7e2dd 10px,#e7e2dd 15px,#e8e7e2 15px,#e8e7e2 20px,#e3ddd2 20px,#e3ddd2 25px,#e8e6e3 25px,#e8e6e3 30px,#dbd7cf 30px,#dbd7cf 35px,#e2ddd6 35px,#e2ddd6 40px,#e7e6e4 40px,#e7e6e4 45px,#e7e2e0 45px,#e7e2e0 50px,#e9e3d8 50px,#e9e3d8 55px,#f0ecea 55px,#f0ecea 60px,#e4e1da 60px,#e4e1da 65px,#eae4e0 65px,#eae4e0 70px,#ddd6ce 70px,#ddd6ce 75px,#e4ded3 75px,#e4ded3 80px,#e5e1d6 80px,#e5e1d6 85px,#e8e2e0 85px,#e8e2e0 90px,#dbd9d7 90px,#dbd9d7 95px,#ebe4db 95px,#ebe4db 100px,#efebe9 100px,#efebe9 105px,#d9d9d0 105px,#d9d9d0 110px,#ded7d0 110px,#ded7d0 115px,#e5e5da 115px,#e5e5da 120px,#e9e6da 120px,#e9e6da 125px,#e2dfd7 125px,#e2dfd7 130px,#e9e5e2 130px,#e9e5e2 135px,#e7e3de 135px,#e7e3de 140px,#dcdcd0 140px,#dcdcd0 145px,#e2ded5 145px,#e2ded5 150px,#dbdbcf 150px,#dbdbcf 155px,#ebe4d8 155px,#ebe4d8 160px,#ece6e3 160px,#ece6e3 165px,#d9d8d1 165px,#d9d8d1 170px) 0 10px/100% 5px no-repeat"></span></td></tr>
<tr><td class="n"><span style="letter-spacing:-0.28px">Joplin (HTTP)</span></td><td class="s"><span class="b up">Up</span></td><td class="d"><div>2025-10-07 <span style="letter-spacing:-0.45px">00:23:48</span></div></td><td class="m"><span class="blur" style="width:170px;background:linear-gradient(90deg,#d2d1c8 0px,#d2d1c8 5px,#c7c7c3 5px,#c7c7c3 10px,#e5dfd6 10px,#e5dfd6 15px,#d5cec2 15px,#d5cec2 20px,#e6e1dd 20px,#e6e1dd 25px,#e4e2de 25px,#e4e2de 30px,#ccc8bc 30px,#ccc8bc 35px,#cdcdc6 35px,#cdcdc6 40px,#d7d1cd 40px,#d7d1cd 45px,#cfccc4 45px,#cfccc4 50px,#e3e2d9 50px,#e3e2d9 55px,#e5e3dc 55px,#e5e3dc 60px,#dedbd7 60px,#dedbd7 65px,#d7d6cb 65px,#d7d6cb 70px,#e5e2dd 70px,#e5e2dd 75px,#e3e2dd 75px,#e3e2dd 80px,#cccac5 80px,#cccac5 85px,#cac9be 85px,#cac9be 90px,#cdcbc5 90px,#cdcbc5 95px,#e1e1d9 95px,#e1e1d9 100px,#efece6 100px,#efece6 105px,#d0c9bd 105px,#d0c9bd 110px,#e7e6dd 110px,#e7e6dd 115px,#e2dcda 115px,#e2dcda 120px,#d2cec4 120px,#d2cec4 125px,#e3e1d5 125px,#e3e1d5 130px,#ebe9e0 130px,#ebe9e0 135px,#e2ded8 135px,#e2ded8 140px,#e4e1dc 140px,#e4e1dc 145px,#ded8cc 145px,#ded8cc 150px,#d8d4ce 150px,#d8d4ce 155px,#ece6df 155px,#ece6df 160px,#e7e4dd 160px,#e7e4dd 165px,#e1ddd9 165px,#e1ddd9 170px) 0 0/100% 5px no-repeat,linear-gradient(90deg,#babaae 0px,#babaae 5px,#bdbaae 5px,#bdbaae 10px,#b4aea9 10px,#b4aea9 15px,#a8a29a 15px,#a8a29a 20px,#b9b4b0 20px,#b9b4b0 25px,#ece5d9 25px,#ece5d9 30px,#aba59f 30px,#aba59f 35px,#aeaca2 35px,#aeaca2 40px,#bfb8b4 40px,#bfb8b4 45px,#b8b1ae 45px,#b8b1ae 50px,#b1b1a5 50px,#b1b1a5 55px,#e0ded2 55px,#e0ded2 60px,#bab4ad 60px,#bab4ad 65px,#d2ccc1 65px,#d2ccc1 70px,#c8c2bd 70px,#c8c2bd 75px,#aca7a0 75px,#aca7a0 80px,#bfbab8 80px,#bfbab8 85px,#c2bbb1 85px,#c2bbb1 90px,#bfbcba 90px,#bfbcba 95px,#a4a297 95px,#a4a297 100px,#e5e5dc 100px,#e5e5dc 105px,#c4beb7 105px,#c4beb7 110px,#b0aaa2 110px,#b0aaa2 115px,#b9b3ac 115px,#b9b3ac 120px,#b2ab9f 120px,#b2ab9f 125px,#ccccc5 125px,#ccccc5 130px,#e9e4da 130px,#e9e4da 135px,#c0bdb5 135px,#c0bdb5 140px,#bcbbb0 140px,#bcbbb0 145px,#ccc9c4 145px,#ccc9c4 150px,#b2aea8 150px,#b2aea8 155px,#c4c4c2 155px,#c4c4c2 160px,#b0ada7 160px,#b0ada7 165px,#b3b1a7 165px,#b3b1a7 170px) 0 5px/100% 5px no-repeat,linear-gradient(90deg,#e1dbd8 0px,#e1dbd8 5px,#dedbcf 5px,#dedbcf 10px,#e7e1de 10px,#e7e1de 15px,#e4dfd4 15px,#e4dfd4 20px,#dddbd3 20px,#dddbd3 25px,#ebe7e2 25px,#ebe7e2 30px,#dfdddb 30px,#dfdddb 35px,#e9e7dd 35px,#e9e7dd 40px,#e8e5e0 40px,#e8e5e0 45px,#e2dcd9 45px,#e2dcd9 50px,#eae7e0 50px,#eae7e0 55px,#ebeae5 55px,#ebeae5 60px,#ebe6dd 60px,#ebe6dd 65px,#dfdcd8 65px,#dfdcd8 70px,#ece5e1 70px,#ece5e1 75px,#e2dfdd 75px,#e2dfdd 80px,#dcd6cb 80px,#dcd6cb 85px,#e2dcd4 85px,#e2dcd4 90px,#e4ded5 90px,#e4ded5 95px,#e8e5e1 95px,#e8e5e1 100px,#e5e4dd 100px,#e5e4dd 105px,#e5e1d9 105px,#e5e1d9 110px,#e7e1d7 110px,#e7e1d7 115px,#dfddda 115px,#dfddda 120px,#e7e3db 120px,#e7e3db 125px,#e0dddb 125px,#e0dddb 130px,#e9e7df 130px,#e9e7df 135px,#ece7e2 135px,#ece7e2 140px,#d9d6cc 140px,#d9d6cc 145px,#eae4e2 145px,#eae4e2 150px,#dcdad6 150px,#dcdad6 155px,#e1dbd2 155px,#e1dbd2 160px,#dad7cc 160px,#dad7cc 165px,#dfdad1 165px,#dfdad1 170px) 0 10px/100% 5px no-repeat"></span></td></tr>
<tr><td class="n"><span style="letter-spacing:-0.43px">Systems</span></td><td class="s"><span class="b up">Up</span></td><td class="d"><div>2025-10-07 <span style="letter-spacing:-0.45px">00:16:57</span></div></td><td class="m"><span class="blur" style="width:170px;background:linear-gradient(90deg,#e2e0dd 0px,#e2e0dd 5px,#e6e0d4 5px,#e6e0d4 10px,#cfcfcb 10px,#cfcfcb 15px,#dfdcd7 15px,#dfdcd7 20px,#d7d0cc 20px,#d7d0cc 25px,#e4e2d8 25px,#e4e2d8 30px,#e7e1d9 30px,#e7e1d9 35px,#dcdbd7 35px,#dcdbd7 40px,#e9e6e0 40px,#e9e6e0 45px,#d7d7cb 45px,#d7d7cb 50px,#d4ceca 50px,#d4ceca 55px,#ddd9d4 55px,#ddd9d4 60px,#e6e6dc 60px,#e6e6dc 65px,#cfccc4 65px,#cfccc4 70px,#dad6d2 70px,#dad6d2 75px,#e9e2db 75px,#e9e2db 80px,#e2e0d7 80px,#e2e0d7 85px,#d9d8d5 85px,#d9d8d5 90px,#f2ece6 90px,#f2ece6 95px,#e6e3d7 95px,#e6e3d7 100px,#e1e0d9 100px,#e1e0d9 105px,#dbd4c9 105px,#dbd4c9 110px,#ccc8bc 110px,#ccc8bc 115px,#ecebe1 115px,#ecebe1 120px,#c9c8c0 120px,#c9c8c0 125px,#e2e0d6 125px,#e2e0d6 130px,#e9e5de 130px,#e9e5de 135px,#e1e0dd 135px,#e1e0dd 140px,#e3dfd5 140px,#e3dfd5 145px,#dfd9d5 145px,#dfd9d5 150px,#e5e4dc 150px,#e5e4dc 155px,#e1dcda 155px,#e1dcda 160px,#f1ebe0 160px,#f1ebe0 165px,#e3e0d6 165px,#e3e0d6 170px) 0 0/100% 5px no-repeat,linear-gradient(90deg,#a59f94 0px,#a59f94 5px,#acaa9f 5px,#acaa9f 10px,#b4b2ab 10px,#b4b2ab 15px,#c2bfb7 15px,#c2bfb7 20px,#a7a19d 20px,#a7a19d 25px,#e1dbd0 25px,#e1dbd0 30px,#aca9a7 30px,#aca9a7 35px,#b9b4a8 35px,#b9b4a8 40px,#e6e0d9 40px,#e6e0d9 45px,#b5b0aa 45px,#b5b0aa 50px,#c1bdb4 50px,#c1bdb4 55px,#b1b1ac 55px,#b1b1ac 60px,#babab3 60px,#babab3 65px,#c7c6c3 65px,#c7c6c3 70px,#c9c4ba 70px,#c9c4ba 75px,#d5d5d2 75px,#d5d5d2 80px,#a5a09a 80px,#a5a09a 85px,#bfbeb9 85px,#bfbeb9 90px,#e8e1de 90px,#e8e1de 95px,#b8b1ae 95px,#b8b1ae 100px,#9e9e93 100px,#9e9e93 105px,#d0c9bf 105px,#d0c9bf 110px,#bab5b0 110px,#bab5b0 115px,#e7e6e0 115px,#e7e6e0 120px,#a9a69e 120px,#a9a69e 125px,#c0bbb3 125px,#c0bbb3 130px,#bab3ad 130px,#bab3ad 135px,#ada8a2 135px,#ada8a2 140px,#c7c3bd 140px,#c7c3bd 145px,#aaa99e 145px,#aaa99e 150px,#bdb9b2 150px,#bdb9b2 155px,#9f9e93 155px,#9f9e93 160px,#e6e2e0 160px,#e6e2e0 165px,#b6afa5 165px,#b6afa5 170px) 0 5px/100% 5px no-repeat,linear-gradient(90deg,#e5e1d5 0px,#e5e1d5 5px,#e3dfdc 5px,#e3dfdc 10px,#e2e0dd 10px,#e2e0dd 15px,#e1ded3 15px,#e1ded3 20px,#e7e2dd 20px,#e7e2dd 25px,#e9e9e7 25px,#e9e9e7 30px,#e7e7e3 30px,#e7e7e3 35px,#ede7e5 35px,#ede7e5 40px,#eee7e0 40px,#eee7e0 45px,#ddd6d1 45px,#ddd6d1 50px,#ece5e1 50px,#ece5e1 55px,#ded7d0 55px,#ded7d0 60px,#dbd8d0 60px,#dbd8d0 65px,#dad8cc 65px,#dad8cc 70px,#e2ddd4 70px,#e2ddd4 75px,#efece5 75px,#efece5 80px,#e0e0d8 80px,#e0e0d8 85px,#dcd9ce 85px,#dcd9ce 90px,#ede8de 90px,#ede8de 95px,#e4e2d7 95px,#e4e2d7 100px,#e8e3d7 100px,#e8e3d7 105px,#e5e0d4 105px,#e5e0d4 110px,#e6e3db 110px,#e6e3db 115px,#ebe5de 115px,#ebe5de 120px,#e4e1d7 120px,#e4e1d7 125px,#dad9cf 125px,#dad9cf 130px,#d9d7d0 130px,#d9d7d0 135px,#e3dfd9 135px,#e3dfd9 140px,#ddd8ce 140px,#ddd8ce 145px,#eae3d9 145px,#eae3d9 150px,#ede7e5 150px,#ede7e5 155px,#eee7db 155px,#eee7db 160px,#f1ece9 160px,#f1ece9 165px,#dedbd7 165px,#dedbd7 170px) 0 10px/100% 5px no-repeat"></span></td></tr>
<tr><td class="n"><span style="letter-spacing:0.16px">Horilla</span></td><td class="s"><span class="b up">Up</span></td><td class="d"><div>2025-10-07 <span style="letter-spacing:-0.45px">00:16:56</span></div></td><td class="m"><span class="blur" style="width:170px;background:linear-gradient(90deg,#d0cdc3 0px,#d0cdc3 5px,#e6e2d7 5px,#e6e2d7 10px,#cdc7c1 10px,#cdc7c1 15px,#edece2 15px,#edece2 20px,#d8d6ce 20px,#d8d6ce 25px,#e0ddd6 25px,#e0ddd6 30px,#e9e2df 30px,#e9e2df 35px,#dcd6d4 35px,#dcd6d4 40px,#e4e0d8 40px,#e4e0d8 45px,#dddad1 45px,#dddad1 50px,#dbdad5 50px,#dbdad5 55px,#eae5e3 55px,#eae5e3 60px,#d9d7d3 60px,#d9d7d3 65px,#cfccc6 65px,#cfccc6 70px,#ede7df 70px,#ede7df 75px,#cccac8 75px,#cccac8 80px,#d3d3c9 80px,#d3d3c9 85px,#ebebe5 85px,#ebebe5 90px,#d8d8d0 90px,#d8d8d0 95px,#e2dbd3 95px,#e2dbd3 100px,#d8d3d0 100px,#d8d3d0 105px,#ddd6ca 105px,#ddd6ca 110px,#d1cabe 110px,#d1cabe 115px,#e4ddd4 115px,#e4ddd4 120px,#efece6 120px,#efece6 125px,#e3dcd0 125px,#e3dcd0 130px,#d8d4ce 130px,#d8d4ce 135px,#d7d1c9 135px,#d7d1c9 140px,#d7d1cd 140px,#d7d1cd 145px,#ddd6cc 145px,#ddd6cc 150px,#ecebe8 150px,#ecebe8 155px,#d5d2d0 155px,#d5d2d0 160px,#cac8bf 160px,#cac8bf 165px,#cec8c6 165px,#cec8c6 170px) 0 0/100% 5px no-repeat,linear-gradient(90deg,#c4c3b8 0px,#c4c3b8 5px,#a2a09e 5px,#a2a09e 10px,#c3beb3 10px,#c3beb3 15px,#e6e2db 15px,#e6e2db 20px,#aca69f 20px,#aca69f 25px,#a8a39d 25px,#a8a39d 30px,#e1dbd9 30px,#e1dbd9 35px,#bab7b1 35px,#bab7b1 40px,#b8b6b4 40px,#b8b6b4 45px,#a6a39b 45px,#a6a39b 50px,#c3c0bd 50px,#c3c0bd 55px,#e4e0d8 55px,#e4e0d8 60px,#c1bcba 60px,#c1bcba 65px,#a2a096 65px,#a2a096 70px,#e4e0dc 70px,#e4e0dc 75px,#a3a095 75px,#a3a095 80px,#c7c7c3 80px,#c7c7c3 85px,#e0ddd2 85px,#e0ddd2 90px,#d1cbc0 90px,#d1cbc0 95px,#b0aba8 95px,#b0aba8 100px,#ada89c 100px,#ada89c 105px,#cbc7c1 105px,#cbc7c1 110px,#bebcba 110px,#bebcba 115px,#c7c6c1 115px,#c7c6c1 120px,#dbd7cf 120px,#dbd7cf 125px,#c1beb7 125px,#c1beb7 130px,#bbb6ae 130px,#bbb6ae 135px,#c5beb4 135px,#c5beb4 140px,#cec8c5 140px,#cec8c5 145px,#b3afa5 145px,#b3afa5 150px,#e1dfda 150px,#e1dfda 155px,#b1aeab 155px,#b1aeab 160px,#a8a49a 160px,#a8a49a 165px,#b4b2a6 165px,#b4b2a6 170px) 0 5px/100% 5px no-repeat,linear-gradient(90deg,#ebe4da 0px,#ebe4da 5px,#e8e6df 5px,#e8e6df 10px,#e2ddd9 10px,#e2ddd9 15px,#ede9e4 15px,#ede9e4 20px,#dedbd3 20px,#dedbd3 25px,#e9e8e4 25px,#e9e8e4 30px,#efece7 30px,#efece7 35px,#e6e5e2 35px,#e6e5e2 40px,#e4ddd2 40px,#e4ddd2 45px,#d9d6ce 45px,#d9d6ce 50px,#eee7e1 50px,#eee7e1 55px,#ebe6e1 55px,#ebe6e1 60px,#d8d8d0 60px,#d8d8d0 65px,#e5dfd5 65px,#e5dfd5 70px,#ede6df 70px,#ede6df 75px,#ddddd8 75px,#ddddd8 80px,#e5e4d9 80px,#e5e4d9 85px,#eae5de 85px,#eae5de 90px,#e3ddd5 90px,#e3ddd5 95px,#e3ded8 95px,#e3ded8 100px,#e5e3d9 100px,#e5e3d9 105px,#ddd9ce 105px,#ddd9ce 110px,#e6dfd5 110px,#e6dfd5 115px,#ebe4d9 115px,#ebe4d9 120px,#eae8e2 120px,#eae8e2 125px,#e7e6e0 125px,#e7e6e0 130px,#ece6de 130px,#ece6de 135px,#ddddd7 135px,#ddddd7 140px,#e6e2e0 140px,#e6e2e0 145px,#e6e0de 145px,#e6e0de 150px,#eceae8 150px,#eceae8 155px,#ede6e4 155px,#ede6e4 160px,#dfded7 160px,#dfded7 165px,#e4e2dd 165px,#e4e2dd 170px) 0 10px/100% 5px no-repeat"></span></td></tr>
<tr><td class="n"><span style="letter-spacing:-0.05px">Horilla (DB)</span></td><td class="s"><span class="b up">Up</span></td><td class="d"><div>2025-10-07 <span style="letter-spacing:-0.45px">00:16:52</span></div></td><td class="m"></td></tr>
<tr><td class="n"><span style="letter-spacing:-0.43px">Systems</span></td><td class="s"><span class="b down">Down</span></td><td class="d"><div>2025-10-07 <span style="letter-spacing:-0.45px">00:05:57</span></div></td><td class="m"><span class="blur" style="width:110px;background:linear-gradient(90deg,#ede6df 0px,#ede6df 5px,#d4d3c8 5px,#d4d3c8 10px,#d0cbc8 10px,#d0cbc8 15px,#e2e0dd 15px,#e2e0dd 20px,#ece5d9 20px,#ece5d9 25px,#dad3ce 25px,#dad3ce 30px,#e6e0d4 30px,#e6e0d4 35px,#e1ded5 35px,#e1ded5 40px,#d7d3cf 40px,#d7d3cf 45px,#dcd9d6 45px,#dcd9d6 50px,#e5ded8 50px,#e5ded8 55px,#e5dfd4 55px,#e5dfd4 60px,#eee8e1 60px,#eee8e1 65px,#e9e3de 65px,#e9e3de 70px,#d6d4cb 70px,#d6d4cb 75px,#e7e4d8 75px,#e7e4d8 80px,#e7e6dd 80px,#e7e6dd 85px,#cfcdc3 85px,#cfcdc3 90px,#ebe6e0 90px,#ebe6e0 95px,#edece1 95px,#edece1 100px,#e4dfd7 100px,#e4dfd7 105px,#d2cbc6 105px,#d2cbc6 110px) 0 0/100% 5px no-repeat,linear-gradient(90deg,#cac5b9 0px,#cac5b9 5px,#aca69d 5px,#aca69d 10px,#bbb5ab 10px,#bbb5ab 15px,#cdc8bc 15px,#cdc8bc 20px,#e6dfd6 20px,#e6dfd6 25px,#cbc5bd 25px,#cbc5bd 30px,#c9c2bf 30px,#c9c2bf 35px,#a59e96 35px,#a59e96 40px,#b2b0ad 40px,#b2b0ad 45px,#c6bfb6 45px,#c6bfb6 50px,#cec8c3 50px,#cec8c3 55px,#acaca1 55px,#acaca1 60px,#ebe5de 60px,#ebe5de 65px,#beb7b0 65px,#beb7b0 70px,#b0adaa 70px,#b0adaa 75px,#b3b3ad 75px,#b3b3ad 80px,#bdb7ae 80px,#bdb7ae 85px,#a09e94 85px,#a09e94 90px,#d0ccc5 90px,#d0ccc5 95px,#e4e0d9 95px,#e4e0d9 100px,#aaa5a2 100px,#aaa5a2 105px,#a6a49c 105px,#a6a49c 110px) 0 5px/100% 5px no-repeat,linear-gradient(90deg,#dfdfd5 0px,#dfdfd5 5px,#d9d8d2 5px,#d9d8d2 10px,#e9e6dd 10px,#e9e6dd 15px,#dfddda 15px,#dfddda 20px,#ebeae1 20px,#ebeae1 25px,#ebe6e1 25px,#ebe6e1 30px,#e5e1da 30px,#e5e1da 35px,#e1ded8 35px,#e1ded8 40px,#e5dfd3 40px,#e5dfd3 45px,#e7e7db 45px,#e7e7db 50px,#e2dbd4 50px,#e2dbd4 55px,#dadad8 55px,#dadad8 60px,#eceae0 60px,#eceae0 65px,#d8d7d0 65px,#d8d7d0 70px,#e5e0d5 70px,#e5e0d5 75px,#d8d6d3 75px,#d8d6d3 80px,#e0d9d0 80px,#e0d9d0 85px,#dfd8d0 85px,#dfd8d0 90px,#ddddd8 90px,#ddddd8 95px,#f2ecea 95px,#f2ecea 100px,#e2dfd9 100px,#e2dfd9 105px,#dedad4 105px,#dedad4 110px) 0 10px/100% 5px no-repeat"></span></td></tr>
<tr><td class="n"><span style="letter-spacing:0.16px">Horilla</span></td><td class="s"><span class="b down">Down</span></td><td class="d"><div>2025-10-07 <span style="letter-spacing:-0.45px">00:05:56</span></div></td><td class="m"><span class="blur" style="width:110px;background:linear-gradient(90deg,#e8e2dc 0px,#e8e2dc 5px,#c8c7c0 5px,#c8c7c0 10px,#e2e0de 10px,#e2e0de 15px,#e8e6e0 15px,#e8e6e0 20px,#cbc9c6 20px,#cbc9c6 25px,#d6d5cf 25px,#d6d5cf 30px,#efebdf 30px,#efebdf 35px,#dcd8ce 35px,#dcd8ce 40px,#dfdad5 40px,#dfdad5 45px,#e2e1d6 45px,#e2e1d6 50px,#c9c6be 50px,#c9c6be 55px,#d9d6cc 55px,#d9d6cc 60px,#e2e2dc 60px,#e2e2dc 65px,#efece9 65px,#efece9 70px,#d4cdc3 70px,#d4cdc3 75px,#e6e1d7 75px,#e6e1d7 80px,#ded8d6 80px,#ded8d6 85px,#e3deda 85px,#e3deda 90px,#e6e2df 90px,#e6e2df 95px,#e9e5e0 95px,#e9e5e0 100px,#e2e2df 100px,#e2e2df 105px,#cecbc8 105px,#cecbc8 110px) 0 0/100% 5px no-repeat,linear-gradient(90deg,#b7b7b5 0px,#b7b7b5 5px,#c7c4bd 5px,#c7c4bd 10px,#bfb9ae 10px,#bfb9ae 15px,#a9a89e 15px,#a9a89e 20px,#b4b2ae 20px,#b4b2ae 25px,#bbb8ae 25px,#bbb8ae 30px,#d5d5d2 30px,#d5d5d2 35px,#a5a49e 35px,#a5a49e 40px,#b6b4a8 40px,#b6b4a8 45px,#a9a59c 45px,#a9a59c 50px,#a8a29f 50px,#a8a29f 55px,#b2aca1 55px,#b2aca1 60px,#c7c1b5 60px,#c7c1b5 65px,#dfdbd7 65px,#dfdbd7 70px,#c8c2bb 70px,#c8c2bb 75px,#a3a198 75px,#a3a198 80px,#cfccc7 80px,#cfccc7 85px,#b3aeab 85px,#b3aeab 90px,#a5a39c 90px,#a5a39c 95px,#a19f9b 95px,#a19f9b 100px,#b7b3ad 100px,#b7b3ad 105px,#aca69b 105px,#aca69b 110px) 0 5px/100% 5px no-repeat,linear-gradient(90deg,#e0ddd8 0px,#e0ddd8 5px,#e6e3df 5px,#e6e3df 10px,#e6e3de 10px,#e6e3de 15px,#e5e3d7 15px,#e5e3d7 20px,#e6e1dc 20px,#e6e1dc 25px,#e1dedb 25px,#e1dedb 30px,#ece8df 30px,#ece8df 35px,#dbdbd8 35px,#dbdbd8 40px,#d9d7d2 40px,#d9d7d2 45px,#eae8dd 45px,#eae8dd 50px,#e7e5e3 50px,#e7e5e3 55px,#e6e1d5 55px,#e6e1d5 60px,#d9d8d2 60px,#d9d8d2 65px,#e8e6e0 65px,#e8e6e0 70px,#ece5db 70px,#ece5db 75px,#e6dfdb 75px,#e6dfdb 80px,#e3dcd1 80px,#e3dcd1 85px,#ded9d0 85px,#ded9d0 90px,#e8e4dd 90px,#e8e4dd 95px,#eae7de 95px,#eae7de 100px,#d7d6ce 100px,#d7d6ce 105px,#e8e5dd 105px,#e8e5dd 110px) 0 10px/100% 5px no-repeat"></span></td></tr>
<tr><td class="n"><span style="letter-spacing:-0.43px">Systems</span></td><td class="s"><span class="b up">Up</span></td><td class="d"><div>2025-10-07 <span style="letter-spacing:-0.45px">00:02:57</span></div></td><td class="m"><span class="blur" style="width:170px;background:linear-gradient(90deg,#e3e1d9 0px,#e3e1d9 5px,#d6d6cf 5px,#d6d6cf 10px,#d4cfcb 10px,#d4cfcb 15px,#e6e2d7 15px,#e6e2d7 20px,#e5e4dd 20px,#e5e4dd 25px,#d9d3ca 25px,#d9d3ca 30px,#e5e4d8 30px,#e5e4d8 35px,#d5d0c7 35px,#d5d0c7 40px,#eae6e3 40px,#eae6e3 45px,#e0dbd0 45px,#e0dbd0 50px,#edeae7 50px,#edeae7 55px,#ccc6be 55px,#ccc6be 60px,#d5cecb 60px,#d5cecb 65px,#cdcbc9 65px,#cdcbc9 70px,#ece6e2 70px,#ece6e2 75px,#e0dcd0 75px,#e0dcd0 80px,#d0cdc9 80px,#d0cdc9 85px,#e7e5dc 85px,#e7e5dc 90px,#d6d5ce 90px,#d6d5ce 95px,#d1ccc0 95px,#d1ccc0 100px,#cbcabe 100px,#cbcabe 105px,#d6cfc8 105px,#d6cfc8 110px,#d8d1c7 110px,#d8d1c7 115px,#dbdad8 115px,#dbdad8 120px,#d0c9c3 120px,#d0c9c3 125px,#e1dfd3 125px,#e1dfd3 130px,#e6e5dc 130px,#e6e5dc 135px,#d2cfc9 135px,#d2cfc9 140px,#ebe6e2 140px,#ebe6e2 145px,#c7c6bc 145px,#c7c6bc 150px,#ede9e1 150px,#ede9e1 155px,#d0cecc 155px,#d0cecc 160px,#c7c7c1 160px,#c7c7c1 165px,#c9c8c6 165px,#c9c8c6 170px) 0 0/100% 5px no-repeat,linear-gradient(90deg,#a09f95 0px,#a09f95 5px,#b6b6b1 5px,#b6b6b1 10px,#bdbab3 10px,#bdbab3 15px,#b0aeab 15px,#b0aeab 20px,#adaaa1 20px,#adaaa1 25px,#bebab7 25px,#bebab7 30px,#e6e1dc 30px,#e6e1dc 35px,#c9c3bb 35px,#c9c3bb 40px,#aca69b 40px,#aca69b 45px,#a59f9c 45px,#a59f9c 50px,#e7e0de 50px,#e7e0de 55px,#b0aca4 55px,#b0aca4 60px,#a19e94 60px,#a19e94 65px,#ceccc1 65px,#ceccc1 70px,#e4e4d9 70px,#e4e4d9 75px,#c6c4bf 75px,#c6c4bf 80px,#bdbab4 80px,#bdbab4 85px,#e9e3d9 85px,#e9e3d9 90px,#c7c2bd 90px,#c7c2bd 95px,#aea89c 95px,#aea89c 100px,#c2c0ba 100px,#c2c0ba 105px,#aea9a6 105px,#aea9a6 110px,#cacabe 110px,#cacabe 115px,#c4c1b7 115px,#c4c1b7 120px,#b7b3ac 120px,#b7b3ac 125px,#a5a09a 125px,#a5a09a 130px,#d8d5d1 130px,#d8d5d1 135px,#c2bcb7 135px,#c2bcb7 140px,#cfcac3 140px,#cfcac3 145px,#aaa6a1 145px,#aaa6a1 150px,#e2e1dc 150px,#e2e1dc 155px,#cdc9c2 155px,#cdc9c2 160px,#c1c1bc 160px,#c1c1bc 165px,#c6c2b6 165px,#c6c2b6 170px) 0 5px/100% 5px no-repeat,linear-gradient(90deg,#ded7cf 0px,#ded7cf 5px,#dcdcd0 5px,#dcdcd0 10px,#dbd6d2 10px,#dbd6d2 15px,#ded8d6 15px,#ded8d6 20px,#e1dddb 20px,#e1dddb 25px,#dddbd1 25px,#dddbd1 30px,#eae8e2 30px,#eae8e2 35px,#e3ded2 35px,#e3ded2 40px,#e2dbd0 40px,#e2dbd0 45px,#e3e1d7 45px,#e3e1d7 50px,#eeece6 50px,#eeece6 55px,#dbd8d2 55px,#dbd8d2 60px,#dcd7cd 60px,#dcd7cd 65px,#deded7 65px,#deded7 70px,#efe8e6 70px,#efe8e6 75px,#e9e3db 75px,#e9e3db 80px,#e3dcd9 80px,#e3dcd9 85px,#e4e4da 85px,#e4e4da 90px,#e0dbd0 90px,#e0dbd0 95px,#d7d7d2 95px,#d7d7d2 100px,#eae3e1 100px,#eae3e1 105px,#dddcd8 105px,#dddcd8 110px,#eae8de 110px,#eae8de 115px,#e4e4da 115px,#e4e4da 120px,#dedbd4 120px,#dedbd4 125px,#e7e5de 125px,#e7e5de 130px,#eae5d9 130px,#eae5d9 135px,#dfdbd9 135px,#dfdbd9 140px,#dedad2 140px,#dedad2 145px,#dbd9d5 145px,#dbd9d5 150px,#e8e7e2 150px,#e8e7e2 155px,#e5e5de 155px,#e5e5de 160px,#ece8dc 160px,#ece8dc 165px,#e3e0d7 165px,#e3e0d7 170px) 0 10px/100% 5px no-repeat"></span></td></tr>
</tbody></table>
<div id="pag" class="abs"><div style="color:#8a857e">&lt;</div><div style="background:#a52175;border-color:#a52175;color:#14060f;width:35.2px">1</div><div style="width:33px">2</div><div>&gt;</div></div>
</div>
<div id="lcover" class="abs"></div>
<div id="addbtn" class="abs pill"><svg class="abs" style="left:21px;top:12px" width="14" height="14" viewBox="0 0 14 14"><path d="M7 1.2 V12.8 M1.2 7 H12.8" stroke="#fff" stroke-width="2.7" stroke-linecap="round"/></svg><span>Add New Monitor</span></div>
<div id="lpanel" class="abs">
<div id="lhead" class="abs">
<div class="obtn" style="left:18px;top:15px;width:64px;text-align:center">Select</div>
<svg class="abs" style="left:358.7px;top:22.8px" width="17" height="17" viewBox="0 0 17 17"><circle cx="6.7" cy="6.7" r="5" fill="none" stroke="#47413a" stroke-width="2.6"/><path d="M10.6 10.6 L15.2 15.2" stroke="#47413a" stroke-width="2.6" stroke-linecap="round"/></svg>
<div class="abs pill" style="left:386px;top:13px;width:207px;height:38px;background:#f8f5ef;border:1px solid #e2d9cc"></div>
<div class="abs" style="left:400px;top:20.5px;line-height:24px;font-size:14.6px;color:#8a857e">Search...</div>
<div class="obtn" style="left:18px;top:62px;width:35px"><svg class="abs" style="left:10px;top:11px" width="14" height="12" viewBox="0 0 14 12"><rect x="0" y="0" width="11" height="2.8" rx="0.6" fill="#7d776e"/><rect x="1.8" y="4.2" width="11" height="2.8" rx="0.6" fill="#7d776e"/><rect x="0" y="8.4" width="11" height="2.8" rx="0.6" fill="#7d776e"/></svg></div>
<div class="obtn" style="left:63px;top:62px;width:90.5px"><span class="abs" style="left:13.8px;top:0">Status</span><span class="abs" style="left:65px;top:11.5px;line-height:0"><svg width="11" height="7" viewBox="0 0 12 7.6" style=""><path d="M1.6 1.6 L6 6 L10.4 1.6" fill="none" stroke="#47413a" stroke-width="2.6" stroke-linecap="round" stroke-linejoin="round"/></svg></span></div>
<div class="obtn" style="left:159px;top:62px;width:90.5px"><span class="abs" style="left:13.8px;top:0">Active</span><span class="abs" style="left:65px;top:11.5px;line-height:0"><svg width="11" height="7" viewBox="0 0 12 7.6" style=""><path d="M1.6 1.6 L6 6 L10.4 1.6" fill="none" stroke="#47413a" stroke-width="2.6" stroke-linecap="round" stroke-linejoin="round"/></svg></span></div>
<div class="obtn" style="left:255px;top:62px;width:79px"><span class="abs" style="left:13.8px;top:0">Tags</span><span class="abs" style="left:53px;top:11.5px;line-height:0"><svg width="11" height="7" viewBox="0 0 12 7.6" style=""><path d="M1.6 1.6 L6 6 L10.4 1.6" fill="none" stroke="#47413a" stroke-width="2.6" stroke-linecap="round" stroke-linejoin="round"/></svg></span></div>
</div>
<div class="item" style="top:113px">
<div class="ubadge" style="left:18px">99.58%</div>
<span class="abs" style="left:88px;top:24px;line-height:0"><svg width="14" height="9" viewBox="0 0 12 7.6" style=""><path d="M1.6 1.6 L6 6 L10.4 1.6" fill="none" stroke="#47413a" stroke-width="2.4" stroke-linecap="round" stroke-linejoin="round"/></svg></span>
<div class="iname" style="left:109px;letter-spacing:0.46px">Internet</div>
<div class="beats" style="left:312px"><i></i><i></i><i></i><i></i><i></i><i></i><i></i><i></i><i></i><i></i><i></i><i></i><i></i><i></i><i></i><i></i><i></i><i></i><i></i><i></i><i></i><i></i><i></i><i></i><i></i><i></i><i></i><i></i></div>
</div>
<div class="item" style="top:170px">
<div class="ubadge" style="left:49px">100%</div>
<div class="iname" style="left:116px;letter-spacing:0.14px">Google (DNS)</div>
<div class="beats" style="left:327.5px"><i></i><i></i><i></i><i></i><i></i><i></i><i></i><i></i><i></i><i></i><i></i><i></i><i></i><i></i><i></i><i></i><i></i><i></i><i></i><i></i><i></i><i></i><i></i><i></i><i></i><i></i></div>
</div>
<div class="item" style="top:227px">
<div class="ubadge" style="left:49px">99.44%</div>
<div class="iname" style="left:116px;letter-spacing:0.12px">Google (ICMP)</div>
<div class="beats" style="left:327.5px"><i></i><i></i><i></i><i></i><i></i><i></i><i></i><i></i><i></i><i></i><i></i><i></i><i></i><i></i><i></i><i></i><i></i><i></i><i></i><i></i><i></i><i></i><i></i><i></i><i></i><i></i></div>
</div>
<div class="item" style="top:284px">
<div class="ubadge" style="left:18px">100%</div>
<span class="abs" style="left:88px;top:24px;line-height:0"><svg width="14" height="9" viewBox="0 0 12 7.6" style=""><path d="M1.6 1.6 L6 6 L10.4 1.6" fill="none" stroke="#47413a" stroke-width="2.4" stroke-linecap="round" stroke-linejoin="round"/></svg></span>
<div class="iname" style="left:109px;letter-spacing:0.63px">Network</div>
<div class="beats" style="left:312px"><i></i><i></i><i></i><i></i><i></i><i></i><i></i><i></i><i></i><i></i><i></i><i></i><i></i><i></i><i></i><i></i><i></i><i></i><i></i><i></i><i></i><i></i><i></i><i></i><i></i><i></i><i></i><i></i></div>
</div>
<div class="item" style="top:341px">
<div class="ubadge" style="left:49px">100%</div>
<span class="abs" style="left:119px;top:24px;line-height:0"><svg width="14" height="9" viewBox="0 0 12 7.6" style=""><path d="M1.6 1.6 L6 6 L10.4 1.6" fill="none" stroke="#47413a" stroke-width="2.4" stroke-linecap="round" stroke-linejoin="round"/></svg></span>
<div class="iname" style="left:140px;letter-spacing:-0.43px">NTP</div>
<div class="beats" style="left:327.5px"><i></i><i></i><i></i><i></i><i></i><i></i><i></i><i></i><i></i><i></i><i></i><i></i><i></i><i></i><i></i><i></i><i></i><i></i><i></i><i></i><i></i><i></i><i></i><i></i><i></i><i></i></div>
</div>
<div class="item" style="top:398px">
<div class="ubadge" style="left:80px">100%</div>
<div class="iname" style="left:147px;letter-spacing:-0.19px">NTP (ICMP)</div>
<div class="beats" style="left:343px"><i></i><i></i><i></i><i></i><i></i><i></i><i></i><i></i><i></i><i></i><i></i><i></i><i></i><i></i><i></i><i></i><i></i><i></i><i></i><i></i><i></i><i></i><i></i><i></i><i></i></div>
</div>
<div class="item" style="top:455px">
<div class="ubadge" style="left:49px">100%</div>
<span class="abs" style="left:119px;top:24px;line-height:0"><svg width="14" height="9" viewBox="0 0 12 7.6" style=""><path d="M1.6 1.6 L6 6 L10.4 1.6" fill="none" stroke="#47413a" stroke-width="2.4" stroke-linecap="round" stroke-linejoin="round"/></svg></span>
<div class="iname" style="left:140px;letter-spacing:0.17px">OMR Router</div>
<div class="beats" style="left:327.5px"><i></i><i></i><i></i><i></i><i></i><i></i><i></i><i></i><i></i><i></i><i></i><i></i><i></i><i></i><i></i><i></i><i></i><i></i><i></i><i></i><i></i><i></i><i></i><i></i><i></i><i></i></div>
</div>
<div class="item" style="top:512px">
<div class="ubadge" style="left:80px">99.86%</div>
<div class="iname" style="left:147px;letter-spacing:0.11px">OMR Cloud (ICMP)</div>
<div class="beats" style="left:343px"><i></i><i></i><i></i><i></i><i></i><i></i><i></i><i></i><i></i><i></i><i></i><i></i><i></i><i></i><i></i><i></i><i></i><i></i><i></i><i></i><i></i><i></i><i></i><i></i><i></i></div>
</div>
<div class="item" style="top:569px">
<div class="ubadge" style="left:80px">100%</div>
<div class="iname" style="left:147px;letter-spacing:-0.05px">OMR Router (HTTP)</div>
<div class="beats" style="left:343px"><i></i><i></i><i></i><i></i><i></i><i></i><i></i><i></i><i></i><i></i><i></i><i></i><i></i><i></i><i></i><i></i><i></i><i></i><i></i><i></i><i></i><i></i><i></i><i></i><i></i></div>
</div>
<div class="abs" style="left:583.3px;top:116px;width:9.7px;height:99px;border-radius:5px;background:#e3dacd"></div>
</div>
</body></html>
